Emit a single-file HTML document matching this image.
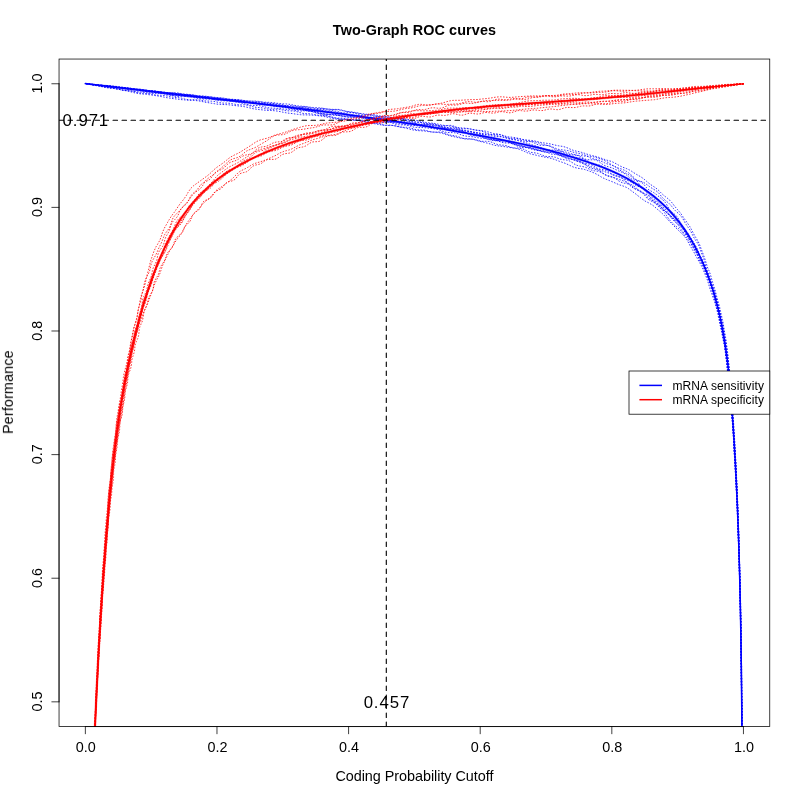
<!DOCTYPE html>
<html><head><meta charset="utf-8"><title>Two-Graph ROC curves</title>
<style>html,body{margin:0;padding:0;background:#fff;width:800px;height:800px;overflow:hidden}</style></head>
<body>
<svg width="800" height="800" viewBox="0 0 800 800" style="position:absolute;left:0;top:0;font-family:'Liberation Sans',sans-serif">
<defs><clipPath id="c"><rect x="59.04" y="59.04" width="710.72" height="667.52"/></clipPath></defs>
<rect width="800" height="800" fill="#fff"/>
<g clip-path="url(#c)" fill="none" stroke-linejoin="round">
<path d="M742.4,760.0 742.4,758.3 742.3,756.7 742.3,755.0 742.3,753.3 742.3,751.6 742.3,750.0 742.3,748.3 742.3,746.6 742.2,745.0 742.2,743.3 742.2,741.6 742.2,739.9 742.2,738.3 742.2,736.6 742.1,734.9 742.1,733.3 742.1,731.6 742.1,729.9 742.1,728.2 742.1,726.6 742.0,724.9 742.0,723.2 742.0,721.6 742.0,719.9 742.0,718.2 742.0,716.5 742.0,714.9 741.9,713.2 741.9,711.5 741.9,709.9 741.9,708.2 741.9,706.5 741.9,704.8 741.9,703.2 741.9,701.5 741.8,699.8 741.8,698.2 741.8,696.5 741.8,694.8 741.8,693.1 741.8,691.5 741.8,689.8 741.7,688.1 741.7,686.5 741.7,684.8 741.7,683.1 741.7,681.4 741.7,679.8 741.7,678.1 741.6,676.4 741.6,674.8 741.6,673.1 741.6,671.4 741.6,669.7 741.6,668.1 741.6,666.4 741.5,664.7 741.5,663.0 741.5,661.4 741.4,659.7 741.4,658.0 741.4,656.4 741.4,654.7 741.4,653.0 741.3,651.3 741.3,649.7 741.3,648.0 741.3,646.3 741.2,644.7 741.2,643.0 741.2,641.3 741.2,639.6 741.2,638.0 741.1,636.3 741.1,634.6 741.1,633.0 741.1,631.3 741.0,629.6 741.0,627.9 741.0,626.3 740.9,624.6 740.9,622.9 740.9,621.3 740.9,619.6 740.9,617.9 740.8,616.2 740.8,614.6 740.8,612.9 740.7,611.2 740.7,609.6 740.7,607.9 740.6,606.2 740.6,604.5 740.6,602.9 740.6,601.2 740.5,599.5 740.5,597.9 740.4,596.2 740.4,594.5 740.3,592.8 740.3,591.2 740.3,589.5 740.2,587.8 740.2,586.2 740.1,584.5 740.1,582.8 740.0,581.1 740.0,579.5 739.9,577.8 739.9,576.1 739.9,574.5 739.8,572.8 739.8,571.1 739.8,569.4 739.7,567.8 739.7,566.1 739.6,564.4 739.6,562.8 739.5,561.1 739.5,559.4 739.4,557.7 739.4,556.1 739.4,554.4 739.3,552.7 739.3,551.1 739.2,549.4 739.2,547.7 739.1,546.0 739.1,544.4 739.0,542.7 739.0,541.0 738.9,539.4 738.9,537.7 738.8,536.0 738.8,534.4 738.7,532.7 738.7,531.0 738.6,529.3 738.5,527.7 738.5,526.0 738.4,524.3 738.4,522.7 738.3,521.0 738.3,519.3 738.2,517.6 738.2,516.0 738.1,514.3 738.0,512.6 737.9,511.0 737.9,509.3 737.8,507.6 737.8,506.0 737.7,504.3 737.7,502.6 737.6,500.9 737.5,499.3 737.4,497.6 737.4,495.9 737.3,494.3 737.2,492.6 737.2,490.9 737.1,489.2 737.1,487.6 737.0,485.9 736.9,484.2 736.8,482.6 736.8,480.9 736.7,479.2 736.6,477.6 736.6,475.9 736.5,474.2 736.4,472.5 736.4,470.9 736.3,469.2 736.2,467.5 736.1,465.9 736.0,464.2 735.9,462.5 735.8,460.9 735.7,459.2 735.6,457.5 735.5,455.8 735.5,454.2 735.4,452.5 735.3,450.8 735.2,449.2 735.1,447.5 735.0,445.8 734.9,444.2 734.8,442.5 734.7,440.8 734.6,439.1 734.5,437.5 734.4,435.8 734.3,434.1 734.2,432.5 734.1,430.8 734.0,429.1 733.9,427.5 733.8,425.8 733.7,424.1 733.6,422.5 733.5,420.8 733.4,419.1 733.3,417.4 733.1,415.8 733.0,414.1 732.9,412.4 732.8,410.8 732.7,409.1 732.6,407.4 732.5,405.8 732.4,404.1 732.3,402.4 732.2,400.8 732.0,399.1 731.9,397.4 731.8,395.8 731.6,394.1 731.5,392.4 731.4,390.7 731.3,389.1 731.1,387.4 731.0,385.8 730.8,384.1 730.6,382.4 730.4,380.8 730.3,379.1 730.1,377.4 730.0,375.8 729.9,374.1 729.7,372.4 729.6,370.8 729.4,369.1 729.2,367.4 729.0,365.8 728.8,364.1 728.6,362.5 728.5,360.8 728.3,359.1 728.2,357.5 728.0,355.8 727.8,354.1 727.6,352.5 727.4,350.8 727.2,349.2 727.0,347.5 726.7,345.8 726.5,344.2 726.3,342.5 726.1,340.9 725.9,339.2 725.6,337.6 725.3,335.9 725.0,334.3 724.7,332.6 724.4,331.0 724.1,329.3 723.9,327.7 723.6,326.0 723.4,324.3 723.1,322.7 722.8,321.0 722.4,319.4 722.0,317.8 721.6,316.1 721.2,314.5 720.9,312.9 720.5,311.2 720.1,309.6 719.8,307.9 719.4,306.3 719.0,304.7 718.5,303.1 718.1,301.4 717.6,299.8 717.2,298.2 716.7,296.5 716.3,294.9 715.9,293.3 715.5,291.6 715.0,290.0 714.5,288.4 714.0,286.8 713.5,285.2 713.0,283.5 712.5,281.9 712.0,280.3 711.5,278.6 711.1,277.0 710.6,275.3 710.1,273.7 709.5,272.1 708.9,270.5 708.2,269.0 707.5,267.4 707.0,265.8 706.5,264.1 706.0,262.5 705.5,260.8 705.0,259.2 704.4,257.6 703.8,255.9 703.2,254.3 702.6,252.7 702.0,251.1 701.4,249.5 700.8,247.9 700.2,246.2 699.6,244.6 698.9,243.0 698.1,241.5 697.2,240.0 696.4,238.5 695.5,237.1 694.6,235.6 693.8,234.1 693.0,232.5 692.2,231.0 691.4,229.4 690.6,227.9 689.7,226.4 688.8,225.0 687.8,223.6 686.8,222.2 685.8,220.8 684.8,219.4 683.8,217.9 682.8,216.5 681.9,215.1 680.9,213.7 679.8,212.3 678.7,211.0 677.6,209.7 676.4,208.4 675.3,207.0 674.2,205.7 673.2,204.3 672.1,202.9 671.0,201.6 669.8,200.3 668.5,199.2 667.2,198.0 665.8,197.0 664.4,195.9 663.1,194.8 661.8,193.6 660.6,192.4 659.4,191.1 658.1,189.9 656.8,188.8 655.4,187.7 653.9,186.7 652.5,185.8 651.0,184.8 649.6,183.8 648.2,182.7 646.9,181.6 645.6,180.4 644.2,179.3 642.8,178.2 641.4,177.2 639.9,176.3 638.4,175.5 636.9,174.6 635.4,173.7 633.9,172.8 632.4,171.8 631.0,170.8 629.5,170.0 627.9,169.2 626.3,168.5 624.6,167.9 623.0,167.3 621.4,166.6 619.9,165.9 618.3,165.0 616.8,164.1 615.3,163.3 613.8,162.5 612.2,161.8 610.6,161.2 608.9,160.7 607.3,160.3 605.6,159.8 604.0,159.2 602.4,158.6 600.8,158.0 599.2,157.5 597.6,156.9 596.0,156.5 594.4,156.1 592.7,155.7 591.0,155.4 589.4,154.9 587.8,154.4 586.2,153.9 584.6,153.3 583.1,152.8 581.4,152.3 579.8,151.9 578.2,151.5 576.5,151.2 574.9,150.8 573.2,150.3 571.6,149.7 570.1,149.1 568.5,148.4 566.9,147.7 565.3,147.1 563.7,146.7 562.0,146.3 560.3,146.1 558.6,145.8 556.9,145.5 555.2,145.1 553.6,144.7 551.9,144.3 550.2,143.9 548.6,143.6 546.9,143.3 545.2,143.1 543.5,142.9 541.8,142.6 540.1,142.3 538.5,141.9 536.8,141.5 535.2,141.1 533.5,140.8 531.8,140.5 530.1,140.3 528.4,140.2 526.7,140.1 525.1,139.9 523.4,139.6 521.7,139.2 520.1,138.8 518.5,138.4 516.8,138.0 515.2,137.7 513.5,137.4 511.8,137.2 510.2,137.0 508.5,136.8 506.8,136.5 505.2,136.1 503.6,135.7 501.9,135.2 500.3,134.8 498.7,134.4 497.0,134.1 495.4,133.8 493.7,133.5 492.1,133.1 490.5,132.6 488.8,132.1 487.2,131.7 485.6,131.2 483.9,130.9 482.3,130.7 480.6,130.5 478.9,130.4 477.2,130.3 475.6,130.1 473.9,129.8 472.3,129.5 470.6,129.1 469.0,128.7 467.3,128.4 465.7,128.2 464.0,128.1 462.3,128.0 460.6,127.9 458.9,127.7 457.3,127.5 455.6,127.2 454.0,126.8 452.3,126.5 450.7,126.2 449.0,126.0 447.4,125.8 445.7,125.6 444.0,125.4 442.4,125.1 440.7,124.8 439.1,124.4 437.5,124.0 435.8,123.6 434.2,123.4 432.5,123.2 430.8,123.1 429.2,122.9 427.5,122.7 425.9,122.5 424.2,122.1 422.6,121.7 421.0,121.3 419.3,120.9 417.7,120.6 416.0,120.3 414.4,120.1 412.7,120.0 411.0,119.8 409.4,119.6 407.7,119.4 406.1,119.1 404.4,118.8 402.8,118.6 401.1,118.5 399.4,118.4 397.7,118.3 396.0,118.2 394.4,118.1 392.7,117.9 391.1,117.7 389.4,117.4 387.8,117.2 386.1,117.0 384.4,116.9 382.7,116.8 381.1,116.7 379.4,116.6 377.7,116.4 376.1,116.2 374.4,115.8 372.8,115.4 371.2,115.0 369.5,114.7 367.9,114.4 366.2,114.2 364.6,114.0 362.9,113.8 361.3,113.6 359.6,113.3 358.0,113.0 356.3,112.7 354.7,112.4 353.0,112.1 351.4,111.9 349.7,111.8 348.1,111.6 346.4,111.4 344.7,111.1 343.1,110.8 341.5,110.4 339.8,110.1 338.2,109.9 336.5,109.7 334.8,109.6 333.2,109.5 331.5,109.5 329.8,109.4 328.2,109.2 326.5,109.0 324.8,108.7 323.2,108.4 321.6,108.1 319.9,107.9 318.2,107.8 316.6,107.7 314.9,107.6 313.2,107.5 311.5,107.4 309.9,107.2 308.2,107.0 306.6,106.7 304.9,106.5 303.3,106.3 301.6,106.2 299.9,106.1 298.3,105.9 296.6,105.7 295.0,105.4 293.3,105.1 291.7,104.7 290.0,104.4 288.4,104.2 286.7,104.0 285.1,103.9 283.4,103.8 281.7,103.7 280.1,103.6 278.4,103.4 276.7,103.2 275.1,102.9 273.4,102.7 271.8,102.5 270.1,102.4 268.4,102.3 266.8,102.3 265.1,102.2 263.4,102.2 261.7,102.0 260.1,101.9 258.4,101.7 256.8,101.5 255.1,101.4 253.4,101.3 251.7,101.2 250.1,101.1 248.4,101.0 246.8,100.8 245.1,100.6 243.4,100.3 241.8,100.1 240.1,99.8 238.5,99.6 236.8,99.5 235.1,99.5 233.5,99.4 231.8,99.3 230.1,99.2 228.5,99.0 226.8,98.7 225.2,98.4 223.5,98.2 221.9,98.0 220.2,97.8 218.5,97.6 216.9,97.5 215.2,97.4 213.5,97.2 211.9,97.0 210.2,96.8 208.6,96.5 206.9,96.3 205.2,96.2 203.6,96.0 201.9,95.9 200.2,95.8 198.6,95.7 196.9,95.6 195.2,95.4 193.6,95.1 191.9,94.9 190.3,94.8 188.6,94.7 186.9,94.6 185.2,94.5 183.6,94.5 181.9,94.4 180.2,94.2 178.6,94.0 176.9,93.8 175.3,93.5 173.6,93.2 171.9,93.0 170.3,92.9 168.6,92.7 166.9,92.6 165.3,92.4 163.6,92.2 162.0,92.0 160.3,91.7 158.7,91.5 157.0,91.3 155.3,91.1 153.7,91.0 152.0,90.8 150.3,90.7 148.7,90.5 147.0,90.2 145.3,90.0 143.7,89.7 142.0,89.5 140.4,89.2 138.7,89.1 137.0,89.0 135.4,88.9 133.7,88.7 132.0,88.6 130.4,88.4 128.7,88.1 127.0,87.9 125.4,87.7 123.7,87.5 122.1,87.3 120.4,87.2 118.7,87.0 117.0,86.9 115.4,86.7 113.7,86.5 112.0,86.3 110.4,86.1 108.7,86.0 107.0,85.8 105.4,85.7 103.7,85.5 102.0,85.4 100.4,85.2 98.7,85.0 97.0,84.8 95.4,84.6 93.7,84.4 92.0,84.2 90.4,84.0 88.7,83.9 87.0,83.7 85.4,83.5" stroke="#00f" stroke-width="0.8" stroke-dasharray="0.75 2.25" stroke-linecap="round"/>
<path d="M742.4,760.0 742.4,758.3 742.4,756.7 742.3,755.0 742.3,753.3 742.3,751.6 742.3,750.0 742.3,748.3 742.3,746.6 742.3,745.0 742.2,743.3 742.2,741.6 742.2,739.9 742.2,738.3 742.2,736.6 742.2,734.9 742.2,733.3 742.2,731.6 742.2,729.9 742.1,728.2 742.1,726.6 742.1,724.9 742.1,723.2 742.1,721.6 742.1,719.9 742.0,718.2 742.0,716.5 742.0,714.9 742.0,713.2 741.9,711.5 741.9,709.9 741.9,708.2 741.9,706.5 741.9,704.8 741.9,703.2 741.9,701.5 741.8,699.8 741.8,698.2 741.8,696.5 741.8,694.8 741.8,693.1 741.7,691.5 741.7,689.8 741.7,688.1 741.7,686.5 741.7,684.8 741.7,683.1 741.6,681.4 741.6,679.8 741.6,678.1 741.6,676.4 741.5,674.8 741.5,673.1 741.5,671.4 741.5,669.7 741.5,668.1 741.5,666.4 741.5,664.7 741.4,663.0 741.4,661.4 741.4,659.7 741.4,658.0 741.4,656.4 741.4,654.7 741.4,653.0 741.3,651.3 741.3,649.7 741.3,648.0 741.2,646.3 741.2,644.7 741.2,643.0 741.1,641.3 741.1,639.6 741.1,638.0 741.1,636.3 741.0,634.6 741.0,633.0 740.9,631.3 740.9,629.6 740.9,627.9 740.9,626.3 740.9,624.6 740.9,622.9 740.8,621.3 740.8,619.6 740.8,617.9 740.8,616.2 740.7,614.6 740.7,612.9 740.7,611.2 740.7,609.6 740.6,607.9 740.6,606.2 740.6,604.5 740.6,602.9 740.5,601.2 740.5,599.5 740.4,597.9 740.4,596.2 740.3,594.5 740.3,592.8 740.3,591.2 740.3,589.5 740.2,587.8 740.2,586.2 740.2,584.5 740.1,582.8 740.1,581.1 740.0,579.5 740.0,577.8 740.0,576.1 739.9,574.5 739.9,572.8 739.9,571.1 739.8,569.4 739.7,567.8 739.7,566.1 739.6,564.4 739.5,562.8 739.5,561.1 739.4,559.4 739.4,557.7 739.3,556.1 739.3,554.4 739.2,552.7 739.2,551.1 739.1,549.4 739.0,547.7 739.0,546.1 739.0,544.4 738.9,542.7 738.9,541.0 738.9,539.4 738.8,537.7 738.8,536.0 738.7,534.4 738.7,532.7 738.6,531.0 738.6,529.3 738.5,527.7 738.5,526.0 738.4,524.3 738.4,522.7 738.3,521.0 738.2,519.3 738.1,517.6 738.0,516.0 737.9,514.3 737.9,512.6 737.8,511.0 737.8,509.3 737.7,507.6 737.7,506.0 737.6,504.3 737.5,502.6 737.4,500.9 737.3,499.3 737.3,497.6 737.2,495.9 737.1,494.3 737.1,492.6 737.0,490.9 737.0,489.3 736.9,487.6 736.8,485.9 736.7,484.2 736.6,482.6 736.5,480.9 736.4,479.2 736.3,477.6 736.3,475.9 736.2,474.2 736.1,472.6 736.1,470.9 736.0,469.2 735.9,467.5 735.8,465.9 735.7,464.2 735.7,462.5 735.6,460.9 735.6,459.2 735.5,457.5 735.5,455.8 735.4,454.2 735.3,452.5 735.2,450.8 735.1,449.2 735.0,447.5 734.9,445.8 734.8,444.2 734.7,442.5 734.6,440.8 734.5,439.2 734.4,437.5 734.2,435.8 734.1,434.2 733.9,432.5 733.8,430.8 733.7,429.2 733.6,427.5 733.6,425.8 733.5,424.1 733.4,422.5 733.3,420.8 733.2,419.1 733.0,417.5 732.9,415.8 732.8,414.1 732.7,412.5 732.7,410.8 732.6,409.1 732.5,407.4 732.4,405.8 732.2,404.1 732.0,402.4 731.9,400.8 731.7,399.1 731.6,397.4 731.5,395.8 731.4,394.1 731.3,392.4 731.1,390.8 731.0,389.1 730.8,387.4 730.7,385.8 730.5,384.1 730.3,382.4 730.2,380.8 730.1,379.1 730.0,377.4 729.9,375.8 729.7,374.1 729.5,372.4 729.3,370.8 729.1,369.1 728.8,367.5 728.6,365.8 728.4,364.2 728.2,362.5 728.0,360.9 727.8,359.2 727.5,357.5 727.3,355.9 727.0,354.2 726.7,352.6 726.4,351.0 726.1,349.3 725.9,347.7 725.7,346.0 725.5,344.3 725.3,342.7 725.1,341.0 724.9,339.4 724.6,337.7 724.3,336.1 724.0,334.4 723.8,332.8 723.5,331.1 723.3,329.5 723.1,327.8 722.8,326.2 722.5,324.5 722.2,322.9 721.8,321.3 721.3,319.6 720.9,318.0 720.6,316.4 720.2,314.7 719.9,313.1 719.6,311.5 719.2,309.8 718.8,308.2 718.4,306.6 718.0,304.9 717.5,303.3 717.1,301.7 716.6,300.1 716.3,298.4 715.9,296.8 715.6,295.1 715.2,293.5 714.7,291.9 714.2,290.3 713.6,288.7 713.0,287.1 712.4,285.5 711.9,283.9 711.4,282.3 710.9,280.7 710.4,279.0 709.8,277.4 709.2,275.8 708.6,274.3 707.9,272.7 707.3,271.1 706.7,269.6 706.2,267.9 705.7,266.3 705.4,264.6 705.0,262.9 704.6,261.2 704.0,259.6 703.5,258.0 702.8,256.4 702.2,254.8 701.6,253.2 701.0,251.6 700.5,250.0 699.9,248.3 699.3,246.7 698.6,245.1 697.8,243.6 696.9,242.2 696.0,240.8 695.0,239.3 694.1,237.9 693.3,236.4 692.5,234.9 691.8,233.3 691.0,231.8 690.1,230.3 689.2,228.9 688.2,227.5 687.2,226.1 686.3,224.7 685.3,223.2 684.5,221.7 683.7,220.2 682.8,218.7 681.9,217.3 680.8,215.9 679.7,214.7 678.4,213.5 677.1,212.3 675.9,211.2 674.7,210.0 673.6,208.7 672.5,207.3 671.4,206.0 670.3,204.7 669.1,203.5 667.8,202.4 666.5,201.3 665.1,200.2 663.9,199.1 662.7,197.9 661.5,196.6 660.5,195.2 659.4,193.8 658.2,192.5 656.9,191.4 655.5,190.4 654.0,189.5 652.5,188.6 651.1,187.7 649.6,186.7 648.3,185.7 646.9,184.6 645.5,183.6 644.0,182.7 642.5,182.0 640.8,181.4 639.1,180.9 637.4,180.3 635.9,179.7 634.4,178.8 633.0,177.9 631.6,176.8 630.2,175.8 628.8,174.9 627.3,174.0 625.8,173.3 624.2,172.5 622.7,171.8 621.2,170.9 619.8,170.0 618.4,168.9 617.0,167.9 615.6,166.9 614.1,166.1 612.5,165.4 610.9,164.9 609.2,164.5 607.6,164.0 606.0,163.5 604.5,162.8 603.0,162.0 601.4,161.3 599.9,160.6 598.3,160.0 596.7,159.5 595.1,159.2 593.4,158.8 591.8,158.3 590.2,157.8 588.7,157.0 587.2,156.2 585.7,155.4 584.2,154.7 582.6,154.2 581.0,153.8 579.3,153.5 577.6,153.2 575.9,152.9 574.3,152.5 572.7,152.0 571.1,151.5 569.5,151.0 567.8,150.6 566.2,150.3 564.4,150.1 562.7,149.9 561.0,149.8 559.3,149.5 557.7,149.1 556.1,148.5 554.5,147.8 552.9,147.1 551.3,146.5 549.7,146.0 548.1,145.6 546.4,145.3 544.7,144.9 543.1,144.5 541.5,144.0 539.9,143.4 538.3,142.8 536.7,142.3 535.0,141.9 533.3,141.6 531.6,141.6 529.9,141.6 528.1,141.5 526.4,141.5 524.8,141.2 523.1,140.9 521.5,140.5 519.8,140.2 518.1,140.0 516.5,139.8 514.8,139.7 513.0,139.7 511.4,139.5 509.7,139.2 508.1,138.8 506.5,138.3 504.9,137.7 503.3,137.3 501.6,136.9 499.9,136.7 498.2,136.6 496.5,136.5 494.9,136.4 493.2,136.2 491.5,135.9 489.9,135.5 488.3,135.1 486.6,134.7 485.0,134.5 483.3,134.3 481.6,134.2 479.9,134.1 478.3,133.9 476.6,133.6 475.0,133.1 473.4,132.5 471.8,131.9 470.2,131.3 468.6,130.9 467.0,130.5 465.3,130.3 463.6,130.1 462.0,129.8 460.3,129.4 458.7,128.9 457.1,128.5 455.5,128.0 453.8,127.7 452.2,127.6 450.5,127.5 448.8,127.6 447.1,127.6 445.4,127.6 443.7,127.4 442.0,127.1 440.4,126.8 438.8,126.4 437.1,126.1 435.5,125.8 433.8,125.7 432.1,125.5 430.5,125.3 428.8,125.0 427.2,124.6 425.6,124.0 424.0,123.4 422.4,122.9 420.8,122.5 419.1,122.2 417.5,122.0 415.8,121.9 414.1,121.7 412.5,121.5 410.8,121.2 409.2,120.8 407.6,120.4 405.9,120.0 404.3,119.7 402.6,119.5 400.9,119.4 399.3,119.4 397.6,119.2 395.9,118.9 394.3,118.6 392.7,118.1 391.1,117.6 389.5,117.1 387.8,116.8 386.2,116.5 384.5,116.4 382.8,116.2 381.2,116.1 379.5,115.8 377.9,115.5 376.2,115.2 374.6,114.8 372.9,114.6 371.3,114.5 369.6,114.4 367.9,114.5 366.2,114.6 364.5,114.5 362.8,114.4 361.2,114.1 359.6,113.7 357.9,113.3 356.3,113.0 354.6,112.7 353.0,112.5 351.3,112.3 349.7,112.1 348.0,111.8 346.4,111.4 344.8,111.0 343.1,110.5 341.5,110.0 339.9,109.6 338.2,109.4 336.5,109.4 334.9,109.4 333.2,109.4 331.5,109.3 329.8,109.2 328.2,109.0 326.5,108.8 324.9,108.6 323.2,108.4 321.5,108.4 319.8,108.4 318.1,108.5 316.5,108.5 314.8,108.4 313.1,108.1 311.5,107.8 309.9,107.5 308.2,107.2 306.6,106.9 304.9,106.8 303.2,106.7 301.5,106.7 299.9,106.7 298.2,106.6 296.5,106.4 294.9,106.2 293.2,105.9 291.6,105.7 289.9,105.6 288.2,105.5 286.5,105.5 284.9,105.6 283.2,105.5 281.5,105.4 279.9,105.1 278.2,104.8 276.6,104.4 275.0,104.1 273.3,103.8 271.6,103.6 270.0,103.4 268.3,103.3 266.7,103.0 265.0,102.8 263.4,102.4 261.7,102.0 260.1,101.6 258.5,101.4 256.8,101.2 255.1,101.1 253.4,101.2 251.7,101.2 250.1,101.2 248.4,101.1 246.7,101.0 245.1,100.7 243.4,100.5 241.8,100.4 240.1,100.3 238.4,100.2 236.7,100.2 235.1,100.2 233.4,100.0 231.7,99.8 230.1,99.5 228.5,99.1 226.8,98.8 225.2,98.5 223.5,98.3 221.8,98.2 220.2,98.1 218.5,98.0 216.8,97.8 215.2,97.6 213.5,97.4 211.9,97.1 210.2,96.8 208.6,96.6 206.9,96.5 205.2,96.5 203.5,96.4 201.9,96.4 200.2,96.2 198.5,96.0 196.9,95.7 195.2,95.3 193.6,95.0 191.9,94.7 190.3,94.5 188.6,94.4 187.0,94.3 185.3,94.1 183.6,93.9 182.0,93.7 180.3,93.4 178.7,93.1 177.0,92.9 175.3,92.8 173.7,92.7 172.0,92.8 170.3,92.8 168.6,92.8 166.9,92.7 165.3,92.6 163.6,92.4 161.9,92.2 160.3,92.0 158.6,91.8 156.9,91.7 155.3,91.7 153.6,91.6 151.9,91.4 150.3,91.2 148.6,90.8 147.0,90.5 145.3,90.1 143.7,89.8 142.0,89.5 140.4,89.4 138.7,89.2 137.0,89.1 135.3,89.0 133.7,88.8 132.0,88.5 130.4,88.2 128.7,88.0 127.1,87.8 125.4,87.7 123.7,87.6 122.0,87.5 120.3,87.4 118.7,87.3 117.0,87.1 115.4,86.8 113.7,86.5 112.0,86.3 110.4,86.1 108.7,85.9 107.0,85.7 105.4,85.6 103.7,85.5 102.0,85.3 100.4,85.1 98.7,84.9 97.0,84.7 95.4,84.5 93.7,84.4 92.0,84.2 90.4,84.1 88.7,83.9 87.0,83.8 85.3,83.6" stroke="#00f" stroke-width="0.8" stroke-dasharray="0.75 2.25" stroke-linecap="round"/>
<path d="M742.2,760.0 742.2,758.3 742.2,756.7 742.2,755.0 742.2,753.3 742.2,751.6 742.2,750.0 742.1,748.3 742.1,746.6 742.1,745.0 742.1,743.3 742.0,741.6 742.0,739.9 742.0,738.3 742.0,736.6 742.0,734.9 742.0,733.3 742.0,731.6 742.0,729.9 742.0,728.2 742.0,726.6 741.9,724.9 741.9,723.2 741.9,721.6 741.9,719.9 741.9,718.2 741.9,716.5 741.9,714.9 741.8,713.2 741.8,711.5 741.8,709.9 741.8,708.2 741.8,706.5 741.8,704.8 741.8,703.2 741.7,701.5 741.7,699.8 741.7,698.2 741.6,696.5 741.6,694.8 741.6,693.1 741.6,691.5 741.6,689.8 741.6,688.1 741.6,686.5 741.6,684.8 741.6,683.1 741.6,681.4 741.5,679.8 741.5,678.1 741.5,676.4 741.4,674.8 741.4,673.1 741.4,671.4 741.4,669.7 741.4,668.1 741.4,666.4 741.3,664.7 741.3,663.1 741.3,661.4 741.3,659.7 741.3,658.0 741.3,656.4 741.3,654.7 741.2,653.0 741.2,651.3 741.2,649.7 741.1,648.0 741.1,646.3 741.0,644.7 741.0,643.0 741.0,641.3 741.0,639.6 741.0,638.0 741.0,636.3 741.0,634.6 740.9,633.0 740.9,631.3 740.9,629.6 740.8,627.9 740.8,626.3 740.7,624.6 740.7,622.9 740.7,621.3 740.6,619.6 740.6,617.9 740.6,616.2 740.6,614.6 740.5,612.9 740.5,611.2 740.5,609.6 740.5,607.9 740.5,606.2 740.5,604.5 740.4,602.9 740.4,601.2 740.4,599.5 740.3,597.9 740.2,596.2 740.2,594.5 740.2,592.8 740.1,591.2 740.1,589.5 740.1,587.8 740.1,586.2 740.1,584.5 740.1,582.8 740.0,581.1 740.0,579.5 739.9,577.8 739.8,576.1 739.8,574.5 739.7,572.8 739.7,571.1 739.7,569.4 739.6,567.8 739.6,566.1 739.5,564.4 739.5,562.8 739.5,561.1 739.4,559.4 739.4,557.7 739.4,556.1 739.4,554.4 739.3,552.7 739.3,551.1 739.2,549.4 739.1,547.7 739.0,546.1 739.0,544.4 738.9,542.7 738.9,541.0 738.9,539.4 738.9,537.7 738.9,536.0 738.8,534.4 738.8,532.7 738.7,531.0 738.6,529.3 738.6,527.7 738.5,526.0 738.4,524.3 738.4,522.7 738.3,521.0 738.3,519.3 738.2,517.6 738.2,516.0 738.1,514.3 738.0,512.6 738.0,511.0 737.9,509.3 737.9,507.6 737.8,505.9 737.8,504.3 737.7,502.6 737.6,500.9 737.5,499.3 737.3,497.6 737.2,495.9 737.1,494.3 737.0,492.6 737.0,490.9 737.0,489.3 737.0,487.6 736.9,485.9 736.9,484.2 736.8,482.6 736.7,480.9 736.6,479.2 736.4,477.6 736.4,475.9 736.3,474.2 736.2,472.6 736.1,470.9 736.0,469.2 735.9,467.5 735.8,465.9 735.7,464.2 735.7,462.5 735.6,460.9 735.5,459.2 735.5,457.5 735.4,455.9 735.3,454.2 735.2,452.5 735.1,450.8 734.9,449.2 734.7,447.5 734.6,445.9 734.5,444.2 734.4,442.5 734.3,440.8 734.3,439.2 734.2,437.5 734.2,435.8 734.1,434.2 733.9,432.5 733.8,430.8 733.6,429.2 733.5,427.5 733.3,425.8 733.2,424.2 733.1,422.5 732.9,420.8 732.8,419.2 732.7,417.5 732.5,415.8 732.4,414.2 732.3,412.5 732.3,410.8 732.2,409.1 732.1,407.5 732.1,405.8 731.9,404.1 731.8,402.5 731.6,400.8 731.4,399.1 731.2,397.5 731.0,395.8 730.9,394.1 730.8,392.5 730.8,390.8 730.7,389.1 730.6,387.5 730.5,385.8 730.4,384.1 730.2,382.5 730.0,380.8 729.7,379.1 729.5,377.5 729.4,375.8 729.2,374.2 729.0,372.5 728.8,370.8 728.6,369.2 728.4,367.5 728.2,365.9 728.0,364.2 727.8,362.6 727.7,360.9 727.6,359.2 727.4,357.6 727.2,355.9 727.0,354.2 726.7,352.6 726.3,351.0 726.0,349.3 725.6,347.7 725.3,346.1 725.1,344.4 724.9,342.7 724.8,341.1 724.6,339.4 724.4,337.8 724.2,336.1 723.9,334.5 723.5,332.8 723.2,331.2 722.9,329.6 722.5,327.9 722.2,326.3 721.9,324.6 721.6,323.0 721.2,321.4 720.8,319.7 720.4,318.1 720.1,316.5 719.8,314.8 719.5,313.2 719.2,311.5 718.9,309.9 718.6,308.2 718.1,306.6 717.6,305.0 717.0,303.4 716.4,301.9 715.7,300.3 715.2,298.7 714.7,297.1 714.2,295.5 713.9,293.9 713.5,292.2 713.1,290.6 712.7,289.0 712.2,287.4 711.6,285.8 711.0,284.2 710.4,282.6 709.8,281.0 709.2,279.4 708.7,277.9 708.1,276.3 707.4,274.7 706.8,273.1 706.1,271.6 705.5,270.0 704.9,268.5 704.3,266.9 703.9,265.2 703.4,263.6 702.9,261.9 702.4,260.3 701.7,258.8 700.8,257.3 699.9,255.9 698.9,254.5 698.0,253.1 697.1,251.6 696.4,250.1 695.8,248.5 695.3,246.9 694.8,245.3 694.1,243.7 693.4,242.2 692.6,240.8 691.6,239.3 690.7,237.9 689.8,236.6 688.9,235.2 687.9,233.7 687.0,232.4 686.0,231.0 685.0,229.7 684.0,228.4 682.9,227.1 681.9,225.8 681.0,224.3 680.3,222.8 679.6,221.3 678.9,219.7 678.1,218.2 677.1,216.8 676.0,215.5 674.8,214.4 673.4,213.3 672.1,212.3 670.9,211.2 669.8,209.9 668.8,208.5 668.0,207.0 667.2,205.5 666.3,203.9 665.3,202.5 664.2,201.2 663.0,200.1 661.7,199.0 660.4,197.9 659.1,196.8 657.8,195.7 656.5,194.6 655.1,193.6 653.7,192.6 652.3,191.8 650.8,190.9 649.3,190.1 648.0,189.1 646.7,187.9 645.6,186.6 644.5,185.2 643.3,183.8 642.0,182.7 640.6,181.8 639.0,181.1 637.2,180.7 635.5,180.3 633.7,179.9 632.1,179.3 630.7,178.5 629.3,177.5 628.0,176.3 626.7,175.2 625.3,174.1 623.9,173.2 622.4,172.4 620.8,171.8 619.2,171.2 617.7,170.5 616.1,169.8 614.6,169.1 613.1,168.4 611.5,167.7 609.9,167.2 608.3,166.8 606.7,166.3 605.1,165.7 603.6,165.0 602.2,164.1 600.8,163.0 599.4,161.9 598.0,161.0 596.4,160.3 594.8,159.9 593.1,159.7 591.3,159.8 589.5,159.8 587.8,159.7 586.2,159.4 584.6,158.9 583.1,158.1 581.6,157.3 580.1,156.5 578.6,155.8 577.0,155.3 575.3,154.8 573.7,154.4 572.1,154.0 570.5,153.5 568.8,153.0 567.2,152.5 565.6,152.0 564.0,151.7 562.3,151.4 560.6,151.1 558.9,150.8 557.3,150.3 555.7,149.7 554.2,148.8 552.7,147.8 551.2,146.9 549.7,146.1 548.1,145.6 546.4,145.3 544.6,145.3 542.9,145.3 541.2,145.3 539.5,145.1 537.8,144.6 536.2,144.0 534.7,143.2 533.1,142.4 531.6,141.7 530.0,141.2 528.3,140.7 526.7,140.4 525.0,140.1 523.4,139.7 521.7,139.4 520.1,139.0 518.4,138.7 516.7,138.5 515.0,138.4 513.3,138.4 511.6,138.3 509.9,138.2 508.3,137.9 506.7,137.3 505.1,136.6 503.5,135.8 502.0,135.1 500.4,134.6 498.7,134.3 497.0,134.3 495.3,134.3 493.5,134.5 491.8,134.5 490.1,134.3 488.5,133.8 486.9,133.2 485.3,132.6 483.8,131.9 482.2,131.3 480.5,130.9 478.9,130.6 477.2,130.3 475.6,130.0 473.9,129.7 472.3,129.3 470.6,129.0 469.0,128.8 467.3,128.7 465.6,128.7 463.9,128.7 462.2,128.7 460.5,128.5 458.9,128.2 457.3,127.6 455.7,127.0 454.1,126.3 452.5,125.7 450.8,125.4 449.1,125.3 447.4,125.5 445.7,125.7 443.9,125.9 442.2,126.0 440.5,125.9 438.9,125.7 437.3,125.2 435.7,124.8 434.0,124.4 432.4,124.0 430.7,123.8 429.1,123.6 427.4,123.5 425.7,123.2 424.1,123.0 422.4,122.7 420.8,122.5 419.1,122.3 417.4,122.3 415.7,122.3 414.0,122.3 412.4,122.2 410.7,121.9 409.1,121.4 407.5,120.8 405.9,120.1 404.3,119.4 402.7,118.9 401.1,118.7 399.4,118.7 397.7,118.8 395.9,119.0 394.2,119.2 392.5,119.2 390.9,119.0 389.2,118.7 387.6,118.3 386.0,117.9 384.3,117.6 382.7,117.3 381.0,117.1 379.4,116.9 377.7,116.7 376.0,116.5 374.4,116.2 372.7,116.0 371.1,115.8 369.4,115.7 367.7,115.7 366.0,115.8 364.3,115.8 362.7,115.7 361.0,115.4 359.4,115.0 357.8,114.4 356.2,113.7 354.6,113.2 352.9,112.8 351.3,112.7 349.6,112.7 347.9,112.8 346.2,112.9 344.5,113.0 342.8,112.8 341.2,112.5 339.6,112.1 337.9,111.7 336.3,111.3 334.7,111.0 333.0,110.7 331.3,110.5 329.7,110.3 328.0,110.1 326.4,109.8 324.7,109.6 323.1,109.4 321.4,109.3 319.7,109.4 318.0,109.5 316.3,109.6 314.6,109.7 312.9,109.7 311.3,109.5 309.7,109.1 308.0,108.6 306.4,108.1 304.8,107.8 303.1,107.6 301.4,107.6 299.7,107.8 298.0,108.0 296.3,108.1 294.6,108.1 293.0,108.0 291.3,107.7 289.7,107.4 288.1,107.0 286.4,106.7 284.8,106.4 283.1,106.2 281.4,106.0 279.8,105.8 278.1,105.5 276.5,105.2 274.8,105.0 273.2,104.8 271.5,104.7 269.8,104.7 268.1,104.8 266.5,104.9 264.8,104.8 263.1,104.7 261.5,104.3 259.9,103.8 258.2,103.3 256.6,102.8 255.0,102.4 253.3,102.3 251.6,102.3 249.9,102.4 248.2,102.6 246.5,102.7 244.9,102.6 243.2,102.5 241.5,102.2 239.9,101.9 238.2,101.7 236.6,101.5 234.9,101.3 233.3,101.1 231.6,101.0 229.9,100.8 228.3,100.5 226.6,100.3 225.0,100.0 223.3,99.9 221.6,99.8 220.0,99.8 218.3,99.8 216.6,99.8 214.9,99.6 213.3,99.3 211.7,98.8 210.1,98.3 208.4,97.7 206.8,97.2 205.2,96.9 203.5,96.7 201.8,96.7 200.1,96.7 198.4,96.7 196.8,96.7 195.1,96.5 193.5,96.3 191.8,96.0 190.2,95.7 188.5,95.4 186.8,95.2 185.2,95.0 183.5,94.8 181.9,94.6 180.2,94.3 178.6,94.1 176.9,93.8 175.2,93.6 173.6,93.5 171.9,93.5 170.2,93.5 168.5,93.6 166.8,93.5 165.2,93.4 163.5,93.1 161.9,92.7 160.3,92.2 158.6,91.7 157.0,91.4 155.3,91.2 153.6,91.1 152.0,91.1 150.3,91.1 148.6,91.1 146.9,91.0 145.2,90.8 143.6,90.6 141.9,90.3 140.3,90.0 138.6,89.7 137.0,89.5 135.3,89.2 133.7,89.0 132.0,88.7 130.4,88.4 128.7,88.0 127.1,87.8 125.4,87.6 123.7,87.5 122.0,87.5 120.3,87.5 118.7,87.4 117.0,87.3 115.3,87.1 113.7,86.8 112.0,86.5 110.4,86.2 108.7,85.9 107.1,85.7 105.4,85.5 103.7,85.5 102.0,85.4 100.3,85.3 98.7,85.2 97.0,85.0 95.3,84.8 93.7,84.6 92.0,84.4 90.3,84.2 88.7,84.0 87.0,83.8 85.3,83.6" stroke="#00f" stroke-width="0.8" stroke-dasharray="0.75 2.25" stroke-linecap="round"/>
<path d="M742.2,760.0 742.2,758.3 742.2,756.7 742.2,755.0 742.2,753.3 742.1,751.6 742.1,750.0 742.1,748.3 742.1,746.6 742.1,745.0 742.1,743.3 742.1,741.6 742.1,739.9 742.0,738.3 742.0,736.6 742.0,734.9 742.0,733.3 742.0,731.6 742.0,729.9 742.0,728.2 742.0,726.6 742.0,724.9 742.0,723.2 741.9,721.6 741.9,719.9 741.9,718.2 741.9,716.5 741.9,714.9 741.9,713.2 741.9,711.5 741.9,709.9 741.9,708.2 741.9,706.5 741.8,704.8 741.8,703.2 741.8,701.5 741.8,699.8 741.8,698.2 741.8,696.5 741.8,694.8 741.7,693.1 741.7,691.5 741.7,689.8 741.7,688.1 741.7,686.5 741.6,684.8 741.6,683.1 741.6,681.4 741.6,679.8 741.6,678.1 741.5,676.4 741.5,674.8 741.5,673.1 741.5,671.4 741.5,669.7 741.4,668.1 741.4,666.4 741.4,664.7 741.4,663.1 741.3,661.4 741.3,659.7 741.3,658.0 741.3,656.4 741.3,654.7 741.2,653.0 741.2,651.3 741.2,649.7 741.2,648.0 741.1,646.3 741.1,644.7 741.1,643.0 741.1,641.3 741.0,639.6 741.0,638.0 741.0,636.3 740.9,634.6 740.9,633.0 740.9,631.3 740.9,629.6 740.8,627.9 740.8,626.3 740.8,624.6 740.7,622.9 740.7,621.3 740.7,619.6 740.6,617.9 740.6,616.2 740.6,614.6 740.6,612.9 740.5,611.2 740.5,609.6 740.5,607.9 740.4,606.2 740.4,604.5 740.3,602.9 740.3,601.2 740.3,599.5 740.3,597.9 740.2,596.2 740.2,594.5 740.2,592.8 740.1,591.2 740.1,589.5 740.1,587.8 740.0,586.2 740.0,584.5 740.0,582.8 739.9,581.1 739.9,579.5 739.9,577.8 739.8,576.1 739.8,574.5 739.8,572.8 739.7,571.1 739.7,569.4 739.6,567.8 739.6,566.1 739.6,564.4 739.5,562.8 739.5,561.1 739.4,559.4 739.4,557.7 739.3,556.1 739.3,554.4 739.2,552.7 739.2,551.1 739.1,549.4 739.1,547.7 739.0,546.1 739.0,544.4 738.9,542.7 738.9,541.0 738.8,539.4 738.8,537.7 738.7,536.0 738.7,534.4 738.6,532.7 738.5,531.0 738.5,529.3 738.4,527.7 738.4,526.0 738.3,524.3 738.2,522.7 738.2,521.0 738.1,519.3 738.0,517.7 738.0,516.0 737.9,514.3 737.8,512.6 737.8,511.0 737.7,509.3 737.6,507.6 737.6,506.0 737.5,504.3 737.4,502.6 737.3,500.9 737.3,499.3 737.2,497.6 737.1,495.9 737.0,494.3 736.9,492.6 736.8,490.9 736.7,489.3 736.7,487.6 736.6,485.9 736.5,484.3 736.4,482.6 736.3,480.9 736.2,479.2 736.1,477.6 736.0,475.9 735.9,474.2 735.8,472.6 735.7,470.9 735.6,469.2 735.5,467.6 735.4,465.9 735.3,464.2 735.2,462.6 735.1,460.9 735.0,459.2 734.9,457.6 734.8,455.9 734.7,454.2 734.6,452.5 734.5,450.9 734.4,449.2 734.3,447.5 734.2,445.9 734.1,444.2 734.0,442.5 733.9,440.9 733.8,439.2 733.7,437.5 733.6,435.9 733.6,434.2 733.5,432.5 733.4,430.9 733.3,429.2 733.2,427.5 733.1,425.8 732.9,424.2 732.8,422.5 732.7,420.8 732.6,419.2 732.5,417.5 732.4,415.8 732.3,414.2 732.2,412.5 732.1,410.8 732.0,409.2 731.9,407.5 731.8,405.8 731.7,404.1 731.6,402.5 731.5,400.8 731.4,399.1 731.3,397.5 731.1,395.8 731.0,394.1 730.9,392.5 730.8,390.8 730.7,389.1 730.6,387.5 730.5,385.8 730.4,384.1 730.2,382.5 730.1,380.8 730.0,379.1 729.9,377.5 729.7,375.8 729.6,374.1 729.4,372.5 729.3,370.8 729.1,369.1 729.0,367.5 728.8,365.8 728.7,364.1 728.5,362.5 728.3,360.8 728.1,359.2 727.9,357.5 727.7,355.8 727.5,354.2 727.3,352.5 727.1,350.9 726.9,349.2 726.7,347.5 726.4,345.9 726.2,344.2 725.9,342.6 725.7,340.9 725.4,339.3 725.1,337.6 724.8,336.0 724.6,334.3 724.3,332.7 724.0,331.0 723.6,329.4 723.3,327.8 723.0,326.1 722.6,324.5 722.3,322.9 721.9,321.2 721.6,319.6 721.2,317.9 720.8,316.3 720.5,314.7 720.1,313.1 719.7,311.4 719.2,309.8 718.8,308.2 718.4,306.6 718.0,304.9 717.5,303.3 717.1,301.7 716.6,300.1 716.1,298.5 715.6,296.9 715.1,295.3 714.6,293.7 714.1,292.1 713.6,290.5 713.0,288.9 712.5,287.3 711.9,285.7 711.4,284.1 710.8,282.5 710.2,280.9 709.6,279.3 708.9,277.8 708.3,276.2 707.7,274.6 707.0,273.0 706.4,271.5 705.8,269.9 705.1,268.4 704.4,266.8 703.7,265.3 703.0,263.7 702.3,262.2 701.7,260.7 701.0,259.1 700.2,257.6 699.5,256.1 698.8,254.6 698.0,253.1 697.3,251.6 696.5,250.1 695.7,248.6 694.9,247.1 694.1,245.6 693.3,244.2 692.5,242.7 691.7,241.2 690.9,239.8 690.1,238.3 689.2,236.9 688.4,235.5 687.5,234.0 686.6,232.6 685.7,231.2 684.8,229.8 683.9,228.4 683.0,227.1 682.0,225.7 681.0,224.4 680.0,223.0 679.0,221.7 678.0,220.4 677.0,219.1 675.9,217.8 674.9,216.5 673.8,215.2 672.7,214.0 671.6,212.8 670.5,211.6 669.3,210.4 668.1,209.2 667.0,208.0 665.8,206.9 664.6,205.7 663.4,204.5 662.2,203.4 661.0,202.2 659.8,201.1 658.6,200.0 657.3,198.9 656.0,197.9 654.7,196.8 653.4,195.8 652.1,194.8 650.7,193.8 649.4,192.8 648.0,191.8 646.7,190.9 645.3,190.0 643.8,189.1 642.4,188.2 641.0,187.3 639.5,186.5 638.1,185.6 636.7,184.8 635.2,184.0 633.7,183.2 632.2,182.5 630.7,181.8 629.2,181.1 627.6,180.4 626.1,179.8 624.6,179.1 623.1,178.4 621.6,177.8 620.0,177.1 618.5,176.5 617.0,175.9 615.4,175.4 613.8,174.8 612.3,174.3 610.7,173.8 609.2,173.2 607.6,172.7 606.1,172.2 604.6,171.6 603.0,171.1 601.5,170.6 599.9,170.1 598.4,169.6 596.8,169.0 595.3,168.4 593.8,167.8 592.3,167.2 590.7,166.6 589.2,166.0 587.7,165.4 586.1,164.8 584.6,164.3 583.0,163.7 581.5,163.1 579.9,162.5 578.4,161.9 576.8,161.2 575.3,160.6 573.7,159.9 572.2,159.3 570.6,158.7 569.0,158.1 567.5,157.5 565.9,156.9 564.3,156.3 562.8,155.7 561.2,155.1 559.6,154.5 558.1,153.9 556.5,153.3 554.9,152.7 553.3,152.1 551.7,151.5 550.2,150.9 548.6,150.3 547.0,149.7 545.4,149.1 543.8,148.6 542.2,148.0 540.6,147.5 539.0,147.0 537.4,146.5 535.8,146.0 534.2,145.5 532.6,145.0 531.0,144.5 529.3,143.9 527.7,143.4 526.1,142.9 524.5,142.4 522.9,142.0 521.3,141.5 519.6,141.1 518.0,140.6 516.4,140.2 514.8,139.7 513.1,139.3 511.5,138.8 509.9,138.4 508.2,138.0 506.6,137.7 505.0,137.3 503.3,137.0 501.7,136.6 500.0,136.3 498.4,135.9 496.7,135.6 495.1,135.3 493.4,135.0 491.8,134.8 490.1,134.6 488.4,134.3 486.8,134.1 485.1,133.9 483.4,133.6 481.8,133.4 480.1,133.1 478.5,132.9 476.8,132.6 475.1,132.4 473.5,132.2 471.8,132.0 470.1,131.8 468.5,131.5 466.8,131.3 465.2,131.1 463.5,130.8 461.8,130.6 460.2,130.4 458.5,130.2 456.8,130.0 455.2,129.9 453.5,129.7 451.8,129.4 450.2,129.2 448.5,129.0 446.9,128.8 445.2,128.6 443.5,128.4 441.9,128.2 440.2,128.1 438.5,127.9 436.9,127.7 435.2,127.6 433.5,127.4 431.9,127.2 430.2,127.0 428.5,126.8 426.9,126.7 425.2,126.5 423.5,126.4 421.9,126.2 420.2,126.1 418.5,125.9 416.9,125.8 415.2,125.6 413.5,125.4 411.9,125.3 410.2,125.1 408.5,124.9 406.9,124.7 405.2,124.5 403.6,124.3 401.9,124.0 400.3,123.8 398.6,123.5 397.0,123.2 395.3,122.9 393.7,122.7 392.0,122.4 390.4,122.1 388.8,121.9 387.1,121.6 385.5,121.3 383.8,120.9 382.2,120.6 380.6,120.3 378.9,120.0 377.3,119.7 375.6,119.4 374.0,119.1 372.3,118.8 370.7,118.5 369.1,118.2 367.4,117.9 365.8,117.6 364.1,117.3 362.5,117.0 360.8,116.7 359.2,116.4 357.5,116.1 355.9,115.8 354.3,115.5 352.6,115.2 351.0,114.9 349.3,114.6 347.7,114.3 346.0,114.0 344.4,113.8 342.7,113.5 341.1,113.3 339.4,113.0 337.8,112.7 336.1,112.5 334.5,112.2 332.9,111.9 331.2,111.6 329.6,111.4 327.9,111.1 326.3,110.9 324.6,110.7 322.9,110.4 321.3,110.2 319.6,109.9 318.0,109.7 316.3,109.4 314.7,109.2 313.0,109.0 311.4,108.8 309.7,108.6 308.1,108.4 306.4,108.2 304.7,108.0 303.1,107.8 301.4,107.6 299.8,107.4 298.1,107.2 296.5,107.1 294.8,106.9 293.1,106.8 291.5,106.7 289.8,106.5 288.1,106.4 286.5,106.2 284.8,106.1 283.1,105.9 281.5,105.8 279.8,105.6 278.1,105.5 276.5,105.3 274.8,105.2 273.2,105.0 271.5,104.8 269.8,104.6 268.2,104.5 266.5,104.3 264.9,104.1 263.2,104.0 261.5,103.8 259.9,103.6 258.2,103.4 256.6,103.2 254.9,103.0 253.2,102.8 251.6,102.6 249.9,102.4 248.3,102.2 246.6,102.0 245.0,101.8 243.3,101.7 241.6,101.5 240.0,101.3 238.3,101.0 236.7,100.8 235.0,100.6 233.4,100.4 231.7,100.2 230.0,100.0 228.4,99.8 226.7,99.6 225.1,99.4 223.4,99.2 221.7,99.0 220.1,98.9 218.4,98.7 216.8,98.5 215.1,98.3 213.4,98.2 211.8,98.0 210.1,97.8 208.4,97.6 206.8,97.4 205.1,97.2 203.5,97.0 201.8,96.8 200.2,96.6 198.5,96.4 196.8,96.2 195.2,96.0 193.5,95.8 191.9,95.6 190.2,95.4 188.5,95.1 186.9,94.9 185.2,94.7 183.6,94.4 181.9,94.2 180.2,94.0 178.6,93.8 176.9,93.6 175.3,93.4 173.6,93.2 171.9,93.0 170.3,92.8 168.6,92.6 167.0,92.5 165.3,92.3 163.6,92.1 162.0,92.0 160.3,91.8 158.6,91.6 157.0,91.4 155.3,91.2 153.6,91.0 152.0,90.9 150.3,90.7 148.7,90.5 147.0,90.4 145.3,90.2 143.6,90.1 142.0,89.9 140.3,89.8 138.6,89.6 137.0,89.4 135.3,89.3 133.6,89.1 132.0,88.9 130.3,88.8 128.6,88.6 127.0,88.4 125.3,88.2 123.7,88.0 122.0,87.8 120.3,87.6 118.7,87.5 117.0,87.3 115.3,87.1 113.7,86.9 112.0,86.7 110.3,86.5 108.7,86.3 107.0,86.1 105.3,85.9 103.7,85.7 102.0,85.5 100.3,85.3 98.7,85.2 97.0,85.0 95.3,84.8 93.7,84.6 92.0,84.4 90.3,84.2 88.7,84.0 87.0,83.8 85.3,83.6" stroke="#00f" stroke-width="0.8" stroke-dasharray="0.75 2.25" stroke-linecap="round"/>
<path d="M742.2,760.0 742.2,758.3 742.1,756.7 742.1,755.0 742.1,753.3 742.1,751.6 742.1,750.0 742.1,748.3 742.1,746.6 742.0,745.0 742.0,743.3 742.0,741.6 742.0,739.9 741.9,738.3 741.9,736.6 741.9,734.9 741.9,733.3 741.8,731.6 741.8,729.9 741.8,728.2 741.8,726.6 741.8,724.9 741.8,723.2 741.8,721.6 741.8,719.9 741.8,718.2 741.8,716.5 741.8,714.9 741.8,713.2 741.8,711.5 741.8,709.9 741.8,708.2 741.8,706.5 741.7,704.8 741.7,703.2 741.7,701.5 741.7,699.8 741.7,698.2 741.7,696.5 741.7,694.8 741.6,693.1 741.6,691.5 741.6,689.8 741.6,688.1 741.6,686.5 741.6,684.8 741.6,683.1 741.6,681.4 741.6,679.8 741.6,678.1 741.6,676.4 741.6,674.8 741.6,673.1 741.6,671.4 741.6,669.7 741.6,668.1 741.6,666.4 741.6,664.7 741.5,663.0 741.5,661.4 741.5,659.7 741.4,658.0 741.4,656.4 741.3,654.7 741.3,653.0 741.3,651.3 741.3,649.7 741.2,648.0 741.2,646.3 741.2,644.7 741.2,643.0 741.2,641.3 741.2,639.6 741.2,638.0 741.2,636.3 741.1,634.6 741.1,633.0 741.1,631.3 741.1,629.6 741.1,627.9 741.0,626.3 741.0,624.6 740.9,622.9 740.9,621.3 740.9,619.6 740.8,617.9 740.8,616.2 740.8,614.6 740.7,612.9 740.7,611.2 740.6,609.6 740.6,607.9 740.5,606.2 740.5,604.5 740.5,602.9 740.4,601.2 740.4,599.5 740.4,597.9 740.3,596.2 740.3,594.5 740.3,592.8 740.2,591.2 740.2,589.5 740.1,587.8 740.1,586.2 740.0,584.5 739.9,582.8 739.9,581.1 739.8,579.5 739.7,577.8 739.6,576.1 739.6,574.5 739.5,572.8 739.5,571.1 739.4,569.5 739.4,567.8 739.3,566.1 739.3,564.4 739.3,562.8 739.2,561.1 739.2,559.4 739.1,557.8 739.1,556.1 739.1,554.4 739.0,552.7 739.0,551.1 738.9,549.4 738.9,547.7 738.8,546.1 738.8,544.4 738.7,542.7 738.7,541.0 738.6,539.4 738.5,537.7 738.5,536.0 738.4,534.4 738.3,532.7 738.3,531.0 738.2,529.4 738.1,527.7 738.1,526.0 738.0,524.3 738.0,522.7 738.0,521.0 737.9,519.3 737.9,517.7 737.9,516.0 737.9,514.3 737.8,512.6 737.8,511.0 737.7,509.3 737.7,507.6 737.6,506.0 737.5,504.3 737.5,502.6 737.4,500.9 737.3,499.3 737.2,497.6 737.2,495.9 737.1,494.3 737.0,492.6 736.9,490.9 736.9,489.3 736.8,487.6 736.7,485.9 736.7,484.2 736.6,482.6 736.6,480.9 736.5,479.2 736.4,477.6 736.4,475.9 736.3,474.2 736.3,472.5 736.2,470.9 736.1,469.2 736.1,467.5 736.0,465.9 735.9,464.2 735.8,462.5 735.6,460.9 735.5,459.2 735.3,457.5 735.2,455.9 735.0,454.2 734.9,452.5 734.8,450.9 734.6,449.2 734.5,447.5 734.4,445.9 734.3,444.2 734.2,442.5 734.1,440.9 734.0,439.2 733.9,437.5 733.8,435.8 733.7,434.2 733.6,432.5 733.5,430.8 733.3,429.2 733.2,427.5 733.0,425.8 732.8,424.2 732.7,422.5 732.5,420.9 732.4,419.2 732.2,417.5 732.0,415.9 731.9,414.2 731.7,412.5 731.5,410.9 731.3,409.2 731.1,407.5 730.9,405.9 730.8,404.2 730.7,402.6 730.5,400.9 730.4,399.2 730.3,397.5 730.2,395.9 730.1,394.2 729.9,392.6 729.8,390.9 729.6,389.2 729.5,387.6 729.3,385.9 729.1,384.2 728.9,382.6 728.7,380.9 728.4,379.3 728.2,377.6 727.9,376.0 727.7,374.3 727.5,372.7 727.4,371.0 727.2,369.3 727.0,367.7 726.9,366.0 726.7,364.4 726.5,362.7 726.4,361.1 726.2,359.4 726.0,357.7 725.9,356.1 725.8,354.4 725.6,352.7 725.5,351.1 725.3,349.4 725.2,347.8 724.9,346.1 724.7,344.5 724.5,342.8 724.2,341.2 724.0,339.5 723.7,337.9 723.4,336.2 723.1,334.6 722.8,333.0 722.5,331.3 722.2,329.7 721.9,328.0 721.6,326.4 721.4,324.7 721.2,323.1 721.0,321.4 720.8,319.8 720.6,318.1 720.3,316.4 720.0,314.8 719.7,313.1 719.4,311.5 719.0,309.9 718.7,308.2 718.3,306.6 717.9,305.0 717.4,303.3 717.0,301.7 716.5,300.1 716.0,298.5 715.5,296.9 714.9,295.3 714.4,293.7 713.9,292.1 713.4,290.5 712.9,288.9 712.4,287.3 711.8,285.7 711.3,284.1 710.7,282.5 710.2,280.9 709.7,279.3 709.2,277.7 708.7,276.1 708.2,274.4 707.7,272.8 707.1,271.2 706.5,269.6 705.8,268.1 705.0,266.6 704.1,265.1 703.2,263.7 702.3,262.2 701.4,260.8 700.5,259.3 699.6,257.9 698.7,256.5 697.8,255.1 696.8,253.7 695.9,252.3 695.0,250.8 694.1,249.4 693.3,248.0 692.5,246.5 691.7,245.1 690.9,243.6 690.0,242.3 689.0,240.9 688.0,239.6 687.0,238.3 685.9,237.0 684.9,235.7 683.9,234.4 682.9,233.1 681.8,231.9 680.7,230.6 679.6,229.5 678.4,228.3 677.2,227.3 675.9,226.2 674.6,225.2 673.4,224.1 672.3,223.0 671.2,221.8 670.2,220.6 669.2,219.3 668.2,218.0 667.3,216.7 666.4,215.4 665.5,214.0 664.6,212.7 663.7,211.3 662.8,209.8 662.0,208.4 661.0,207.1 660.0,205.8 658.9,204.6 657.7,203.5 656.4,202.4 655.2,201.4 653.9,200.4 652.7,199.3 651.5,198.2 650.4,197.0 649.2,195.7 648.1,194.5 647.0,193.2 645.8,192.0 644.7,190.8 643.5,189.5 642.4,188.3 641.3,186.9 640.2,185.5 639.1,184.0 638.1,182.5 637.0,181.0 635.9,179.6 634.7,178.3 633.4,177.0 632.2,175.8 630.8,174.7 629.5,173.5 628.1,172.5 626.7,171.5 625.2,170.6 623.7,169.9 622.1,169.2 620.4,168.7 618.8,168.2 617.1,167.6 615.6,167.0 614.0,166.2 612.5,165.4 611.1,164.4 609.7,163.5 608.2,162.5 606.7,161.7 605.2,160.9 603.7,160.2 602.1,159.6 600.5,159.0 598.9,158.4 597.3,157.9 595.7,157.4 594.1,157.0 592.4,156.6 590.7,156.4 589.0,156.3 587.2,156.2 585.5,156.1 583.8,156.0 582.1,155.8 580.4,155.6 578.7,155.4 577.0,155.2 575.3,155.1 573.5,155.0 571.8,154.8 570.1,154.6 568.5,154.3 566.8,153.8 565.2,153.3 563.7,152.7 562.1,152.0 560.5,151.4 558.9,150.9 557.2,150.6 555.6,150.3 553.8,150.2 552.1,150.1 550.4,150.1 548.6,150.1 546.9,150.1 545.2,150.1 543.4,150.1 541.7,150.1 540.0,150.1 538.3,150.1 536.6,150.0 534.9,149.8 533.3,149.5 531.6,149.1 530.0,148.6 528.4,148.1 526.8,147.6 525.2,147.1 523.6,146.7 521.9,146.3 520.3,145.9 518.7,145.4 517.1,144.9 515.5,144.3 513.9,143.8 512.3,143.2 510.7,142.8 509.1,142.4 507.4,142.2 505.7,142.0 504.0,141.8 502.4,141.7 500.7,141.4 499.1,141.1 497.4,140.7 495.8,140.2 494.2,139.7 492.6,139.2 491.0,138.6 489.4,138.0 487.8,137.3 486.3,136.6 484.7,135.8 483.2,135.0 481.6,134.3 480.0,133.6 478.4,133.1 476.8,132.7 475.1,132.4 473.5,132.2 471.8,132.0 470.1,131.7 468.5,131.5 466.8,131.2 465.2,130.9 463.5,130.6 461.9,130.4 460.2,130.2 458.5,130.0 456.9,129.8 455.2,129.6 453.6,129.3 451.9,128.9 450.3,128.5 448.7,128.0 447.1,127.6 445.4,127.1 443.8,126.6 442.2,126.2 440.6,125.8 438.9,125.4 437.3,125.0 435.7,124.6 434.0,124.3 432.4,124.1 430.7,124.0 429.0,124.0 427.3,124.1 425.6,124.3 423.8,124.5 422.1,124.6 420.4,124.6 418.8,124.5 417.1,124.3 415.4,124.1 413.8,123.8 412.1,123.6 410.5,123.4 408.8,123.2 407.2,123.0 405.5,122.8 403.8,122.6 402.2,122.4 400.5,122.2 398.8,122.1 397.2,122.0 395.5,122.0 393.8,122.1 392.1,122.2 390.4,122.3 388.7,122.4 387.0,122.5 385.3,122.6 383.6,122.6 381.9,122.7 380.2,122.9 378.5,123.0 376.8,123.2 375.1,123.3 373.4,123.3 371.7,123.2 370.1,123.0 368.4,122.6 366.8,122.2 365.2,121.7 363.6,121.3 361.9,120.9 360.3,120.6 358.6,120.4 357.0,120.2 355.3,120.0 353.7,119.8 352.0,119.6 350.4,119.5 348.7,119.4 347.0,119.4 345.3,119.3 343.7,119.3 342.0,119.2 340.3,119.1 338.7,118.8 337.0,118.5 335.4,118.1 333.8,117.7 332.2,117.3 330.5,116.9 328.9,116.6 327.3,116.2 325.6,115.8 324.0,115.3 322.4,114.8 320.8,114.2 319.2,113.6 317.6,113.0 316.0,112.5 314.3,112.0 312.7,111.6 311.1,111.3 309.4,111.1 307.8,110.8 306.1,110.5 304.5,110.3 302.8,109.9 301.2,109.6 299.5,109.3 297.9,109.0 296.2,108.7 294.6,108.4 293.0,108.0 291.3,107.6 289.7,107.0 288.1,106.5 286.5,105.9 284.9,105.4 283.3,104.9 281.6,104.6 280.0,104.3 278.3,104.1 276.6,104.0 275.0,103.8 273.3,103.6 271.7,103.4 270.0,103.3 268.3,103.1 266.7,103.0 265.0,103.0 263.3,103.0 261.6,103.0 259.9,103.0 258.3,102.9 256.6,102.8 254.9,102.7 253.3,102.5 251.6,102.3 250.0,102.1 248.3,101.8 246.7,101.6 245.0,101.3 243.4,101.0 241.7,100.7 240.1,100.3 238.4,100.0 236.8,99.7 235.1,99.5 233.5,99.4 231.8,99.4 230.1,99.5 228.4,99.6 226.7,99.7 225.0,99.7 223.3,99.7 221.7,99.6 220.0,99.4 218.3,99.3 216.7,99.1 215.0,98.9 213.4,98.8 211.7,98.6 210.0,98.4 208.4,98.1 206.7,98.0 205.1,97.8 203.4,97.6 201.7,97.4 200.1,97.3 198.4,97.2 196.7,97.1 195.0,97.1 193.4,97.0 191.7,96.9 190.0,96.8 188.4,96.7 186.7,96.6 185.0,96.6 183.3,96.6 181.6,96.6 180.0,96.6 178.3,96.5 176.6,96.4 175.0,96.2 173.3,95.8 171.7,95.4 170.0,95.0 168.4,94.5 166.8,94.1 165.1,93.6 163.5,93.2 161.9,92.7 160.2,92.3 158.6,91.9 157.0,91.6 155.3,91.4 153.6,91.2 152.0,91.0 150.3,90.9 148.6,90.8 146.9,90.7 145.3,90.6 143.6,90.5 141.9,90.3 140.3,90.1 138.6,89.8 137.0,89.6 135.3,89.4 133.6,89.2 132.0,89.0 130.3,88.8 128.6,88.6 127.0,88.3 125.3,88.0 123.7,87.6 122.1,87.3 120.4,87.0 118.7,86.7 117.1,86.5 115.4,86.3 113.8,86.2 112.1,86.0 110.4,85.9 108.7,85.8 107.1,85.7 105.4,85.6 103.7,85.5 102.0,85.4 100.4,85.2 98.7,85.1 97.0,84.9 95.3,84.7 93.7,84.5 92.0,84.3 90.4,84.1 88.7,83.9 87.0,83.7 85.4,83.5" stroke="#00f" stroke-width="0.8" stroke-dasharray="0.75 2.25" stroke-linecap="round"/>
<path d="M742.2,760.0 742.2,758.3 742.2,756.7 742.1,755.0 742.1,753.3 742.1,751.6 742.1,750.0 742.0,748.3 742.0,746.6 742.0,745.0 742.0,743.3 742.0,741.6 742.0,739.9 742.0,738.3 742.0,736.6 742.0,734.9 741.9,733.3 741.9,731.6 741.9,729.9 741.9,728.2 741.8,726.6 741.8,724.9 741.8,723.2 741.8,721.6 741.8,719.9 741.8,718.2 741.8,716.5 741.8,714.9 741.7,713.2 741.7,711.5 741.7,709.9 741.7,708.2 741.7,706.5 741.7,704.8 741.6,703.2 741.6,701.5 741.6,699.8 741.6,698.2 741.5,696.5 741.5,694.8 741.5,693.1 741.5,691.5 741.5,689.8 741.5,688.1 741.5,686.5 741.4,684.8 741.4,683.1 741.4,681.4 741.3,679.8 741.3,678.1 741.3,676.4 741.3,674.8 741.3,673.1 741.3,671.4 741.3,669.7 741.3,668.1 741.3,666.4 741.3,664.7 741.3,663.1 741.3,661.4 741.2,659.7 741.2,658.0 741.2,656.4 741.2,654.7 741.1,653.0 741.1,651.4 741.1,649.7 741.1,648.0 741.1,646.3 741.0,644.7 741.0,643.0 741.0,641.3 741.0,639.6 741.0,638.0 741.0,636.3 740.9,634.6 740.9,633.0 740.8,631.3 740.8,629.6 740.8,627.9 740.7,626.3 740.7,624.6 740.7,622.9 740.7,621.3 740.6,619.6 740.6,617.9 740.6,616.2 740.6,614.6 740.5,612.9 740.5,611.2 740.4,609.6 740.4,607.9 740.3,606.2 740.3,604.5 740.2,602.9 740.2,601.2 740.1,599.5 740.1,597.9 740.1,596.2 740.1,594.5 740.1,592.8 740.1,591.2 740.0,589.5 740.0,587.8 740.0,586.2 739.9,584.5 739.9,582.8 739.8,581.1 739.8,579.5 739.7,577.8 739.7,576.1 739.6,574.5 739.6,572.8 739.5,571.1 739.5,569.5 739.4,567.8 739.4,566.1 739.3,564.4 739.3,562.8 739.2,561.1 739.2,559.4 739.1,557.8 739.0,556.1 738.9,554.4 738.9,552.7 738.8,551.1 738.7,549.4 738.7,547.7 738.7,546.1 738.7,544.4 738.6,542.7 738.6,541.0 738.5,539.4 738.5,537.7 738.4,536.0 738.3,534.4 738.3,532.7 738.2,531.0 738.1,529.4 738.1,527.7 738.0,526.0 738.0,524.3 737.9,522.7 737.9,521.0 737.8,519.3 737.8,517.7 737.7,516.0 737.7,514.3 737.7,512.6 737.6,511.0 737.6,509.3 737.5,507.6 737.4,506.0 737.3,504.3 737.2,502.6 737.2,501.0 737.1,499.3 737.0,497.6 737.0,495.9 736.9,494.3 736.9,492.6 736.8,490.9 736.7,489.3 736.6,487.6 736.5,485.9 736.4,484.3 736.3,482.6 736.2,480.9 736.1,479.3 736.0,477.6 735.9,475.9 735.8,474.2 735.8,472.6 735.7,470.9 735.6,469.2 735.6,467.6 735.5,465.9 735.5,464.2 735.4,462.6 735.3,460.9 735.2,459.2 735.1,457.5 735.0,455.9 734.9,454.2 734.7,452.5 734.6,450.9 734.5,449.2 734.5,447.5 734.4,445.9 734.3,444.2 734.3,442.5 734.2,440.9 734.0,439.2 733.9,437.5 733.8,435.9 733.6,434.2 733.5,432.5 733.3,430.9 733.2,429.2 733.1,427.5 732.9,425.9 732.8,424.2 732.7,422.5 732.6,420.9 732.4,419.2 732.3,417.5 732.2,415.8 732.1,414.2 731.9,412.5 731.8,410.8 731.6,409.2 731.4,407.5 731.2,405.9 731.0,404.2 730.8,402.5 730.6,400.9 730.5,399.2 730.4,397.5 730.3,395.9 730.2,394.2 730.1,392.5 730.0,390.9 729.8,389.2 729.7,387.5 729.5,385.9 729.3,384.2 729.2,382.6 729.0,380.9 728.8,379.2 728.7,377.6 728.5,375.9 728.3,374.3 728.2,372.6 728.0,370.9 727.8,369.3 727.7,367.6 727.5,366.0 727.3,364.3 727.1,362.6 726.8,361.0 726.6,359.3 726.3,357.7 726.0,356.1 725.7,354.4 725.4,352.8 725.2,351.1 725.0,349.5 724.9,347.8 724.7,346.2 724.5,344.5 724.3,342.8 724.1,341.2 723.8,339.5 723.6,337.9 723.2,336.3 722.9,334.6 722.6,333.0 722.3,331.4 722.0,329.7 721.7,328.1 721.4,326.4 721.2,324.8 720.9,323.1 720.6,321.5 720.4,319.8 720.1,318.2 719.9,316.5 719.6,314.9 719.3,313.2 719.0,311.6 718.6,310.0 718.2,308.3 717.8,306.7 717.3,305.1 717.0,303.5 716.6,301.8 716.3,300.2 716.0,298.5 715.7,296.9 715.3,295.2 714.9,293.6 714.4,292.0 713.8,290.4 713.2,288.8 712.6,287.2 712.0,285.6 711.4,284.1 710.8,282.5 710.1,280.9 709.5,279.3 708.9,277.8 708.4,276.2 707.8,274.6 707.3,273.0 706.8,271.3 706.3,269.7 705.8,268.1 705.2,266.5 704.6,264.9 703.9,263.4 703.2,261.8 702.4,260.3 701.6,258.8 700.8,257.3 700.1,255.8 699.5,254.2 698.9,252.7 698.2,251.1 697.6,249.5 696.9,248.0 696.1,246.5 695.2,245.0 694.3,243.6 693.3,242.2 692.4,240.9 691.4,239.5 690.4,238.1 689.4,236.8 688.5,235.4 687.5,234.0 686.6,232.7 685.6,231.3 684.7,229.9 683.8,228.5 682.9,227.1 681.9,225.8 680.9,224.4 679.8,223.2 678.6,222.0 677.3,221.0 675.9,220.0 674.5,219.0 673.2,218.0 671.9,216.9 670.7,215.8 669.6,214.6 668.6,213.3 667.6,212.0 666.5,210.7 665.5,209.5 664.4,208.3 663.2,207.2 662.0,206.1 660.7,205.0 659.5,203.9 658.3,202.8 657.1,201.7 655.9,200.5 654.7,199.4 653.5,198.3 652.3,197.1 651.2,195.9 650.0,194.7 648.9,193.4 647.8,192.2 646.6,191.0 645.3,189.9 643.9,188.9 642.5,188.1 640.9,187.5 639.3,186.8 637.7,186.2 636.2,185.5 634.8,184.6 633.5,183.7 632.2,182.5 630.9,181.4 629.7,180.2 628.4,179.2 627.0,178.2 625.6,177.3 624.1,176.5 622.5,175.8 621.0,175.2 619.5,174.6 617.9,173.9 616.4,173.3 614.8,172.7 613.3,172.1 611.7,171.5 610.2,170.8 608.7,170.1 607.3,169.3 605.9,168.4 604.4,167.5 603.0,166.7 601.5,165.9 599.9,165.3 598.4,164.8 596.7,164.4 595.1,164.1 593.5,163.7 591.9,163.2 590.4,162.6 588.9,161.8 587.4,161.0 585.9,160.2 584.4,159.4 582.9,158.7 581.3,158.2 579.7,157.9 578.0,157.6 576.3,157.4 574.6,157.2 572.9,157.0 571.2,156.9 569.5,156.8 567.7,156.6 566.0,156.4 564.4,156.2 562.7,155.9 561.1,155.5 559.5,154.9 557.9,154.3 556.4,153.8 554.8,153.2 553.1,152.8 551.5,152.5 549.8,152.4 548.1,152.3 546.4,152.2 544.7,152.0 543.0,151.7 541.4,151.3 539.8,150.7 538.3,150.1 536.7,149.5 535.1,149.0 533.5,148.5 531.9,148.1 530.2,147.7 528.6,147.4 526.9,147.2 525.3,146.9 523.6,146.6 522.0,146.3 520.3,146.0 518.7,145.6 517.0,145.2 515.4,144.8 513.8,144.3 512.2,143.7 510.6,143.0 509.1,142.3 507.5,141.7 505.9,141.2 504.2,140.9 502.6,140.7 500.9,140.6 499.2,140.6 497.4,140.6 495.8,140.5 494.1,140.3 492.5,139.9 490.8,139.4 489.2,138.9 487.6,138.3 486.0,137.8 484.4,137.3 482.8,136.9 481.2,136.5 479.6,136.1 477.9,135.7 476.3,135.3 474.7,134.9 473.0,134.5 471.4,134.1 469.8,133.7 468.2,133.2 466.6,132.7 465.0,132.2 463.4,131.5 461.8,130.8 460.2,130.2 458.6,129.6 457.0,129.1 455.3,128.8 453.7,128.7 452.0,128.7 450.3,128.6 448.6,128.6 446.9,128.4 445.3,128.1 443.6,127.7 442.0,127.2 440.4,126.7 438.8,126.2 437.2,125.8 435.5,125.5 433.9,125.2 432.2,124.9 430.6,124.7 428.9,124.6 427.2,124.4 425.6,124.3 423.9,124.3 422.2,124.2 420.5,124.2 418.8,124.1 417.2,123.9 415.5,123.6 413.9,123.2 412.3,122.8 410.6,122.4 409.0,122.1 407.3,121.9 405.7,121.8 404.0,121.7 402.3,121.7 400.6,121.7 398.9,121.6 397.3,121.4 395.6,121.0 394.0,120.6 392.4,120.1 390.8,119.7 389.1,119.2 387.5,118.9 385.9,118.6 384.2,118.4 382.5,118.3 380.9,118.2 379.2,118.2 377.5,118.2 375.8,118.2 374.1,118.3 372.4,118.4 370.7,118.5 369.0,118.5 367.3,118.4 365.7,118.2 364.0,117.9 362.4,117.6 360.7,117.3 359.1,117.1 357.4,117.0 355.7,117.0 354.1,117.1 352.4,117.2 350.7,117.2 349.0,117.2 347.3,117.0 345.7,116.8 344.0,116.5 342.4,116.1 340.8,115.8 339.1,115.5 337.5,115.2 335.8,115.0 334.2,114.8 332.5,114.6 330.8,114.5 329.2,114.3 327.5,114.1 325.9,114.0 324.2,113.9 322.5,113.7 320.9,113.5 319.2,113.2 317.6,112.8 316.0,112.3 314.4,111.7 312.8,111.2 311.1,110.7 309.5,110.4 307.8,110.2 306.2,110.0 304.5,110.0 302.8,110.0 301.1,110.0 299.5,109.9 297.8,109.7 296.2,109.5 294.5,109.2 292.9,108.8 291.2,108.5 289.6,108.2 287.9,108.0 286.3,107.7 284.6,107.5 283.0,107.3 281.3,107.0 279.7,106.8 278.0,106.6 276.4,106.4 274.7,106.2 273.0,106.0 271.4,105.8 269.7,105.4 268.1,105.0 266.5,104.6 264.9,104.1 263.2,103.7 261.6,103.3 259.9,103.0 258.3,102.9 256.6,102.9 254.9,102.8 253.2,102.8 251.6,102.8 249.9,102.7 248.2,102.5 246.6,102.2 244.9,101.9 243.3,101.6 241.7,101.3 240.0,101.0 238.4,100.7 236.7,100.5 235.0,100.3 233.4,100.2 231.7,100.0 230.0,99.9 228.4,99.9 226.7,99.9 225.0,99.9 223.3,99.8 221.7,99.8 220.0,99.6 218.3,99.4 216.7,99.1 215.0,98.8 213.4,98.6 211.7,98.4 210.1,98.2 208.4,98.2 206.7,98.3 205.0,98.3 203.3,98.3 201.6,98.2 200.0,98.0 198.3,97.8 196.7,97.5 195.0,97.1 193.4,96.8 191.7,96.5 190.1,96.2 188.4,95.9 186.8,95.7 185.1,95.4 183.5,95.3 181.8,95.1 180.1,95.0 178.5,95.0 176.8,94.9 175.1,94.9 173.4,94.8 171.8,94.7 170.1,94.5 168.4,94.2 166.8,93.8 165.2,93.5 163.5,93.2 161.8,93.0 160.2,92.8 158.5,92.7 156.8,92.6 155.2,92.5 153.5,92.4 151.8,92.2 150.2,92.0 148.5,91.7 146.9,91.4 145.2,91.0 143.6,90.7 141.9,90.5 140.3,90.2 138.6,90.0 136.9,89.8 135.3,89.6 133.6,89.4 131.9,89.3 130.3,89.1 128.6,89.0 126.9,88.9 125.3,88.7 123.6,88.5 121.9,88.2 120.3,87.9 118.7,87.5 117.0,87.2 115.4,86.8 113.7,86.5 112.0,86.3 110.4,86.1 108.7,86.0 107.0,85.9 105.4,85.7 103.7,85.6 102.0,85.4 100.3,85.3 98.7,85.1 97.0,84.9 95.4,84.7 93.7,84.5 92.0,84.3 90.3,84.1 88.7,83.9 87.0,83.7 85.3,83.6" stroke="#00f" stroke-width="0.8" stroke-dasharray="0.75 2.25" stroke-linecap="round"/>
<path d="M742.2,760.0 742.2,758.3 742.1,756.7 742.1,755.0 742.1,753.3 742.1,751.6 742.1,750.0 742.1,748.3 742.1,746.6 742.1,745.0 742.1,743.3 742.0,741.6 742.0,739.9 742.0,738.3 742.0,736.6 741.9,734.9 741.9,733.3 741.9,731.6 741.9,729.9 741.9,728.2 741.9,726.6 741.8,724.9 741.8,723.2 741.8,721.6 741.8,719.9 741.8,718.2 741.8,716.5 741.8,714.9 741.8,713.2 741.7,711.5 741.7,709.9 741.7,708.2 741.6,706.5 741.6,704.8 741.6,703.2 741.6,701.5 741.6,699.8 741.6,698.2 741.6,696.5 741.6,694.8 741.6,693.1 741.5,691.5 741.5,689.8 741.5,688.1 741.5,686.5 741.5,684.8 741.4,683.1 741.4,681.4 741.4,679.8 741.4,678.1 741.4,676.4 741.3,674.8 741.3,673.1 741.3,671.4 741.3,669.7 741.3,668.1 741.3,666.4 741.3,664.7 741.3,663.1 741.2,661.4 741.2,659.7 741.2,658.0 741.1,656.4 741.1,654.7 741.1,653.0 741.1,651.4 741.1,649.7 741.1,648.0 741.1,646.3 741.0,644.7 741.0,643.0 740.9,641.3 740.9,639.6 740.9,638.0 740.9,636.3 740.9,634.6 740.8,633.0 740.8,631.3 740.8,629.6 740.8,627.9 740.7,626.3 740.7,624.6 740.6,622.9 740.6,621.3 740.6,619.6 740.6,617.9 740.6,616.2 740.6,614.6 740.5,612.9 740.4,611.2 740.4,609.6 740.3,607.9 740.3,606.2 740.3,604.5 740.2,602.9 740.2,601.2 740.2,599.5 740.2,597.9 740.1,596.2 740.1,594.5 740.0,592.8 740.0,591.2 739.9,589.5 739.9,587.8 739.9,586.2 739.8,584.5 739.8,582.8 739.8,581.2 739.7,579.5 739.6,577.8 739.6,576.1 739.5,574.5 739.5,572.8 739.4,571.1 739.4,569.5 739.4,567.8 739.3,566.1 739.3,564.4 739.2,562.8 739.1,561.1 739.1,559.4 739.0,557.8 738.9,556.1 738.9,554.4 738.9,552.7 738.9,551.1 738.8,549.4 738.8,547.7 738.7,546.1 738.6,544.4 738.6,542.7 738.5,541.1 738.4,539.4 738.4,537.7 738.4,536.0 738.3,534.4 738.2,532.7 738.2,531.0 738.1,529.4 738.0,527.7 737.9,526.0 737.8,524.3 737.8,522.7 737.8,521.0 737.7,519.3 737.7,517.7 737.6,516.0 737.6,514.3 737.5,512.7 737.4,511.0 737.3,509.3 737.2,507.6 737.2,506.0 737.1,504.3 737.1,502.6 737.0,501.0 737.0,499.3 736.9,497.6 736.8,496.0 736.7,494.3 736.6,492.6 736.5,490.9 736.5,489.3 736.4,487.6 736.3,485.9 736.3,484.3 736.2,482.6 736.1,480.9 736.0,479.3 735.9,477.6 735.8,475.9 735.7,474.3 735.6,472.6 735.6,470.9 735.6,469.2 735.5,467.6 735.4,465.9 735.3,464.2 735.2,462.6 735.0,460.9 734.9,459.2 734.8,457.6 734.7,455.9 734.7,454.2 734.6,452.5 734.5,450.9 734.4,449.2 734.3,447.5 734.2,445.9 734.0,444.2 733.9,442.5 733.8,440.9 733.7,439.2 733.6,437.5 733.5,435.9 733.4,434.2 733.3,432.5 733.2,430.9 733.0,429.2 732.9,427.5 732.7,425.9 732.6,424.2 732.6,422.5 732.5,420.9 732.4,419.2 732.3,417.5 732.2,415.8 732.0,414.2 731.8,412.5 731.6,410.9 731.4,409.2 731.3,407.5 731.2,405.9 731.1,404.2 731.0,402.5 730.9,400.9 730.7,399.2 730.6,397.5 730.4,395.9 730.2,394.2 730.0,392.5 729.9,390.9 729.8,389.2 729.7,387.5 729.6,385.9 729.4,384.2 729.2,382.6 729.0,380.9 728.8,379.2 728.6,377.6 728.4,375.9 728.3,374.3 728.2,372.6 728.1,370.9 727.9,369.3 727.7,367.6 727.5,366.0 727.2,364.3 726.9,362.7 726.6,361.0 726.4,359.4 726.3,357.7 726.1,356.0 726.0,354.4 725.8,352.7 725.6,351.1 725.4,349.4 725.1,347.8 724.8,346.1 724.5,344.5 724.3,342.8 724.1,341.2 723.9,339.5 723.7,337.9 723.4,336.2 723.1,334.6 722.8,333.0 722.4,331.3 722.0,329.7 721.7,328.1 721.4,326.4 721.2,324.8 721.0,323.1 720.8,321.5 720.5,319.8 720.1,318.2 719.7,316.6 719.2,315.0 718.8,313.4 718.4,311.7 718.0,310.1 717.8,308.4 717.5,306.8 717.2,305.1 716.9,303.5 716.4,301.9 716.0,300.3 715.4,298.7 714.9,297.1 714.5,295.5 714.0,293.8 713.6,292.2 713.2,290.6 712.8,288.9 712.2,287.3 711.6,285.8 711.0,284.2 710.3,282.6 709.7,281.1 709.1,279.5 708.7,277.9 708.3,276.2 707.8,274.6 707.4,272.9 706.8,271.3 706.1,269.8 705.3,268.3 704.5,266.8 703.7,265.3 703.0,263.7 702.4,262.2 701.8,260.6 701.3,259.0 700.6,257.4 699.9,255.9 699.0,254.4 698.1,253.0 697.2,251.6 696.3,250.2 695.5,248.7 694.7,247.2 694.0,245.7 693.3,244.2 692.4,242.8 691.5,241.4 690.4,240.1 689.3,238.8 688.2,237.5 687.3,236.2 686.4,234.7 685.6,233.3 684.9,231.8 684.1,230.3 683.2,229.0 682.1,227.7 680.8,226.5 679.5,225.5 678.2,224.4 677.0,223.3 675.9,222.1 674.9,220.8 673.9,219.5 673.0,218.2 671.9,216.9 670.7,215.8 669.4,214.8 668.0,213.8 666.7,212.8 665.5,211.8 664.4,210.6 663.4,209.3 662.4,208.0 661.3,206.8 660.1,205.7 658.7,204.8 657.3,203.9 655.9,203.1 654.5,202.2 653.3,201.2 652.2,199.9 651.1,198.6 650.1,197.3 649.0,196.1 647.7,195.1 646.2,194.3 644.6,193.6 643.1,193.1 641.5,192.4 640.1,191.6 638.8,190.5 637.7,189.4 636.5,188.2 635.2,187.0 633.9,186.1 632.5,185.3 631.0,184.5 629.5,183.8 628.1,183.0 626.7,182.1 625.5,181.0 624.2,179.8 622.9,178.8 621.5,177.9 620.0,177.2 618.4,176.7 616.8,176.3 615.2,175.8 613.7,175.3 612.2,174.5 610.9,173.5 609.5,172.5 608.2,171.5 606.7,170.7 605.2,170.1 603.5,169.8 601.9,169.5 600.2,169.2 598.6,168.8 597.1,168.2 595.7,167.4 594.3,166.5 592.8,165.6 591.3,164.8 589.8,164.3 588.2,163.9 586.5,163.6 584.9,163.3 583.3,162.8 581.8,162.2 580.3,161.4 578.7,160.7 577.2,160.1 575.6,159.6 573.9,159.4 572.2,159.3 570.4,159.2 568.8,159.0 567.1,158.6 565.6,158.0 564.1,157.2 562.6,156.3 561.0,155.6 559.5,155.1 557.8,154.8 556.1,154.6 554.4,154.5 552.7,154.3 551.1,154.0 549.5,153.4 548.0,152.8 546.4,152.1 544.8,151.5 543.2,151.1 541.5,150.8 539.9,150.7 538.2,150.6 536.5,150.3 534.9,150.0 533.3,149.4 531.7,148.8 530.1,148.3 528.5,147.8 526.8,147.6 525.1,147.5 523.4,147.4 521.7,147.4 520.1,147.1 518.5,146.6 516.9,145.9 515.4,145.1 513.8,144.3 512.2,143.7 510.6,143.3 508.9,143.1 507.2,143.0 505.5,143.0 503.9,142.8 502.2,142.4 500.6,141.9 499.0,141.3 497.4,140.7 495.8,140.2 494.2,139.9 492.5,139.7 490.8,139.6 489.1,139.4 487.5,139.1 485.9,138.6 484.3,137.9 482.7,137.3 481.1,136.7 479.5,136.3 477.9,136.0 476.2,135.9 474.5,135.8 472.8,135.6 471.2,135.2 469.6,134.6 468.0,133.9 466.5,133.2 464.9,132.5 463.3,132.1 461.6,131.9 459.9,131.8 458.2,131.8 456.5,131.8 454.9,131.6 453.2,131.2 451.6,130.7 450.0,130.1 448.4,129.7 446.8,129.3 445.1,129.1 443.4,129.0 441.8,128.9 440.1,128.6 438.5,128.3 436.9,127.7 435.3,127.1 433.7,126.6 432.0,126.2 430.4,126.0 428.7,125.9 427.0,125.9 425.3,126.0 423.6,125.9 422.0,125.6 420.3,125.1 418.7,124.6 417.1,124.1 415.5,123.7 413.8,123.5 412.2,123.5 410.5,123.5 408.7,123.6 407.1,123.6 405.4,123.4 403.8,123.0 402.2,122.6 400.5,122.1 398.9,121.8 397.2,121.6 395.6,121.5 393.9,121.4 392.2,121.4 390.5,121.2 388.9,120.9 387.3,120.5 385.6,120.1 384.0,119.7 382.3,119.6 380.7,119.6 379.0,119.7 377.2,119.9 375.5,119.9 373.9,119.9 372.2,119.6 370.6,119.2 369.0,118.7 367.4,118.3 365.7,118.0 364.0,117.9 362.4,117.9 360.7,118.0 359.0,118.0 357.3,117.9 355.7,117.6 354.0,117.2 352.4,116.8 350.8,116.4 349.1,116.2 347.5,116.1 345.8,116.0 344.1,116.0 342.4,115.9 340.8,115.7 339.1,115.4 337.5,115.0 335.9,114.6 334.2,114.3 332.6,114.2 330.9,114.2 329.2,114.3 327.5,114.3 325.8,114.2 324.2,114.0 322.5,113.5 320.9,113.0 319.3,112.5 317.7,112.0 316.1,111.7 314.4,111.5 312.7,111.5 311.0,111.4 309.4,111.3 307.7,111.1 306.1,110.7 304.5,110.2 302.8,109.8 301.2,109.5 299.5,109.3 297.9,109.2 296.2,109.1 294.5,109.0 292.9,108.8 291.2,108.4 289.6,108.0 288.0,107.5 286.4,107.1 284.7,106.8 283.1,106.6 281.4,106.5 279.7,106.5 278.0,106.4 276.4,106.2 274.7,105.9 273.1,105.4 271.5,104.9 269.9,104.5 268.2,104.1 266.6,104.0 264.9,103.9 263.2,104.0 261.5,104.0 259.8,103.9 258.2,103.7 256.5,103.4 254.9,103.0 253.3,102.7 251.6,102.5 249.9,102.4 248.3,102.4 246.6,102.4 244.9,102.2 243.3,102.0 241.6,101.7 240.0,101.3 238.3,100.9 236.7,100.5 235.0,100.4 233.4,100.3 231.7,100.3 230.0,100.4 228.3,100.3 226.7,100.1 225.0,99.8 223.4,99.4 221.7,99.0 220.1,98.7 218.4,98.6 216.8,98.5 215.1,98.5 213.4,98.6 211.7,98.6 210.0,98.4 208.4,98.2 206.7,97.9 205.1,97.5 203.4,97.3 201.8,97.1 200.1,97.0 198.4,97.0 196.8,96.9 195.1,96.7 193.4,96.4 191.8,96.1 190.1,95.8 188.5,95.5 186.8,95.3 185.2,95.2 183.5,95.3 181.8,95.3 180.1,95.4 178.4,95.3 176.8,95.1 175.1,94.8 173.5,94.5 171.8,94.1 170.2,93.9 168.5,93.8 166.8,93.7 165.1,93.7 163.5,93.7 161.8,93.5 160.1,93.3 158.5,92.9 156.8,92.6 155.2,92.3 153.5,92.0 151.9,91.8 150.2,91.7 148.5,91.6 146.9,91.5 145.2,91.3 143.5,91.0 141.9,90.6 140.3,90.2 138.6,90.0 136.9,89.8 135.3,89.7 133.6,89.7 131.9,89.7 130.2,89.6 128.6,89.4 126.9,89.1 125.3,88.7 123.6,88.3 122.0,88.0 120.3,87.7 118.6,87.6 117.0,87.4 115.3,87.3 113.6,87.2 112.0,86.9 110.3,86.7 108.7,86.4 107.0,86.1 105.3,85.9 103.7,85.7 102.0,85.6 100.3,85.4 98.7,85.3 97.0,85.1 95.3,84.9 93.7,84.6 92.0,84.4 90.3,84.2 88.7,84.0 87.0,83.8 85.3,83.6" stroke="#00f" stroke-width="0.8" stroke-dasharray="0.75 2.25" stroke-linecap="round"/>
<path d="M742.2,760.0 742.2,758.3 742.2,756.7 742.1,755.0 742.1,753.3 742.1,751.6 742.0,750.0 742.0,748.3 742.0,746.6 742.0,745.0 742.0,743.3 742.0,741.6 742.0,739.9 742.0,738.3 742.0,736.6 741.9,734.9 741.9,733.3 741.9,731.6 741.9,729.9 741.8,728.2 741.8,726.6 741.8,724.9 741.8,723.2 741.8,721.6 741.8,719.9 741.8,718.2 741.8,716.5 741.8,714.9 741.8,713.2 741.7,711.5 741.7,709.9 741.7,708.2 741.7,706.5 741.7,704.8 741.7,703.2 741.6,701.5 741.6,699.8 741.6,698.2 741.6,696.5 741.5,694.8 741.5,693.1 741.5,691.5 741.5,689.8 741.5,688.1 741.5,686.5 741.4,684.8 741.4,683.1 741.3,681.4 741.3,679.8 741.3,678.1 741.3,676.4 741.3,674.8 741.2,673.1 741.2,671.4 741.2,669.7 741.2,668.1 741.2,666.4 741.2,664.7 741.1,663.1 741.1,661.4 741.1,659.7 741.1,658.0 741.1,656.4 741.0,654.7 741.0,653.0 741.0,651.4 740.9,649.7 740.9,648.0 740.9,646.3 740.9,644.7 740.9,643.0 740.9,641.3 740.9,639.6 740.9,638.0 740.8,636.3 740.8,634.6 740.7,633.0 740.7,631.3 740.7,629.6 740.6,627.9 740.6,626.3 740.6,624.6 740.6,622.9 740.5,621.3 740.5,619.6 740.5,617.9 740.4,616.2 740.4,614.6 740.4,612.9 740.3,611.2 740.3,609.6 740.3,607.9 740.2,606.2 740.2,604.6 740.1,602.9 740.0,601.2 740.0,599.5 740.0,597.9 739.9,596.2 739.9,594.5 739.9,592.9 739.9,591.2 739.9,589.5 739.9,587.8 739.8,586.2 739.8,584.5 739.7,582.8 739.7,581.2 739.6,579.5 739.6,577.8 739.6,576.1 739.5,574.5 739.5,572.8 739.4,571.1 739.4,569.5 739.4,567.8 739.3,566.1 739.3,564.4 739.2,562.8 739.2,561.1 739.1,559.4 739.1,557.8 739.0,556.1 738.9,554.4 738.9,552.7 738.8,551.1 738.7,549.4 738.7,547.7 738.6,546.1 738.6,544.4 738.6,542.7 738.5,541.1 738.5,539.4 738.4,537.7 738.3,536.0 738.2,534.4 738.1,532.7 738.0,531.0 737.9,529.4 737.9,527.7 737.8,526.0 737.8,524.4 737.7,522.7 737.6,521.0 737.6,519.3 737.5,517.7 737.5,516.0 737.4,514.3 737.4,512.7 737.4,511.0 737.3,509.3 737.2,507.6 737.1,506.0 737.0,504.3 736.9,502.6 736.8,501.0 736.8,499.3 736.7,497.6 736.7,496.0 736.6,494.3 736.6,492.6 736.5,490.9 736.4,489.3 736.3,487.6 736.2,485.9 736.1,484.3 735.9,482.6 735.8,480.9 735.7,479.3 735.7,477.6 735.6,475.9 735.5,474.3 735.4,472.6 735.3,470.9 735.2,469.3 735.1,467.6 735.1,465.9 735.0,464.2 734.9,462.6 734.9,460.9 734.8,459.2 734.6,457.6 734.5,455.9 734.4,454.2 734.2,452.6 734.1,450.9 734.0,449.2 734.0,447.6 733.9,445.9 733.9,444.2 733.8,442.5 733.8,440.9 733.7,439.2 733.6,437.5 733.4,435.9 733.3,434.2 733.2,432.5 733.1,430.9 733.0,429.2 732.9,427.5 732.8,425.9 732.7,424.2 732.6,422.5 732.5,420.9 732.4,419.2 732.3,417.5 732.2,415.9 732.1,414.2 731.9,412.5 731.8,410.8 731.7,409.2 731.5,407.5 731.3,405.9 731.1,404.2 730.9,402.5 730.7,400.9 730.6,399.2 730.5,397.5 730.4,395.9 730.4,394.2 730.3,392.5 730.2,390.9 730.0,389.2 729.8,387.5 729.7,385.9 729.5,384.2 729.3,382.5 729.2,380.9 729.0,379.2 728.9,377.6 728.7,375.9 728.5,374.2 728.4,372.6 728.2,370.9 728.0,369.3 727.9,367.6 727.7,365.9 727.6,364.3 727.4,362.6 727.2,361.0 726.9,359.3 726.6,357.7 726.3,356.0 726.0,354.4 725.7,352.7 725.5,351.1 725.3,349.4 725.1,347.8 724.9,346.1 724.7,344.5 724.5,342.8 724.2,341.2 723.8,339.5 723.5,337.9 723.1,336.3 722.7,334.7 722.3,333.0 722.0,331.4 721.7,329.8 721.3,328.2 721.0,326.5 720.6,324.9 720.2,323.3 719.9,321.6 719.6,320.0 719.3,318.4 719.0,316.7 718.7,315.1 718.4,313.4 718.1,311.8 717.7,310.2 717.2,308.6 716.7,307.0 716.2,305.4 715.8,303.8 715.4,302.1 715.1,300.5 714.8,298.9 714.4,297.2 714.1,295.6 713.6,294.0 713.1,292.4 712.5,290.8 711.9,289.2 711.3,287.6 710.7,286.1 710.1,284.5 709.6,282.9 709.0,281.3 708.4,279.7 707.8,278.2 707.2,276.6 706.6,275.0 706.0,273.5 705.4,271.9 704.9,270.3 704.4,268.7 703.8,267.1 703.2,265.5 702.4,264.0 701.6,262.5 700.7,261.1 699.8,259.7 698.9,258.2 698.2,256.7 697.5,255.2 696.9,253.6 696.3,252.0 695.7,250.5 695.1,248.9 694.3,247.4 693.5,246.0 692.6,244.6 691.7,243.2 690.8,241.7 690.0,240.3 689.2,238.9 688.4,237.4 687.5,236.0 686.6,234.6 685.7,233.2 684.7,231.9 683.7,230.6 682.8,229.2 681.9,227.8 681.1,226.4 680.1,225.0 679.1,223.7 678.0,222.5 676.7,221.4 675.3,220.4 673.9,219.5 672.5,218.6 671.2,217.6 670.0,216.5 668.9,215.2 667.9,214.0 666.9,212.7 665.9,211.4 664.7,210.3 663.5,209.2 662.2,208.2 660.8,207.3 659.5,206.3 658.2,205.4 657.0,204.3 655.7,203.2 654.5,202.2 653.2,201.2 651.9,200.3 650.5,199.4 649.2,198.4 647.9,197.4 646.7,196.3 645.6,195.1 644.5,193.9 643.3,192.7 642.0,191.7 640.6,190.9 639.0,190.2 637.4,189.7 635.8,189.2 634.3,188.6 632.9,187.8 631.6,186.8 630.3,185.7 629.1,184.5 627.9,183.4 626.5,182.4 625.1,181.6 623.6,181.0 622.0,180.4 620.5,179.9 618.9,179.4 617.4,178.8 615.8,178.3 614.3,177.7 612.8,177.1 611.2,176.7 609.7,176.2 608.1,175.8 606.6,175.2 605.1,174.5 603.7,173.7 602.4,172.7 601.0,171.8 599.6,170.9 598.2,170.1 596.6,169.6 595.0,169.2 593.4,168.8 591.8,168.4 590.3,167.8 588.8,167.1 587.4,166.2 586.0,165.2 584.6,164.1 583.2,163.2 581.7,162.4 580.1,161.8 578.6,161.3 576.9,160.8 575.3,160.4 573.7,159.9 572.1,159.4 570.6,158.8 569.0,158.3 567.4,157.9 565.7,157.5 564.1,157.1 562.5,156.7 560.9,156.2 559.3,155.5 557.8,154.8 556.3,154.0 554.8,153.2 553.2,152.6 551.5,152.2 549.9,152.1 548.1,152.0 546.4,152.0 544.7,151.9 543.0,151.7 541.4,151.3 539.8,150.7 538.3,150.0 536.7,149.4 535.1,148.8 533.5,148.4 531.9,148.0 530.2,147.7 528.6,147.4 526.9,147.1 525.3,146.6 523.7,146.1 522.1,145.7 520.5,145.2 518.8,144.9 517.2,144.5 515.5,144.2 513.9,143.8 512.3,143.3 510.7,142.7 509.1,142.0 507.6,141.4 506.0,140.8 504.3,140.5 502.6,140.3 500.9,140.4 499.2,140.6 497.4,140.7 495.7,140.8 494.0,140.7 492.4,140.4 490.8,139.9 489.1,139.5 487.5,139.0 485.9,138.7 484.2,138.4 482.5,138.3 480.9,138.1 479.2,137.9 477.5,137.7 475.9,137.4 474.3,137.1 472.6,136.8 470.9,136.6 469.3,136.4 467.6,136.3 465.9,136.1 464.3,135.8 462.7,135.4 461.1,134.8 459.5,134.2 457.9,133.6 456.3,133.1 454.7,132.8 453.0,132.6 451.3,132.6 449.6,132.6 447.9,132.5 446.3,132.3 444.6,131.9 443.0,131.4 441.4,130.8 439.8,130.1 438.2,129.6 436.6,129.2 435.0,128.9 433.3,128.7 431.6,128.5 430.0,128.3 428.3,128.1 426.7,127.9 425.0,127.7 423.3,127.6 421.7,127.5 420.0,127.6 418.3,127.6 416.6,127.5 414.9,127.3 413.3,127.0 411.7,126.5 410.1,126.0 408.5,125.5 406.8,125.2 405.2,125.0 403.5,124.9 401.8,124.9 400.1,124.9 398.4,124.8 396.8,124.5 395.2,124.1 393.6,123.5 392.0,122.9 390.4,122.3 388.8,121.9 387.1,121.5 385.5,121.2 383.8,121.0 382.2,120.8 380.5,120.5 378.9,120.2 377.2,120.0 375.6,119.7 373.9,119.6 372.2,119.5 370.6,119.4 368.9,119.3 367.2,119.1 365.6,118.8 364.0,118.4 362.4,117.9 360.7,117.4 359.1,117.0 357.5,116.8 355.8,116.7 354.1,116.8 352.4,116.9 350.7,117.0 349.0,117.1 347.3,116.9 345.7,116.7 344.0,116.4 342.4,116.1 340.8,115.8 339.1,115.6 337.4,115.4 335.8,115.4 334.1,115.2 332.4,115.1 330.8,114.9 329.1,114.6 327.5,114.4 325.8,114.2 324.2,114.1 322.5,113.9 320.8,113.8 319.2,113.6 317.5,113.3 315.9,112.9 314.3,112.4 312.7,111.8 311.1,111.3 309.4,111.0 307.8,110.8 306.1,110.8 304.4,110.8 302.7,110.9 301.0,111.0 299.3,111.0 297.7,110.8 296.0,110.5 294.4,110.2 292.7,109.9 291.1,109.7 289.4,109.5 287.8,109.4 286.1,109.3 284.4,109.1 282.8,109.0 281.1,108.8 279.5,108.5 277.8,108.4 276.1,108.2 274.5,108.2 272.8,108.1 271.1,108.1 269.5,107.9 267.8,107.7 266.2,107.3 264.5,106.8 262.9,106.3 261.3,105.9 259.6,105.7 258.0,105.5 256.3,105.4 254.6,105.4 252.9,105.4 251.3,105.3 249.6,105.0 248.0,104.7 246.4,104.2 244.7,103.8 243.1,103.4 241.5,103.0 239.8,102.7 238.2,102.4 236.5,102.1 234.9,101.9 233.2,101.6 231.6,101.3 229.9,101.1 228.2,100.9 226.6,100.9 224.9,100.8 223.2,100.8 221.5,100.8 219.9,100.7 218.2,100.5 216.6,100.2 214.9,99.8 213.3,99.5 211.6,99.2 210.0,99.1 208.3,99.0 206.6,99.1 204.9,99.1 203.2,99.1 201.6,99.0 199.9,98.8 198.3,98.5 196.6,98.1 195.0,97.8 193.3,97.5 191.7,97.2 190.0,97.0 188.3,96.8 186.7,96.6 185.0,96.4 183.4,96.1 181.7,95.9 180.1,95.7 178.4,95.6 176.7,95.6 175.0,95.5 173.3,95.5 171.7,95.4 170.0,95.2 168.4,94.9 166.7,94.6 165.1,94.2 163.4,93.9 161.8,93.6 160.1,93.4 158.4,93.4 156.7,93.4 155.1,93.4 153.4,93.4 151.7,93.3 150.0,93.1 148.4,92.9 146.7,92.7 145.1,92.4 143.4,92.3 141.7,92.1 140.1,92.0 138.4,91.9 136.7,91.7 135.1,91.5 133.4,91.3 131.7,91.1 130.1,90.9 128.4,90.7 126.7,90.6 125.1,90.4 123.4,90.2 121.7,90.0 120.1,89.6 118.4,89.2 116.8,88.8 115.2,88.3 113.5,88.0 111.9,87.7 110.2,87.4 108.6,87.3 106.9,87.1 105.2,86.9 103.6,86.7 101.9,86.4 100.2,86.1 98.6,85.8 96.9,85.5 95.3,85.2 93.6,85.0 92.0,84.7 90.3,84.4 88.7,84.2 87.0,83.9 85.3,83.6" stroke="#00f" stroke-width="0.8" stroke-dasharray="0.75 2.25" stroke-linecap="round"/>
<path d="M742.1,760.0 742.1,758.3 742.1,756.7 742.1,755.0 742.1,753.3 742.0,751.6 742.0,750.0 742.0,748.3 742.0,746.6 742.0,745.0 741.9,743.3 741.9,741.6 741.9,739.9 741.9,738.3 741.9,736.6 741.8,734.9 741.8,733.3 741.8,731.6 741.8,729.9 741.8,728.2 741.8,726.6 741.8,724.9 741.8,723.2 741.8,721.6 741.8,719.9 741.7,718.2 741.7,716.5 741.7,714.9 741.7,713.2 741.7,711.5 741.7,709.9 741.7,708.2 741.7,706.5 741.6,704.8 741.6,703.2 741.6,701.5 741.5,699.8 741.5,698.2 741.5,696.5 741.5,694.8 741.5,693.1 741.5,691.5 741.5,689.8 741.5,688.1 741.4,686.5 741.4,684.8 741.4,683.1 741.4,681.4 741.4,679.8 741.3,678.1 741.3,676.4 741.3,674.8 741.3,673.1 741.2,671.4 741.2,669.7 741.1,668.1 741.1,666.4 741.1,664.7 741.1,663.1 741.1,661.4 741.1,659.7 741.0,658.0 741.0,656.4 741.0,654.7 741.0,653.0 740.9,651.4 740.9,649.7 740.9,648.0 740.9,646.3 740.9,644.7 740.9,643.0 740.9,641.3 740.8,639.7 740.8,638.0 740.8,636.3 740.7,634.6 740.7,633.0 740.7,631.3 740.6,629.6 740.6,628.0 740.6,626.3 740.6,624.6 740.5,622.9 740.5,621.3 740.4,619.6 740.4,617.9 740.3,616.3 740.3,614.6 740.3,612.9 740.3,611.2 740.3,609.6 740.2,607.9 740.2,606.2 740.1,604.6 740.1,602.9 740.0,601.2 740.0,599.5 740.0,597.9 739.9,596.2 739.9,594.5 739.9,592.9 739.8,591.2 739.8,589.5 739.7,587.8 739.6,586.2 739.6,584.5 739.6,582.8 739.5,581.2 739.5,579.5 739.5,577.8 739.5,576.1 739.4,574.5 739.4,572.8 739.3,571.1 739.2,569.5 739.2,567.8 739.2,566.1 739.1,564.4 739.1,562.8 739.1,561.1 739.1,559.4 739.0,557.8 738.9,556.1 738.9,554.4 738.8,552.7 738.7,551.1 738.7,549.4 738.6,547.7 738.6,546.1 738.5,544.4 738.4,542.7 738.3,541.1 738.3,539.4 738.2,537.7 738.1,536.0 738.0,534.4 738.0,532.7 738.0,531.0 737.9,529.4 737.9,527.7 737.9,526.0 737.8,524.4 737.7,522.7 737.6,521.0 737.5,519.3 737.5,517.7 737.4,516.0 737.4,514.3 737.3,512.7 737.3,511.0 737.2,509.3 737.1,507.7 737.0,506.0 736.9,504.3 736.8,502.6 736.8,501.0 736.7,499.3 736.7,497.6 736.6,496.0 736.5,494.3 736.5,492.6 736.4,491.0 736.3,489.3 736.2,487.6 736.1,485.9 736.0,484.3 736.0,482.6 735.9,480.9 735.9,479.3 735.8,477.6 735.7,475.9 735.6,474.3 735.4,472.6 735.3,470.9 735.2,469.3 735.1,467.6 735.0,465.9 734.9,464.3 734.8,462.6 734.7,460.9 734.6,459.2 734.5,457.6 734.4,455.9 734.3,454.2 734.2,452.6 734.1,450.9 734.1,449.2 734.0,447.6 734.0,445.9 733.9,444.2 733.8,442.6 733.6,440.9 733.5,439.2 733.4,437.6 733.3,435.9 733.2,434.2 733.1,432.5 733.0,430.9 733.0,429.2 732.8,427.5 732.7,425.9 732.5,424.2 732.3,422.5 732.2,420.9 732.0,419.2 731.9,417.5 731.9,415.9 731.8,414.2 731.7,412.5 731.6,410.9 731.4,409.2 731.3,407.5 731.1,405.9 731.0,404.2 730.9,402.5 730.8,400.9 730.7,399.2 730.6,397.5 730.4,395.9 730.3,394.2 730.1,392.5 729.8,390.9 729.6,389.2 729.4,387.6 729.3,385.9 729.2,384.2 729.0,382.6 728.9,380.9 728.8,379.2 728.6,377.6 728.4,375.9 728.2,374.3 728.0,372.6 727.8,371.0 727.7,369.3 727.5,367.6 727.4,366.0 727.3,364.3 727.2,362.6 727.0,361.0 726.7,359.3 726.5,357.7 726.2,356.0 725.9,354.4 725.7,352.7 725.5,351.1 725.3,349.4 725.1,347.8 724.8,346.1 724.4,344.5 724.1,342.9 723.7,341.3 723.3,339.6 723.0,338.0 722.8,336.3 722.6,334.7 722.3,333.0 722.1,331.4 721.8,329.7 721.5,328.1 721.1,326.5 720.7,324.9 720.3,323.3 720.0,321.6 719.6,320.0 719.4,318.4 719.1,316.7 718.8,315.1 718.4,313.4 717.9,311.8 717.5,310.2 717.0,308.6 716.5,307.0 716.0,305.4 715.7,303.8 715.3,302.2 715.0,300.5 714.6,298.9 714.1,297.3 713.6,295.7 713.0,294.1 712.5,292.5 712.0,290.9 711.5,289.3 711.2,287.7 710.8,286.0 710.4,284.4 710.0,282.8 709.4,281.2 708.7,279.6 708.0,278.1 707.3,276.6 706.5,275.0 705.9,273.5 705.3,271.9 704.7,270.4 704.1,268.8 703.4,267.2 702.6,265.7 701.8,264.3 700.9,262.8 700.1,261.4 699.3,259.9 698.7,258.3 698.1,256.8 697.5,255.2 696.9,253.6 696.2,252.1 695.4,250.6 694.5,249.2 693.6,247.8 692.7,246.4 691.9,245.0 691.1,243.5 690.5,242.0 689.8,240.5 689.0,239.0 688.1,237.6 687.1,236.3 685.9,235.1 684.7,233.9 683.6,232.7 682.5,231.4 681.5,230.1 680.6,228.7 679.7,227.4 678.8,226.0 677.8,224.7 676.7,223.5 675.5,222.4 674.3,221.3 673.2,220.1 672.2,218.8 671.2,217.5 670.3,216.2 669.3,214.9 668.2,213.6 667.0,212.6 665.7,211.6 664.2,210.8 662.7,210.0 661.3,209.1 660.0,208.1 658.9,207.0 657.8,205.8 656.6,204.7 655.5,203.6 654.2,202.6 652.7,201.8 651.2,201.0 649.8,200.3 648.4,199.4 647.2,198.4 646.1,197.1 645.1,195.8 644.0,194.5 642.9,193.3 641.6,192.3 640.2,191.5 638.7,190.7 637.3,190.0 635.9,189.1 634.5,188.2 633.3,187.1 632.0,186.1 630.6,185.1 629.2,184.4 627.6,183.8 626.0,183.5 624.3,183.2 622.6,182.8 621.1,182.2 619.7,181.5 618.3,180.6 617.0,179.6 615.7,178.7 614.2,177.9 612.7,177.3 611.1,176.9 609.5,176.5 608.0,176.1 606.5,175.5 605.0,174.8 603.6,173.9 602.2,173.1 600.8,172.3 599.3,171.7 597.7,171.3 596.1,171.0 594.4,170.8 592.8,170.5 591.3,170.0 589.8,169.4 588.3,168.6 586.8,167.9 585.3,167.2 583.7,166.8 582.1,166.4 580.5,166.2 578.8,165.9 577.2,165.4 575.7,164.8 574.2,163.9 572.8,162.9 571.3,162.0 569.8,161.1 568.3,160.5 566.7,160.1 565.0,159.9 563.3,159.7 561.7,159.4 560.0,159.0 558.5,158.5 556.9,157.9 555.4,157.3 553.7,156.9 552.1,156.7 550.4,156.6 548.7,156.6 547.0,156.5 545.3,156.3 543.7,155.8 542.2,155.2 540.6,154.5 539.1,153.9 537.5,153.3 535.9,153.0 534.2,152.8 532.5,152.6 530.9,152.3 529.3,151.9 527.7,151.3 526.2,150.5 524.6,149.7 523.1,149.0 521.5,148.5 519.8,148.2 518.1,148.1 516.4,148.1 514.7,148.0 513.1,147.8 511.4,147.4 509.8,146.9 508.2,146.4 506.6,145.8 505.0,145.5 503.4,145.2 501.7,145.1 500.0,144.9 498.4,144.7 496.7,144.2 495.1,143.7 493.6,143.0 492.0,142.3 490.4,141.8 488.8,141.4 487.1,141.3 485.4,141.3 483.7,141.3 482.0,141.3 480.3,141.0 478.7,140.6 477.1,140.2 475.5,139.7 473.8,139.3 472.2,139.1 470.5,139.1 468.8,139.1 467.1,139.1 465.4,139.0 463.8,138.7 462.2,138.2 460.6,137.6 459.0,137.0 457.4,136.4 455.8,136.0 454.1,135.7 452.5,135.5 450.8,135.2 449.2,134.8 447.6,134.3 446.0,133.7 444.4,133.1 442.8,132.6 441.2,132.2 439.5,132.0 437.8,132.1 436.1,132.2 434.4,132.2 432.7,132.1 431.1,131.9 429.5,131.5 427.9,131.0 426.2,130.5 424.6,130.2 422.9,130.0 421.3,130.0 419.6,129.9 417.9,129.9 416.3,129.6 414.6,129.3 413.0,128.8 411.4,128.3 409.8,127.8 408.2,127.5 406.5,127.3 404.8,127.3 403.1,127.3 401.4,127.2 399.8,127.1 398.1,126.7 396.5,126.3 394.9,125.9 393.3,125.6 391.6,125.4 389.9,125.4 388.2,125.4 386.6,125.4 384.9,125.3 383.2,125.0 381.6,124.5 380.0,123.9 378.4,123.2 376.8,122.7 375.2,122.3 373.6,122.0 371.9,121.9 370.2,121.8 368.6,121.6 366.9,121.3 365.3,120.9 363.7,120.5 362.0,120.1 360.4,119.9 358.7,119.7 357.1,119.8 355.4,119.9 353.7,119.9 352.0,119.9 350.3,119.7 348.7,119.4 347.1,119.0 345.4,118.6 343.8,118.3 342.1,118.2 340.5,118.1 338.8,118.1 337.1,118.1 335.4,117.9 333.8,117.6 332.2,117.1 330.6,116.5 329.0,116.0 327.3,115.7 325.7,115.5 324.0,115.4 322.3,115.4 320.6,115.4 319.0,115.3 317.3,115.1 315.7,114.7 314.0,114.4 312.4,114.1 310.7,113.8 309.1,113.7 307.4,113.7 305.7,113.6 304.1,113.5 302.4,113.3 300.8,112.9 299.2,112.4 297.6,111.9 295.9,111.4 294.3,111.1 292.6,111.0 290.9,110.9 289.3,110.9 287.6,110.8 285.9,110.7 284.3,110.4 282.7,110.0 281.0,109.7 279.4,109.4 277.7,109.2 276.0,109.2 274.3,109.3 272.6,109.4 271.0,109.4 269.3,109.3 267.6,109.0 266.0,108.7 264.4,108.3 262.7,108.0 261.1,107.8 259.4,107.6 257.7,107.5 256.1,107.3 254.4,107.1 252.8,106.7 251.2,106.3 249.5,105.8 247.9,105.3 246.3,105.0 244.6,104.8 242.9,104.8 241.3,104.8 239.6,104.8 237.9,104.7 236.2,104.5 234.6,104.2 233.0,103.9 231.3,103.6 229.7,103.3 228.0,103.2 226.3,103.1 224.6,103.1 223.0,103.1 221.3,102.9 219.6,102.7 218.0,102.3 216.4,101.9 214.7,101.6 213.1,101.3 211.4,101.2 209.7,101.1 208.0,101.1 206.4,101.0 204.7,100.9 203.1,100.7 201.4,100.4 199.8,100.1 198.1,99.8 196.4,99.7 194.8,99.7 193.1,99.7 191.4,99.8 189.7,99.8 188.0,99.6 186.4,99.3 184.7,99.0 183.1,98.6 181.5,98.2 179.8,97.9 178.2,97.7 176.5,97.5 174.8,97.4 173.2,97.2 171.5,97.0 169.8,96.6 168.2,96.3 166.6,95.9 164.9,95.6 163.3,95.4 161.6,95.3 159.9,95.2 158.2,95.2 156.6,95.1 154.9,94.9 153.2,94.6 151.6,94.2 149.9,93.9 148.3,93.6 146.6,93.5 144.9,93.4 143.3,93.3 141.6,93.2 139.9,93.1 138.3,92.8 136.6,92.4 135.0,91.9 133.4,91.5 131.7,91.1 130.1,90.8 128.4,90.7 126.7,90.5 125.1,90.4 123.4,90.2 121.7,89.9 120.1,89.6 118.4,89.2 116.8,88.9 115.1,88.7 113.5,88.4 111.8,88.3 110.1,88.1 108.5,87.9 106.8,87.6 105.2,87.2 103.5,86.9 101.9,86.5 100.2,86.1 98.6,85.8 96.9,85.5 95.3,85.3 93.6,85.0 92.0,84.8 90.3,84.5 88.7,84.2 87.0,83.9 85.3,83.6" stroke="#00f" stroke-width="0.8" stroke-dasharray="0.75 2.25" stroke-linecap="round"/>
<path d="M742.1,760.0 742.1,758.3 742.1,756.7 742.1,755.0 742.0,753.3 742.0,751.6 742.0,750.0 742.0,748.3 742.0,746.6 741.9,745.0 741.9,743.3 741.9,741.6 741.9,739.9 741.9,738.3 741.8,736.6 741.8,734.9 741.8,733.3 741.8,731.6 741.8,729.9 741.8,728.2 741.8,726.6 741.8,724.9 741.8,723.2 741.8,721.6 741.7,719.9 741.7,718.2 741.7,716.5 741.7,714.9 741.7,713.2 741.7,711.5 741.7,709.9 741.7,708.2 741.6,706.5 741.6,704.8 741.6,703.2 741.6,701.5 741.5,699.8 741.5,698.2 741.5,696.5 741.5,694.8 741.4,693.1 741.4,691.5 741.4,689.8 741.4,688.1 741.4,686.5 741.3,684.8 741.3,683.1 741.3,681.4 741.3,679.8 741.3,678.1 741.3,676.4 741.3,674.8 741.3,673.1 741.3,671.4 741.2,669.7 741.2,668.1 741.2,666.4 741.1,664.7 741.1,663.1 741.1,661.4 741.1,659.7 741.0,658.0 741.0,656.4 741.0,654.7 741.0,653.0 740.9,651.4 740.9,649.7 740.9,648.0 740.9,646.3 740.9,644.7 740.8,643.0 740.8,641.3 740.8,639.7 740.8,638.0 740.8,636.3 740.7,634.6 740.7,633.0 740.7,631.3 740.7,629.6 740.6,627.9 740.6,626.3 740.6,624.6 740.5,622.9 740.5,621.3 740.4,619.6 740.4,617.9 740.3,616.3 740.3,614.6 740.3,612.9 740.2,611.2 740.2,609.6 740.2,607.9 740.2,606.2 740.1,604.6 740.1,602.9 740.1,601.2 740.1,599.5 740.0,597.9 740.0,596.2 740.0,594.5 739.9,592.9 739.9,591.2 739.9,589.5 739.8,587.8 739.8,586.2 739.7,584.5 739.7,582.8 739.6,581.2 739.6,579.5 739.5,577.8 739.5,576.1 739.4,574.5 739.4,572.8 739.3,571.1 739.3,569.5 739.2,567.8 739.2,566.1 739.1,564.4 739.1,562.8 739.1,561.1 739.0,559.4 739.0,557.8 739.0,556.1 738.9,554.4 738.9,552.7 738.8,551.1 738.7,549.4 738.7,547.7 738.6,546.1 738.6,544.4 738.5,542.7 738.4,541.1 738.3,539.4 738.3,537.7 738.2,536.0 738.1,534.4 738.1,532.7 738.0,531.0 738.0,529.4 737.9,527.7 737.9,526.0 737.8,524.4 737.7,522.7 737.7,521.0 737.6,519.3 737.6,517.7 737.5,516.0 737.5,514.3 737.4,512.7 737.4,511.0 737.3,509.3 737.2,507.6 737.1,506.0 737.1,504.3 737.0,502.6 736.9,501.0 736.8,499.3 736.7,497.6 736.6,496.0 736.5,494.3 736.4,492.6 736.3,491.0 736.2,489.3 736.2,487.6 736.1,485.9 736.0,484.3 735.9,482.6 735.9,480.9 735.8,479.3 735.8,477.6 735.7,475.9 735.6,474.3 735.6,472.6 735.5,470.9 735.4,469.2 735.3,467.6 735.2,465.9 735.1,464.2 735.0,462.6 734.9,460.9 734.8,459.2 734.6,457.6 734.5,455.9 734.4,454.2 734.3,452.6 734.2,450.9 734.1,449.2 734.0,447.6 733.9,445.9 733.8,444.2 733.8,442.6 733.7,440.9 733.6,439.2 733.5,437.5 733.4,435.9 733.3,434.2 733.2,432.5 733.1,430.9 733.0,429.2 732.9,427.5 732.8,425.9 732.7,424.2 732.5,422.5 732.3,420.9 732.2,419.2 732.0,417.5 731.9,415.9 731.7,414.2 731.6,412.5 731.5,410.9 731.3,409.2 731.2,407.5 731.1,405.9 731.0,404.2 730.9,402.5 730.7,400.9 730.6,399.2 730.5,397.5 730.4,395.9 730.3,394.2 730.2,392.5 730.0,390.9 729.8,389.2 729.7,387.5 729.5,385.9 729.3,384.2 729.2,382.6 729.0,380.9 728.8,379.2 728.6,377.6 728.4,375.9 728.2,374.3 727.9,372.6 727.7,371.0 727.5,369.3 727.3,367.7 727.1,366.0 726.9,364.3 726.8,362.7 726.6,361.0 726.4,359.4 726.2,357.7 726.0,356.1 725.8,354.4 725.5,352.8 725.3,351.1 725.1,349.5 724.8,347.8 724.5,346.2 724.2,344.5 723.8,342.9 723.5,341.3 723.1,339.7 722.8,338.0 722.4,336.4 722.1,334.8 721.8,333.1 721.5,331.5 721.2,329.9 720.8,328.2 720.5,326.6 720.1,325.0 719.8,323.4 719.4,321.7 719.1,320.1 718.8,318.5 718.4,316.9 718.1,315.2 717.8,313.6 717.4,312.0 717.0,310.3 716.6,308.7 716.1,307.1 715.7,305.5 715.2,303.9 714.7,302.3 714.2,300.8 713.7,299.2 713.1,297.6 712.5,296.0 712.0,294.4 711.4,292.9 710.8,291.3 710.3,289.7 709.8,288.1 709.3,286.5 708.9,284.9 708.4,283.3 707.9,281.7 707.4,280.1 706.8,278.5 706.2,277.0 705.5,275.4 704.9,273.9 704.3,272.3 703.6,270.8 703.0,269.2 702.3,267.7 701.6,266.2 700.8,264.7 700.0,263.2 699.2,261.8 698.3,260.3 697.5,258.9 696.7,257.4 695.9,256.0 695.1,254.5 694.4,253.0 693.6,251.6 692.7,250.1 691.9,248.7 691.1,247.3 690.2,245.9 689.4,244.4 688.7,243.0 687.9,241.6 687.1,240.1 686.2,238.8 685.2,237.4 684.2,236.2 683.1,234.9 681.9,233.8 680.8,232.6 679.6,231.5 678.4,230.3 677.2,229.2 676.1,228.1 674.9,226.9 673.8,225.8 672.7,224.7 671.5,223.5 670.4,222.4 669.3,221.3 668.3,220.1 667.2,218.9 666.2,217.7 665.2,216.5 664.1,215.3 663.0,214.2 661.8,213.1 660.7,212.1 659.5,211.0 658.3,210.0 657.1,209.0 655.9,207.9 654.7,206.9 653.5,205.9 652.2,204.9 650.8,204.1 649.4,203.3 648.0,202.5 646.5,201.8 645.1,201.1 643.8,200.2 642.5,199.3 641.2,198.4 640.0,197.4 638.8,196.4 637.5,195.4 636.3,194.4 635.0,193.4 633.7,192.5 632.4,191.5 631.1,190.6 629.9,189.6 628.6,188.7 627.2,187.8 625.8,187.1 624.3,186.5 622.8,185.9 621.2,185.4 619.7,184.9 618.2,184.3 616.7,183.7 615.3,183.1 613.9,182.4 612.4,181.8 611.0,181.2 609.5,180.6 608.0,180.1 606.5,179.5 605.1,178.9 603.6,178.2 602.2,177.5 600.8,176.7 599.5,175.8 598.1,175.0 596.6,174.2 595.2,173.5 593.7,172.8 592.2,172.2 590.7,171.6 589.2,171.1 587.7,170.5 586.1,170.0 584.6,169.5 583.0,169.1 581.3,168.8 579.7,168.5 578.0,168.3 576.4,167.9 574.8,167.5 573.2,167.0 571.7,166.3 570.2,165.6 568.7,164.9 567.2,164.2 565.6,163.5 564.1,162.9 562.5,162.4 561.0,161.8 559.4,161.3 557.8,160.7 556.3,160.1 554.7,159.5 553.2,159.0 551.6,158.5 550.0,158.1 548.4,157.7 546.7,157.5 545.1,157.2 543.5,156.9 541.9,156.5 540.2,156.2 538.6,155.8 537.0,155.4 535.4,155.0 533.8,154.7 532.2,154.3 530.5,153.9 529.0,153.4 527.4,152.8 525.8,152.1 524.3,151.4 522.7,150.7 521.2,150.0 519.6,149.4 518.0,148.9 516.3,148.5 514.7,148.2 513.0,148.0 511.4,147.7 509.7,147.5 508.1,147.2 506.4,147.0 504.8,146.7 503.1,146.5 501.4,146.3 499.8,146.1 498.1,145.9 496.5,145.6 494.8,145.3 493.2,144.9 491.6,144.4 490.0,143.9 488.4,143.4 486.8,143.0 485.1,142.6 483.5,142.2 481.9,141.9 480.2,141.4 478.6,141.0 477.0,140.5 475.4,140.0 473.8,139.6 472.2,139.2 470.5,139.0 468.8,138.8 467.2,138.7 465.5,138.6 463.8,138.5 462.1,138.3 460.5,138.1 458.9,137.8 457.2,137.5 455.6,137.1 454.0,136.7 452.3,136.4 450.7,136.0 449.1,135.5 447.5,135.0 445.9,134.5 444.3,134.0 442.7,133.5 441.1,133.0 439.4,132.7 437.8,132.4 436.1,132.2 434.4,132.1 432.8,132.0 431.1,131.9 429.4,131.7 427.8,131.5 426.1,131.2 424.5,131.0 422.8,130.9 421.1,130.8 419.5,130.7 417.8,130.6 416.1,130.4 414.5,130.2 412.8,129.9 411.2,129.5 409.6,129.1 408.0,128.7 406.3,128.3 404.7,127.9 403.1,127.5 401.5,127.1 399.8,126.8 398.2,126.4 396.6,126.1 394.9,125.8 393.3,125.5 391.6,125.3 389.9,125.2 388.3,125.2 386.6,125.2 384.9,125.2 383.2,125.1 381.6,124.9 379.9,124.7 378.3,124.4 376.6,124.1 375.0,123.8 373.4,123.5 371.7,123.2 370.1,122.9 368.4,122.7 366.8,122.4 365.1,122.1 363.5,121.7 361.9,121.4 360.2,121.0 358.6,120.7 356.9,120.5 355.3,120.3 353.6,120.2 352.0,120.1 350.3,120.0 348.6,119.8 347.0,119.7 345.3,119.5 343.6,119.4 342.0,119.3 340.3,119.3 338.6,119.2 337.0,119.1 335.3,119.0 333.6,118.7 332.0,118.4 330.4,118.0 328.8,117.6 327.1,117.2 325.5,116.8 323.9,116.5 322.2,116.2 320.6,116.0 318.9,115.8 317.2,115.6 315.6,115.5 313.9,115.3 312.3,115.2 310.6,115.0 308.9,115.0 307.3,114.9 305.6,114.9 303.9,114.9 302.2,114.8 300.6,114.7 298.9,114.5 297.3,114.3 295.6,114.1 294.0,113.8 292.3,113.6 290.6,113.4 289.0,113.2 287.3,113.0 285.7,112.7 284.0,112.4 282.4,112.1 280.8,111.7 279.1,111.4 277.5,111.1 275.8,110.9 274.2,110.7 272.5,110.6 270.8,110.5 269.2,110.5 267.5,110.4 265.8,110.2 264.2,110.1 262.5,109.9 260.8,109.7 259.2,109.6 257.5,109.4 255.9,109.1 254.2,108.9 252.6,108.6 250.9,108.2 249.3,107.8 247.7,107.4 246.0,107.0 244.4,106.7 242.7,106.4 241.1,106.2 239.4,106.0 237.8,105.9 236.1,105.7 234.5,105.5 232.8,105.3 231.1,105.0 229.5,104.9 227.8,104.7 226.1,104.6 224.5,104.6 222.8,104.5 221.1,104.4 219.5,104.3 217.8,104.2 216.1,104.0 214.5,103.7 212.8,103.5 211.2,103.2 209.5,102.9 207.9,102.6 206.2,102.4 204.6,102.1 202.9,101.7 201.3,101.4 199.6,101.1 198.0,100.8 196.3,100.6 194.7,100.4 193.0,100.3 191.3,100.3 189.6,100.2 188.0,100.2 186.3,100.1 184.6,99.9 183.0,99.8 181.3,99.6 179.6,99.4 178.0,99.2 176.3,99.0 174.7,98.8 173.0,98.6 171.3,98.4 169.7,98.1 168.0,97.9 166.4,97.6 164.7,97.3 163.1,96.9 161.4,96.6 159.8,96.3 158.1,96.0 156.5,95.8 154.8,95.5 153.2,95.3 151.5,95.0 149.8,94.8 148.2,94.6 146.5,94.4 144.9,94.2 143.2,94.1 141.5,93.9 139.8,93.8 138.2,93.5 136.5,93.2 134.9,92.9 133.2,92.5 131.6,92.1 130.0,91.7 128.3,91.3 126.7,90.9 125.0,90.6 123.4,90.3 121.7,90.0 120.1,89.6 118.4,89.3 116.8,89.0 115.1,88.7 113.5,88.5 111.8,88.2 110.1,88.0 108.5,87.8 106.8,87.5 105.2,87.3 103.5,87.0 101.9,86.7 100.2,86.4 98.6,86.1 96.9,85.8 95.3,85.5 93.6,85.2 91.9,84.9 90.3,84.6 88.6,84.2 87.0,83.9 85.3,83.6" stroke="#00f" stroke-width="0.8" stroke-dasharray="0.75 2.25" stroke-linecap="round"/>
<path d="M100.33,85.44 101.99,85.64 103.66,85.85 105.32,86.05 106.99,86.26 108.65,86.46 110.31,86.66 111.98,86.86 113.64,87.06 115.31,87.26 116.97,87.46 118.63,87.66 120.30,87.86 121.96,88.06 123.63,88.26 125.29,88.46 126.95,88.65 128.62,88.85 130.28,89.05 131.94,89.25 133.61,89.44 135.27,89.64 136.93,89.83 138.60,90.03 140.26,90.22 141.92,90.42 143.59,90.61 145.25,90.80 146.91,91.00 148.58,91.19 150.24,91.38 151.90,91.57 153.56,91.77 155.23,91.96 156.89,92.15 158.55,92.34 160.21,92.53 161.88,92.72 163.54,92.91 165.20,93.10 166.86,93.29 168.53,93.48 170.19,93.67 171.85,93.86 173.51,94.05 175.17,94.24 176.84,94.43 178.50,94.62 180.16,94.81 181.82,94.99 183.48,95.18 185.14,95.37 186.81,95.56 188.47,95.75 190.13,95.94 191.79,96.12 193.45,96.31 195.11,96.50 196.77,96.69 198.43,96.88 200.10,97.06 201.76,97.25 203.42,97.44 205.08,97.63 206.74,97.81 208.40,98.00 210.06,98.19 211.72,98.38 213.38,98.57 215.04,98.75 216.70,98.94 218.36,99.13 220.02,99.32 221.68,99.51 223.34,99.69 225.00,99.88 226.66,100.07 228.32,100.26 229.98,100.45 231.64,100.64 233.30,100.83 234.96,101.01 236.62,101.20 238.28,101.39 239.94,101.58 241.60,101.77 243.26,101.96 244.92,102.15 246.58,102.34 248.24,102.53 249.89,102.72 251.55,102.92 253.21,103.11 254.87,103.30 256.53,103.49 258.19,103.68 259.85,103.88 261.50,104.07 263.16,104.26 264.82,104.45 266.48,104.65 268.14,104.84 269.80,105.04 271.45,105.23 273.11,105.43 274.77,105.62 276.43,105.82 278.08,106.01 279.74,106.21 281.40,106.41 283.06,106.60 284.71,106.80 286.37,107.00 288.03,107.20 289.69,107.40 291.34,107.60 293.00,107.80 294.66,108.00 296.31,108.20 297.97,108.40 299.63,108.60 301.28,108.81 302.94,109.01 304.60,109.21 306.25,109.42 307.91,109.62 309.57,109.83 311.22,110.03 312.88,110.24 314.53,110.44 316.19,110.65 317.84,110.86 319.50,111.07 321.16,111.28 322.81,111.49 324.47,111.70 326.12,111.91 327.78,112.12 329.43,112.33 331.09,112.55 332.74,112.76 334.40,112.97 336.05,113.19 337.71,113.40 339.36,113.62 341.02,113.84 342.67,114.06 344.32,114.27 345.98,114.49 347.63,114.71 349.29,114.94 350.94,115.16 352.59,115.38 354.25,115.60 355.90,115.83 357.56,116.05 359.21,116.28 360.86,116.50 362.52,116.73 364.17,116.96 365.82,117.19 367.48,117.42 369.13,117.65 370.78,117.88 372.43,118.11 374.09,118.35 375.74,118.58 377.39,118.82 379.05,119.05 380.70,119.29 382.35,119.53 384.00,119.77 385.65,120.01 387.31,120.25 388.96,120.49 390.61,120.73 392.26,120.97 393.91,121.22 395.56,121.46 397.22,121.71 398.87,121.96 400.52,122.21 402.17,122.46 403.82,122.71 405.47,122.96 407.12,123.21 408.77,123.47 410.42,123.72 412.07,123.98 413.72,124.24 415.37,124.50 417.03,124.76 418.68,125.02 420.33,125.28 421.98,125.54 423.63,125.80 425.27,126.07 426.92,126.34 428.57,126.60 430.22,126.87 431.87,127.14 433.52,127.41 435.17,127.69 436.82,127.96 438.47,128.24 440.12,128.51 441.77,128.79 443.42,129.07 445.06,129.35 446.71,129.63 448.36,129.91 450.01,130.20 451.66,130.48 453.30,130.77 454.95,131.06 456.60,131.35 458.25,131.64 459.90,131.93 461.54,132.22 463.19,132.52 464.84,132.81 466.48,133.11 468.13,133.41 469.78,133.71 471.43,134.01 473.07,134.31 474.72,134.62 476.37,134.92 478.01,135.23 479.66,135.54 481.30,135.85 482.95,136.16 484.60,136.47 486.24,136.79 487.89,137.10 489.53,137.42 491.18,137.74 492.82,138.06 494.47,138.38 496.11,138.71 497.76,139.03 499.40,139.36 501.05,139.69 502.69,140.02 504.34,140.35 505.98,140.68 507.63,141.02 509.27,141.35 510.92,141.69 512.56,142.03 514.20,142.37 515.85,142.72 517.49,143.06 519.14,143.41 520.78,143.76 522.42,144.11 524.06,144.46 525.71,144.82 527.35,145.18 528.99,145.54 530.63,145.91 532.27,146.28 533.91,146.65 535.54,147.03 537.18,147.41 538.82,147.80 540.45,148.19 542.09,148.59 543.72,148.99 545.35,149.39 546.98,149.80 548.61,150.22 550.23,150.65 551.86,151.08 553.48,151.51 555.11,151.95 556.73,152.40 558.35,152.86 559.96,153.32 561.58,153.79 563.19,154.27 564.80,154.75 566.41,155.23 568.02,155.72 569.63,156.22 571.23,156.72 572.83,157.22 574.43,157.72 576.02,158.23 577.61,158.74 579.20,159.25 580.79,159.76 582.38,160.28 583.96,160.79 585.54,161.31 587.12,161.83 588.69,162.36 590.26,162.89 591.83,163.43 593.39,163.97 594.95,164.52 596.51,165.07 598.06,165.63 599.61,166.20 601.16,166.78 602.71,167.37 604.25,167.97 605.78,168.58 607.32,169.20 608.84,169.83 610.37,170.47 611.89,171.13 613.41,171.80 614.92,172.48 616.43,173.18 617.93,173.89 619.43,174.61 620.93,175.35 622.41,176.10 623.90,176.87 625.37,177.64 626.84,178.43 628.31,179.24 629.77,180.06 631.22,180.89 632.66,181.73 634.10,182.59 635.53,183.45 636.95,184.34 638.36,185.23 639.76,186.14 641.16,187.06 642.54,188.00 643.92,188.94 645.29,189.90 646.65,190.87 647.99,191.86 649.33,192.86 650.66,193.87 651.98,194.89 653.28,195.92 654.58,196.97 655.86,198.03 657.13,199.10 658.39,200.19 659.64,201.29 660.88,202.39 662.10,203.52 663.31,204.65 664.51,205.80 665.70,206.95 666.87,208.12 668.03,209.30 669.18,210.50 670.32,211.70 671.44,212.92 672.55,214.15 673.65,215.39 674.73,216.65 675.80,217.91 676.86,219.19 677.90,220.47 678.93,221.77 679.95,223.08 680.95,224.41 681.94,225.74 682.92,227.09 683.88,228.44 684.83,229.81 685.76,231.19 686.69,232.57 687.60,233.97 688.49,235.38 689.38,236.80" stroke="#00f" stroke-width="2.4" stroke-opacity="0.4"/>
<path d="M85.35,83.57 87.01,83.78 88.68,83.99 90.34,84.20 92.01,84.41 93.67,84.62 95.33,84.82 97.00,85.03 98.66,85.23 100.33,85.44 101.99,85.64 103.66,85.85 105.32,86.05 106.99,86.26 108.65,86.46 110.31,86.66 111.98,86.86 113.64,87.06 115.31,87.26 116.97,87.46 118.63,87.66 120.30,87.86 121.96,88.06 123.63,88.26 125.29,88.46 126.95,88.65 128.62,88.85 130.28,89.05 131.94,89.25 133.61,89.44 135.27,89.64 136.93,89.83 138.60,90.03 140.26,90.22 141.92,90.42 143.59,90.61 145.25,90.80 146.91,91.00 148.58,91.19 150.24,91.38 151.90,91.57 153.56,91.77 155.23,91.96 156.89,92.15 158.55,92.34 160.21,92.53 161.88,92.72 163.54,92.91 165.20,93.10 166.86,93.29 168.53,93.48 170.19,93.67 171.85,93.86 173.51,94.05 175.17,94.24 176.84,94.43 178.50,94.62 180.16,94.81 181.82,94.99 183.48,95.18 185.14,95.37 186.81,95.56 188.47,95.75 190.13,95.94 191.79,96.12 193.45,96.31 195.11,96.50 196.77,96.69 198.43,96.88 200.10,97.06 201.76,97.25 203.42,97.44 205.08,97.63 206.74,97.81 208.40,98.00 210.06,98.19 211.72,98.38 213.38,98.57 215.04,98.75 216.70,98.94 218.36,99.13 220.02,99.32 221.68,99.51 223.34,99.69 225.00,99.88 226.66,100.07 228.32,100.26 229.98,100.45 231.64,100.64 233.30,100.83 234.96,101.01 236.62,101.20 238.28,101.39 239.94,101.58 241.60,101.77 243.26,101.96 244.92,102.15 246.58,102.34 248.24,102.53 249.89,102.72 251.55,102.92 253.21,103.11 254.87,103.30 256.53,103.49 258.19,103.68 259.85,103.88 261.50,104.07 263.16,104.26 264.82,104.45 266.48,104.65 268.14,104.84 269.80,105.04 271.45,105.23 273.11,105.43 274.77,105.62 276.43,105.82 278.08,106.01 279.74,106.21 281.40,106.41 283.06,106.60 284.71,106.80 286.37,107.00 288.03,107.20 289.69,107.40 291.34,107.60 293.00,107.80 294.66,108.00 296.31,108.20 297.97,108.40 299.63,108.60 301.28,108.81 302.94,109.01 304.60,109.21 306.25,109.42 307.91,109.62 309.57,109.83 311.22,110.03 312.88,110.24 314.53,110.44 316.19,110.65 317.84,110.86 319.50,111.07 321.16,111.28 322.81,111.49 324.47,111.70 326.12,111.91 327.78,112.12 329.43,112.33 331.09,112.55 332.74,112.76 334.40,112.97 336.05,113.19 337.71,113.40 339.36,113.62 341.02,113.84 342.67,114.06 344.32,114.27 345.98,114.49 347.63,114.71 349.29,114.94 350.94,115.16 352.59,115.38 354.25,115.60 355.90,115.83 357.56,116.05 359.21,116.28 360.86,116.50 362.52,116.73 364.17,116.96 365.82,117.19 367.48,117.42 369.13,117.65 370.78,117.88 372.43,118.11 374.09,118.35 375.74,118.58 377.39,118.82 379.05,119.05 380.70,119.29 382.35,119.53 384.00,119.77 385.65,120.01 387.31,120.25 388.96,120.49 390.61,120.73 392.26,120.97 393.91,121.22 395.56,121.46 397.22,121.71 398.87,121.96 400.52,122.21 402.17,122.46 403.82,122.71 405.47,122.96 407.12,123.21 408.77,123.47 410.42,123.72 412.07,123.98 413.72,124.24 415.37,124.50 417.03,124.76 418.68,125.02 420.33,125.28 421.98,125.54 423.63,125.80 425.27,126.07 426.92,126.34 428.57,126.60 430.22,126.87 431.87,127.14 433.52,127.41 435.17,127.69 436.82,127.96 438.47,128.24 440.12,128.51 441.77,128.79 443.42,129.07 445.06,129.35 446.71,129.63 448.36,129.91 450.01,130.20 451.66,130.48 453.30,130.77 454.95,131.06 456.60,131.35 458.25,131.64 459.90,131.93 461.54,132.22 463.19,132.52 464.84,132.81 466.48,133.11 468.13,133.41 469.78,133.71 471.43,134.01 473.07,134.31 474.72,134.62 476.37,134.92 478.01,135.23 479.66,135.54 481.30,135.85 482.95,136.16 484.60,136.47 486.24,136.79 487.89,137.10 489.53,137.42 491.18,137.74 492.82,138.06 494.47,138.38 496.11,138.71 497.76,139.03 499.40,139.36 501.05,139.69 502.69,140.02 504.34,140.35 505.98,140.68 507.63,141.02 509.27,141.35 510.92,141.69 512.56,142.03 514.20,142.37 515.85,142.72 517.49,143.06 519.14,143.41 520.78,143.76 522.42,144.11 524.06,144.46 525.71,144.82 527.35,145.18 528.99,145.54 530.63,145.91 532.27,146.28 533.91,146.65 535.54,147.03 537.18,147.41 538.82,147.80 540.45,148.19 542.09,148.59 543.72,148.99 545.35,149.39 546.98,149.80 548.61,150.22 550.23,150.65 551.86,151.08 553.48,151.51 555.11,151.95 556.73,152.40 558.35,152.86 559.96,153.32 561.58,153.79 563.19,154.27 564.80,154.75 566.41,155.23 568.02,155.72 569.63,156.22 571.23,156.72 572.83,157.22 574.43,157.72 576.02,158.23 577.61,158.74 579.20,159.25 580.79,159.76 582.38,160.28 583.96,160.79 585.54,161.31 587.12,161.83 588.69,162.36 590.26,162.89 591.83,163.43 593.39,163.97 594.95,164.52 596.51,165.07 598.06,165.63 599.61,166.20 601.16,166.78 602.71,167.37 604.25,167.97 605.78,168.58 607.32,169.20 608.84,169.83 610.37,170.47 611.89,171.13 613.41,171.80 614.92,172.48 616.43,173.18 617.93,173.89 619.43,174.61 620.93,175.35 622.41,176.10 623.90,176.87 625.37,177.64 626.84,178.43 628.31,179.24 629.77,180.06 631.22,180.89 632.66,181.73 634.10,182.59 635.53,183.45 636.95,184.34 638.36,185.23 639.76,186.14 641.16,187.06 642.54,188.00 643.92,188.94 645.29,189.90 646.65,190.87 647.99,191.86 649.33,192.86 650.66,193.87 651.98,194.89 653.28,195.92 654.58,196.97 655.86,198.03 657.13,199.10 658.39,200.19 659.64,201.29 660.88,202.39 662.10,203.52 663.31,204.65 664.51,205.80 665.70,206.95 666.87,208.12 668.03,209.30 669.18,210.50 670.32,211.70 671.44,212.92 672.55,214.15 673.65,215.39 674.73,216.65 675.80,217.91 676.86,219.19 677.90,220.47 678.93,221.77 679.95,223.08 680.95,224.41 681.94,225.74 682.92,227.09 683.88,228.44 684.83,229.81 685.76,231.19 686.69,232.57 687.60,233.97 688.49,235.38 689.38,236.80 690.25,238.22 691.11,239.66 691.95,241.10 692.78,242.55 693.60,244.01 694.41,245.48 695.21,246.96 695.99,248.45 696.77,249.94 697.53,251.44 698.28,252.94 699.01,254.46 699.74,255.98 700.46,257.50 701.16,259.04 701.85,260.58 702.53,262.12 703.20,263.67 703.86,265.22 704.51,266.78 705.15,268.35 705.78,269.92 706.39,271.49 707.00,273.07 707.60,274.65 708.18,276.23 708.76,277.82 709.33,279.41 709.88,281.01 710.43,282.60 710.97,284.20 711.50,285.80 712.02,287.41 712.53,289.01 713.03,290.62 713.52,292.23 714.00,293.84 714.48,295.45 714.94,297.06 715.40,298.68 715.85,300.29 716.28,301.91 716.72,303.53 717.14,305.15 717.55,306.77 717.96,308.39 718.36,310.02 718.75,311.64 719.14,313.27 719.51,314.90 719.88,316.53 720.24,318.16 720.60,319.79 720.94,321.42 721.28,323.06 721.62,324.69 721.94,326.33 722.26,327.97 722.58,329.61 722.88,331.25 723.18,332.89 723.48,334.53 723.77,336.17 724.05,337.82 724.32,339.46 724.59,341.11 724.86,342.75 725.12,344.40 725.37,346.05 725.62,347.70 725.86,349.35 726.10,351.00 726.33,352.65 726.56,354.31 726.78,355.96 727.00,357.61 727.21,359.27 727.42,360.92 727.62,362.58 727.82,364.24 728.02,365.90 728.21,367.55 728.39,369.21 728.58,370.87 728.76,372.53 728.93,374.19 729.10,375.85 729.27,377.52 729.44,379.18 729.60,380.84 729.76,382.50 729.91,384.17 730.06,385.83 730.21,387.50 730.36,389.16 730.50,390.83 730.65,392.49 730.79,394.16 730.92,395.82 731.06,397.49 731.19,399.16 731.32,400.82 731.45,402.49 731.57,404.16 731.70,405.83 731.82,407.49 731.94,409.16 732.06,410.83 732.18,412.50 732.30,414.16 732.42,415.83 732.53,417.50 732.65,419.17 732.76,420.84 732.88,422.51 732.99,424.17 733.10,425.84 733.21,427.51 733.32,429.18 733.43,430.85 733.53,432.52 733.64,434.18 733.74,435.85 733.85,437.52 733.95,439.19 734.05,440.86 734.15,442.53 734.25,444.20 734.35,445.87 734.45,447.53 734.55,449.20 734.65,450.87 734.74,452.54 734.84,454.21 734.93,455.88 735.02,457.55 735.12,459.22 735.21,460.89 735.30,462.56 735.39,464.23 735.48,465.89 735.56,467.56 735.65,469.23 735.74,470.90 735.82,472.57 735.91,474.24 735.99,475.91 736.07,477.58 736.15,479.25 736.23,480.92 736.31,482.59 736.39,484.26 736.47,485.93 736.55,487.60 736.63,489.27 736.70,490.94 736.78,492.61 736.85,494.28 736.93,495.95 737.00,497.62 737.07,499.29 737.14,500.96 737.21,502.63 737.28,504.30 737.35,505.97 737.42,507.64 737.49,509.31 737.56,510.98 737.62,512.65 737.69,514.32 737.75,515.99 737.82,517.66 737.88,519.33 737.94,521.00 738.01,522.67 738.07,524.34 738.13,526.01 738.19,527.68 738.25,529.35 738.31,531.02 738.36,532.69 738.42,534.36 738.48,536.04 738.54,537.71 738.59,539.38 738.65,541.05 738.70,542.72 738.75,544.39 738.81,546.06 738.86,547.73 738.91,549.40 738.96,551.07 739.01,552.74 739.06,554.41 739.11,556.08 739.16,557.76 739.21,559.43 739.25,561.10 739.30,562.77 739.35,564.44 739.39,566.11 739.44,567.78 739.48,569.45 739.53,571.12 739.57,572.79 739.61,574.47 739.66,576.14 739.70,577.81 739.74,579.48 739.78,581.15 739.82,582.82 739.86,584.49 739.90,586.16 739.94,587.83 739.98,589.51 740.02,591.18 740.05,592.85 740.09,594.52 740.13,596.19 740.16,597.86 740.20,599.53 740.23,601.21 740.27,602.88 740.30,604.55 740.34,606.22 740.37,607.89 740.40,609.56 740.43,611.23 740.47,612.91 740.50,614.58 740.53,616.25 740.56,617.92 740.59,619.59 740.62,621.26 740.65,622.93 740.68,624.61 740.71,626.28 740.74,627.95 740.76,629.62 740.79,631.29 740.82,632.96 740.85,634.63 740.87,636.31 740.90,637.98 740.93,639.65 740.95,641.32 740.98,642.99 741.00,644.66 741.03,646.34 741.05,648.01 741.07,649.68 741.10,651.35 741.12,653.02 741.15,654.69 741.17,656.37 741.19,658.04 741.21,659.71 741.23,661.38 741.26,663.05 741.28,664.72 741.30,666.39 741.32,668.07 741.34,669.74 741.36,671.41 741.38,673.08 741.40,674.75 741.42,676.42 741.44,678.10 741.46,679.77 741.48,681.44 741.50,683.11 741.52,684.78 741.54,686.45 741.55,688.13 741.57,689.80 741.59,691.47 741.61,693.14 741.63,694.81 741.64,696.48 741.66,698.16 741.68,699.83 741.69,701.50 741.71,703.17 741.73,704.84 741.74,706.51 741.76,708.19 741.78,709.86 741.79,711.53 741.81,713.20 741.82,714.87 741.84,716.54 741.86,718.21 741.87,719.89 741.89,721.56 741.90,723.23 741.92,724.90 741.93,726.57 741.95,728.24 741.96,729.91 741.98,731.59 741.99,733.26 742.01,734.93 742.02,736.60 742.04,738.27 742.05,739.94 742.07,741.61 742.08,743.29 742.10,744.96 742.11,746.63 742.13,748.30 742.14,749.97 742.16,751.64 742.17,753.31 742.19,754.99 742.20,756.66 742.22,758.33 742.23,760.00" stroke="#00f" stroke-width="1.55" stroke-linecap="round"/>
<path d="M743.3,83.7 741.6,83.7 740.0,83.8 738.4,83.9 736.8,84.0 735.1,84.0 733.5,84.1 731.9,84.2 730.3,84.3 728.6,84.3 727.0,84.4 725.4,84.5 723.8,84.6 722.1,84.7 720.5,84.8 718.9,85.0 717.2,85.1 715.6,85.3 714.0,85.4 712.4,85.6 710.7,85.7 709.1,85.9 707.5,86.0 705.9,86.2 704.2,86.3 702.6,86.3 700.9,86.4 699.3,86.4 697.7,86.4 696.0,86.4 694.4,86.5 692.8,86.7 691.1,86.9 689.5,87.2 687.9,87.5 686.3,87.7 684.6,88.0 683.0,88.2 681.4,88.3 679.7,88.5 678.1,88.5 676.5,88.6 674.8,88.6 673.2,88.7 671.5,88.7 669.9,88.7 668.2,88.7 666.6,88.7 664.9,88.6 663.3,88.6 661.6,88.6 660.0,88.7 658.3,88.7 656.7,88.8 655.0,88.8 653.4,88.8 651.7,88.8 650.1,88.8 648.4,88.9 646.8,88.9 645.1,89.1 643.5,89.3 641.9,89.5 640.2,89.8 638.6,90.0 637.0,90.2 635.3,90.3 633.7,90.4 632.1,90.4 630.4,90.4 628.7,90.3 627.1,90.3 625.4,90.3 623.8,90.3 622.1,90.2 620.5,90.2 618.8,90.2 617.2,90.2 615.5,90.2 613.9,90.3 612.3,90.4 610.6,90.6 609.0,90.7 607.4,90.9 605.7,91.0 604.1,91.1 602.5,91.2 600.8,91.2 599.2,91.3 597.5,91.5 595.9,91.7 594.3,91.9 592.7,92.1 591.0,92.4 589.4,92.5 587.8,92.6 586.1,92.7 584.5,92.7 582.8,92.7 581.2,92.7 579.5,92.8 577.9,92.9 576.3,93.0 574.6,93.2 573.0,93.3 571.4,93.5 569.7,93.7 568.1,93.9 566.5,94.2 564.9,94.6 563.2,94.9 561.6,95.2 560.0,95.5 558.3,95.7 556.7,95.9 555.1,95.9 553.4,95.9 551.8,95.8 550.1,95.7 548.5,95.7 546.8,95.7 545.2,95.8 543.5,95.8 541.9,95.9 540.2,96.0 538.6,96.0 536.9,95.9 535.3,95.9 533.6,95.9 532.0,95.9 530.3,96.0 528.7,96.1 527.1,96.2 525.4,96.3 523.8,96.4 522.1,96.5 520.5,96.6 518.8,96.7 517.2,96.9 515.6,97.0 513.9,97.2 512.3,97.3 510.6,97.4 509.0,97.4 507.3,97.3 505.6,97.1 504.0,97.0 502.3,96.8 500.7,96.8 499.0,96.8 497.4,97.0 495.7,97.2 494.1,97.4 492.5,97.7 490.8,98.0 489.2,98.2 487.6,98.4 485.9,98.6 484.3,98.8 482.6,98.9 481.0,99.1 479.4,99.3 477.7,99.5 476.1,99.5 474.4,99.6 472.8,99.6 471.1,99.6 469.5,99.7 467.8,99.8 466.2,99.9 464.5,100.0 462.9,100.1 461.2,100.2 459.6,100.3 457.9,100.3 456.2,100.3 454.6,100.3 452.9,100.4 451.3,100.6 449.7,100.9 448.1,101.3 446.5,101.8 444.8,102.3 443.2,102.8 441.6,103.1 440.0,103.5 438.4,103.8 436.7,104.0 435.1,104.2 433.5,104.4 431.8,104.6 430.2,104.8 428.5,104.9 426.9,105.1 425.2,105.2 423.6,105.3 421.9,105.5 420.3,105.7 418.7,106.0 417.1,106.4 415.5,106.9 413.9,107.3 412.3,107.7 410.6,108.0 409.0,108.2 407.4,108.4 405.7,108.6 404.1,108.9 402.5,109.2 400.9,109.6 399.3,110.0 397.7,110.5 396.0,110.8 394.4,111.1 392.8,111.2 391.1,111.4 389.4,111.4 387.8,111.5 386.1,111.6 384.4,111.7 382.8,111.9 381.2,112.1 379.5,112.3 377.9,112.6 376.3,112.9 374.6,113.3 373.0,113.7 371.5,114.3 369.9,114.9 368.4,115.6 366.8,116.3 365.3,116.9 363.7,117.4 362.1,117.8 360.5,118.0 358.8,118.3 357.2,118.5 355.6,118.8 353.9,119.1 352.3,119.4 350.7,119.8 349.1,120.2 347.5,120.5 345.9,120.8 344.3,121.1 342.6,121.3 341.0,121.5 339.4,121.8 337.8,122.1 336.1,122.2 334.5,122.4 332.8,122.5 331.2,122.6 329.5,122.8 327.8,122.9 326.2,123.2 324.6,123.5 323.0,123.9 321.4,124.3 319.8,124.7 318.1,125.0 316.5,125.3 314.8,125.4 313.1,125.5 311.4,125.5 309.6,125.5 307.9,125.6 306.2,125.8 304.6,126.1 302.9,126.5 301.3,126.9 299.7,127.4 298.0,127.9 296.4,128.4 294.8,128.9 293.1,129.4 291.5,130.0 289.9,130.5 288.3,131.1 286.7,131.7 285.1,132.3 283.4,132.8 281.8,133.2 280.1,133.7 278.4,134.1 276.8,134.5 275.1,135.0 273.5,135.7 272.0,136.4 270.4,137.0 268.8,137.6 267.1,138.2 265.4,138.6 263.8,139.0 262.1,139.5 260.4,139.9 258.8,140.5 257.2,141.3 255.7,142.1 254.3,143.1 252.8,144.0 251.4,145.0 250.0,146.0 248.5,146.9 247.1,147.8 245.6,148.7 244.1,149.6 242.7,150.5 241.3,151.4 239.8,152.3 238.3,153.1 236.8,153.9 235.2,154.6 233.7,155.4 232.2,156.2 230.7,157.0 229.3,158.0 227.9,159.0 226.6,160.2 225.2,161.3 223.9,162.4 222.5,163.4 221.1,164.4 219.7,165.4 218.3,166.3 216.9,167.3 215.5,168.4 214.2,169.5 212.9,170.7 211.7,172.0 210.4,173.2 209.1,174.3 207.8,175.4 206.4,176.5 205.0,177.5 203.6,178.5 202.2,179.5 200.8,180.5 199.3,181.6 197.9,182.6 196.5,183.6 195.0,184.7 193.6,185.7 192.3,186.9 191.1,188.1 190.0,189.5 189.0,191.0 188.0,192.5 187.2,194.0 186.3,195.6 185.3,197.0 184.3,198.5 183.3,199.8 182.2,201.2 181.1,202.5 180.0,203.9 179.0,205.3 178.0,206.7 177.1,208.2 176.1,209.6 175.2,211.0 174.2,212.4 173.1,213.8 172.1,215.2 171.1,216.6 170.2,218.0 169.3,219.5 168.4,220.9 167.6,222.4 166.8,223.9 165.9,225.4 165.1,226.8 164.3,228.3 163.6,229.9 162.9,231.4 162.3,233.0 161.8,234.7 161.3,236.3 160.7,237.9 160.1,239.5 159.4,241.0 158.6,242.5 157.8,243.9 156.9,245.4 156.0,246.8 155.3,248.3 154.6,249.9 153.9,251.4 153.3,253.0 152.8,254.6 152.2,256.2 151.7,257.8 151.1,259.4 150.6,261.0 150.2,262.6 149.8,264.3 149.4,265.9 149.0,267.6 148.6,269.2 148.1,270.9 147.7,272.5 147.3,274.1 146.9,275.8 146.5,277.4 146.1,279.0 145.8,280.7 145.5,282.4 145.1,284.0 144.7,285.6 144.3,287.2 143.7,288.8 143.2,290.4 142.6,292.0 142.0,293.5 141.4,295.1 141.0,296.7 140.5,298.3 140.2,300.0 139.9,301.6 139.6,303.2 139.3,304.9 139.0,306.5 138.7,308.2 138.3,309.8 138.0,311.4 137.7,313.1 137.4,314.7 137.1,316.3 136.7,318.0 136.3,319.6 135.8,321.1 135.4,322.7 134.9,324.3 134.5,325.9 134.1,327.5 133.7,329.1 133.4,330.8 133.1,332.4 132.8,334.0 132.4,335.6 132.1,337.2 131.7,338.8 131.3,340.4 130.9,342.0 130.6,343.6 130.3,345.3 130.1,346.9 129.8,348.5 129.6,350.2 129.4,351.8 129.1,353.4 128.8,355.0 128.4,356.6 128.1,358.2 127.7,359.8 127.3,361.4 126.9,363.0 126.5,364.6 126.0,366.2 125.6,367.8 125.1,369.4 124.7,370.9 124.3,372.5 123.9,374.1 123.6,375.8 123.4,377.4 123.2,379.0 123.0,380.6 122.8,382.3 122.5,383.9 122.3,385.5 122.0,387.1 121.7,388.7 121.4,390.4 121.2,392.0 121.0,393.6 120.7,395.2 120.5,396.9 120.3,398.5 120.0,400.1 119.7,401.7 119.4,403.3 119.2,404.9 118.9,406.5 118.6,408.2 118.3,409.8 118.1,411.4 117.8,413.0 117.5,414.6 117.2,416.2 117.0,417.9 116.7,419.5 116.5,421.1 116.4,422.7 116.2,424.4 116.1,426.0 116.0,427.7 115.9,429.3 115.7,430.9 115.5,432.5 115.3,434.2 115.0,435.8 114.7,437.4 114.5,439.0 114.2,440.6 114.0,442.3 113.7,443.9 113.5,445.5 113.3,447.1 113.1,448.7 112.9,450.4 112.7,452.0 112.5,453.6 112.4,455.3 112.2,456.9 112.1,458.5 112.0,460.2 111.8,461.8 111.7,463.4 111.5,465.1 111.3,466.7 111.2,468.3 111.1,470.0 111.0,471.6 110.9,473.2 110.8,474.9 110.6,476.5 110.5,478.1 110.3,479.8 110.1,481.4 109.8,483.0 109.6,484.6 109.3,486.3 109.1,487.9 108.9,489.5 108.7,491.2 108.6,492.8 108.4,494.4 108.3,496.1 108.1,497.7 108.0,499.3 107.9,501.0 107.8,502.6 107.7,504.2 107.6,505.9 107.5,507.5 107.3,509.2 107.2,510.8 107.0,512.4 106.8,514.1 106.6,515.7 106.4,517.3 106.3,519.0 106.1,520.6 106.0,522.2 105.9,523.9 105.8,525.5 105.6,527.1 105.5,528.8 105.3,530.4 105.2,532.0 105.0,533.7 104.9,535.3 104.8,537.0 104.7,538.6 104.6,540.2 104.6,541.9 104.5,543.5 104.4,545.2 104.3,546.8 104.3,548.5 104.2,550.1 104.1,551.7 104.0,553.4 103.9,555.0 103.7,556.7 103.6,558.3 103.4,559.9 103.2,561.6 103.0,563.2 102.9,564.8 102.7,566.5 102.6,568.1 102.5,569.8 102.4,571.4 102.3,573.1 102.3,574.7 102.2,576.3 102.1,578.0 102.0,579.6 101.9,581.3 101.8,582.9 101.7,584.5 101.6,586.2 101.5,587.8 101.5,589.5 101.4,591.1 101.3,592.8 101.2,594.4 101.1,596.0 101.0,597.7 100.9,599.3 100.8,601.0 100.7,602.6 100.6,604.3 100.5,605.9 100.3,607.5 100.2,609.2 100.1,610.8 100.0,612.5 99.9,614.1 99.8,615.7 99.7,617.4 99.7,619.0 99.7,620.7 99.6,622.3 99.6,624.0 99.5,625.6 99.4,627.3 99.3,628.9 99.2,630.5 99.1,632.2 99.0,633.8 98.9,635.5 98.8,637.1 98.7,638.7 98.6,640.4 98.4,642.0 98.3,643.7 98.2,645.3 98.1,646.9 98.0,648.6 98.0,650.2 97.9,651.9 97.8,653.5 97.8,655.2 97.7,656.8 97.6,658.4 97.5,660.1 97.4,661.7 97.4,663.4 97.3,665.0 97.3,666.6 97.3,668.3 97.2,669.9 97.2,671.6 97.1,673.2 97.0,674.9 96.9,676.5 96.8,678.1 96.7,679.8 96.6,681.4 96.5,683.0 96.4,684.7 96.3,686.3 96.3,688.0 96.2,689.6 96.1,691.2 96.0,692.9 96.0,694.5 95.9,696.2 95.9,697.8 95.8,699.4 95.8,701.1 95.7,702.7 95.6,704.3 95.6,706.0 95.5,707.6 95.4,709.3 95.3,710.9 95.2,712.5 95.2,714.2 95.1,715.8 95.1,717.4 95.0,719.1 94.9,720.7 94.8,722.3 94.8,724.0 94.7,725.6 94.6,727.2 94.5,728.9 94.4,730.5 94.4,732.1 94.3,733.8 94.2,735.4 94.2,737.0 94.1,738.7 94.1,740.3 94.1,741.9 94.0,743.6 94.0,745.2 93.9,746.8 93.9,748.5 93.8,750.1 93.7,751.7 93.7,753.4 93.6,755.0 93.5,756.6 93.4,758.3 93.3,759.9" stroke="#f00" stroke-width="0.8" stroke-dasharray="0.75 2.25" stroke-linecap="round"/>
<path d="M743.3,83.7 741.7,83.8 740.0,83.9 738.4,84.0 736.8,84.1 735.2,84.3 733.5,84.4 731.9,84.5 730.3,84.6 728.7,84.8 727.1,85.0 725.4,85.2 723.8,85.4 722.2,85.6 720.6,85.8 719.0,85.9 717.3,86.0 715.7,86.0 714.1,86.0 712.4,86.0 710.8,86.0 709.1,86.1 707.5,86.3 705.9,86.5 704.3,86.8 702.7,87.0 701.0,87.2 699.4,87.2 697.8,87.3 696.1,87.3 694.5,87.3 692.8,87.4 691.2,87.5 689.6,87.6 687.9,87.8 686.3,87.9 684.6,88.0 683.0,88.1 681.4,88.3 679.8,88.5 678.1,88.7 676.5,89.0 674.9,89.3 673.3,89.5 671.6,89.7 670.0,89.7 668.3,89.7 666.7,89.6 665.0,89.5 663.3,89.5 661.7,89.5 660.1,89.7 658.4,90.0 656.8,90.3 655.2,90.6 653.6,90.9 651.9,91.0 650.3,91.0 648.6,91.0 647.0,90.9 645.3,90.9 643.7,90.9 642.0,90.9 640.4,90.9 638.7,90.8 637.0,90.8 635.4,90.7 633.7,90.6 632.1,90.6 630.4,90.6 628.8,90.8 627.2,90.9 625.5,91.1 623.9,91.2 622.2,91.3 620.6,91.2 618.9,91.0 617.2,90.8 615.6,90.7 613.9,90.7 612.3,90.8 610.7,91.0 609.1,91.4 607.4,91.7 605.8,92.0 604.2,92.2 602.6,92.4 600.9,92.4 599.3,92.4 597.6,92.5 596.0,92.6 594.4,92.7 592.7,92.8 591.1,92.9 589.4,93.0 587.8,93.0 586.1,93.0 584.5,93.1 582.9,93.2 581.2,93.5 579.6,93.8 578.0,94.1 576.4,94.4 574.7,94.6 573.1,94.6 571.4,94.5 569.8,94.3 568.1,94.1 566.5,94.0 564.8,94.0 563.2,94.1 561.6,94.4 559.9,94.7 558.3,95.0 556.7,95.3 555.0,95.4 553.4,95.5 551.7,95.5 550.1,95.5 548.5,95.6 546.8,95.7 545.2,95.9 543.5,96.1 541.9,96.2 540.3,96.4 538.6,96.5 537.0,96.7 535.4,96.9 533.7,97.3 532.1,97.7 530.5,98.2 528.9,98.7 527.3,99.1 525.6,99.4 524.0,99.5 522.3,99.4 520.7,99.2 519.0,99.0 517.3,99.0 515.7,99.0 514.1,99.2 512.4,99.5 510.8,99.9 509.2,100.1 507.5,100.3 505.9,100.4 504.2,100.4 502.6,100.4 500.9,100.3 499.3,100.3 497.6,100.4 496.0,100.4 494.3,100.5 492.7,100.5 491.0,100.4 489.4,100.4 487.7,100.4 486.1,100.5 484.5,100.8 482.8,101.2 481.2,101.6 479.6,101.9 478.0,102.2 476.3,102.3 474.7,102.2 473.0,102.0 471.3,101.8 469.6,101.6 468.0,101.7 466.4,101.8 464.7,102.2 463.1,102.6 461.5,103.1 459.9,103.5 458.3,103.8 456.6,103.9 455.0,104.0 453.3,104.1 451.7,104.2 450.0,104.3 448.4,104.3 446.7,104.4 445.1,104.4 443.4,104.3 441.7,104.1 440.1,104.0 438.4,103.9 436.7,104.0 435.1,104.2 433.5,104.5 431.9,104.9 430.2,105.1 428.6,105.2 426.9,105.2 425.2,105.0 423.5,104.7 421.8,104.4 420.1,104.3 418.5,104.4 416.8,104.7 415.2,105.1 413.6,105.7 412.0,106.2 410.4,106.6 408.8,107.0 407.2,107.2 405.5,107.4 403.9,107.7 402.3,107.9 400.6,108.2 399.0,108.5 397.4,108.8 395.7,108.9 394.1,109.1 392.4,109.2 390.8,109.3 389.1,109.6 387.5,110.1 385.9,110.7 384.4,111.4 382.8,112.1 381.3,112.7 379.7,113.1 378.0,113.3 376.3,113.4 374.7,113.3 373.0,113.3 371.3,113.5 369.7,113.8 368.1,114.3 366.5,114.9 365.0,115.5 363.4,116.0 361.8,116.5 360.2,116.8 358.6,117.1 356.9,117.3 355.3,117.6 353.7,118.0 352.1,118.4 350.5,118.8 348.9,119.1 347.3,119.4 345.6,119.7 344.0,120.0 342.4,120.4 340.9,121.0 339.4,121.8 337.9,122.7 336.4,123.5 334.9,124.1 333.3,124.6 331.7,124.9 330.0,125.0 328.3,125.0 326.6,124.9 324.9,124.9 323.2,125.0 321.6,125.3 320.0,125.8 318.5,126.3 316.9,126.8 315.3,127.2 313.7,127.6 312.0,127.8 310.3,128.1 308.7,128.3 307.0,128.6 305.4,128.9 303.7,129.2 302.0,129.4 300.3,129.6 298.6,129.7 296.8,129.8 295.1,130.0 293.4,130.3 291.8,130.9 290.2,131.5 288.7,132.3 287.2,133.1 285.6,133.8 284.0,134.4 282.3,134.7 280.5,134.8 278.8,134.9 277.0,135.1 275.3,135.5 273.7,136.1 272.2,137.0 270.7,137.9 269.3,139.0 267.9,140.0 266.4,141.0 264.9,141.8 263.4,142.7 261.9,143.5 260.5,144.4 259.0,145.3 257.6,146.2 256.1,147.0 254.6,147.8 253.0,148.4 251.4,149.0 249.8,149.6 248.2,150.2 246.7,151.0 245.3,151.9 244.0,153.1 242.7,154.2 241.4,155.4 240.0,156.3 238.5,157.1 236.9,157.7 235.3,158.2 233.6,158.6 232.0,159.2 230.4,160.0 229.0,160.9 227.7,162.0 226.5,163.2 225.2,164.4 224.0,165.6 222.7,166.8 221.4,167.9 220.1,168.9 218.7,170.0 217.5,171.1 216.2,172.3 214.9,173.4 213.6,174.5 212.3,175.5 210.9,176.4 209.4,177.4 208.0,178.4 206.7,179.5 205.6,180.7 204.6,182.2 203.7,183.7 202.8,185.3 201.9,186.8 200.8,188.1 199.6,189.3 198.3,190.3 196.8,191.3 195.4,192.3 194.1,193.4 192.9,194.6 191.8,195.9 190.8,197.3 189.8,198.7 188.8,200.0 187.8,201.4 186.7,202.6 185.5,203.9 184.4,205.1 183.2,206.4 182.2,207.7 181.1,209.0 180.0,210.3 178.8,211.5 177.6,212.7 176.4,213.9 175.2,215.1 174.1,216.4 173.1,217.9 172.4,219.4 171.8,221.0 171.3,222.7 170.8,224.3 170.2,225.9 169.5,227.4 168.7,228.9 167.7,230.2 166.7,231.6 165.7,232.9 164.8,234.4 164.1,235.9 163.5,237.4 162.9,239.0 162.3,240.5 161.7,242.1 161.0,243.6 160.3,245.1 159.5,246.6 158.8,248.1 158.1,249.6 157.5,251.2 156.8,252.7 156.1,254.2 155.4,255.7 154.5,257.2 153.7,258.6 152.8,260.1 152.1,261.6 151.5,263.2 151.0,264.8 150.6,266.4 150.3,268.1 149.9,269.7 149.4,271.4 148.8,272.9 148.1,274.4 147.3,275.9 146.5,277.4 145.8,278.9 145.2,280.5 144.7,282.1 144.3,283.7 144.0,285.4 143.6,287.0 143.2,288.7 142.9,290.3 142.5,291.9 142.1,293.6 141.8,295.2 141.5,296.9 141.3,298.5 141.0,300.2 140.6,301.8 140.1,303.4 139.6,305.0 139.1,306.6 138.6,308.2 138.2,309.8 137.9,311.4 137.7,313.1 137.5,314.7 137.3,316.4 137.1,318.1 136.7,319.7 136.2,321.3 135.7,322.8 135.1,324.4 134.5,325.9 133.9,327.5 133.5,329.1 133.2,330.7 132.9,332.3 132.6,333.9 132.3,335.6 132.0,337.2 131.6,338.8 131.3,340.4 131.0,342.0 130.8,343.7 130.5,345.3 130.3,346.9 130.0,348.6 129.6,350.2 129.2,351.8 128.7,353.3 128.3,354.9 127.9,356.5 127.6,358.1 127.4,359.8 127.3,361.4 127.2,363.1 127.1,364.7 126.9,366.4 126.7,368.0 126.3,369.6 125.9,371.2 125.5,372.8 125.1,374.4 124.8,376.0 124.6,377.6 124.3,379.2 124.1,380.9 123.9,382.5 123.7,384.1 123.4,385.7 123.1,387.3 122.8,388.9 122.5,390.6 122.3,392.2 122.0,393.8 121.7,395.4 121.4,397.0 121.0,398.6 120.5,400.2 120.1,401.8 119.7,403.4 119.3,405.0 119.1,406.6 118.9,408.2 118.8,409.9 118.7,411.5 118.6,413.1 118.5,414.8 118.2,416.4 117.9,418.0 117.6,419.6 117.3,421.2 117.0,422.8 116.8,424.5 116.6,426.1 116.5,427.7 116.4,429.4 116.2,431.0 116.0,432.6 115.8,434.2 115.7,435.9 115.5,437.5 115.3,439.1 115.2,440.8 115.0,442.4 114.9,444.0 114.6,445.6 114.4,447.3 114.0,448.9 113.7,450.5 113.5,452.1 113.2,453.7 113.1,455.3 113.0,457.0 112.9,458.6 112.8,460.3 112.7,461.9 112.5,463.5 112.3,465.1 112.0,466.8 111.7,468.4 111.4,470.0 111.2,471.6 111.0,473.2 110.8,474.9 110.6,476.5 110.5,478.1 110.3,479.8 110.2,481.4 110.0,483.0 109.9,484.7 109.8,486.3 109.7,488.0 109.6,489.6 109.5,491.2 109.4,492.9 109.3,494.5 109.1,496.1 108.8,497.8 108.6,499.4 108.5,501.0 108.4,502.7 108.3,504.3 108.3,505.9 108.3,507.6 108.2,509.2 108.1,510.9 108.0,512.5 107.8,514.1 107.6,515.8 107.3,517.4 107.1,519.0 106.9,520.7 106.8,522.3 106.6,523.9 106.5,525.6 106.3,527.2 106.2,528.8 106.0,530.5 105.9,532.1 105.8,533.7 105.7,535.4 105.6,537.0 105.5,538.7 105.4,540.3 105.2,541.9 105.0,543.6 104.8,545.2 104.6,546.8 104.4,548.5 104.2,550.1 104.1,551.7 104.1,553.4 104.0,555.0 104.0,556.7 104.0,558.3 103.9,560.0 103.8,561.6 103.6,563.2 103.4,564.9 103.3,566.5 103.2,568.2 103.1,569.8 103.0,571.4 102.9,573.1 102.8,574.7 102.7,576.4 102.6,578.0 102.5,579.7 102.4,581.3 102.3,582.9 102.2,584.6 102.2,586.2 102.1,587.9 102.0,589.5 101.8,591.1 101.6,592.8 101.4,594.4 101.2,596.1 101.0,597.7 100.9,599.3 100.8,601.0 100.7,602.6 100.7,604.3 100.6,605.9 100.6,607.6 100.5,609.2 100.3,610.8 100.2,612.5 100.1,614.1 99.9,615.8 99.8,617.4 99.8,619.0 99.7,620.7 99.6,622.3 99.5,624.0 99.5,625.6 99.4,627.3 99.3,628.9 99.2,630.5 99.2,632.2 99.2,633.8 99.1,635.5 99.1,637.1 99.0,638.8 98.9,640.4 98.7,642.0 98.6,643.7 98.5,645.3 98.4,647.0 98.3,648.6 98.3,650.2 98.2,651.9 98.2,653.5 98.2,655.2 98.1,656.8 98.0,658.5 97.9,660.1 97.8,661.7 97.7,663.4 97.6,665.0 97.4,666.7 97.4,668.3 97.3,669.9 97.2,671.6 97.1,673.2 97.0,674.8 96.9,676.5 96.8,678.1 96.8,679.8 96.7,681.4 96.7,683.0 96.6,684.7 96.6,686.3 96.5,688.0 96.4,689.6 96.3,691.2 96.2,692.9 96.1,694.5 96.0,696.2 96.0,697.8 96.0,699.4 96.0,701.1 96.0,702.7 95.9,704.4 95.9,706.0 95.8,707.6 95.7,709.3 95.6,710.9 95.5,712.5 95.4,714.2 95.4,715.8 95.3,717.4 95.2,719.1 95.1,720.7 95.0,722.4 95.0,724.0 94.9,725.6 94.8,727.3 94.8,728.9 94.7,730.5 94.7,732.2 94.6,733.8 94.5,735.4 94.4,737.1 94.3,738.7 94.2,740.3 94.1,742.0 94.0,743.6 93.9,745.2 93.8,746.8 93.8,748.5 93.8,750.1 93.8,751.7 93.7,753.4 93.6,755.0 93.6,756.6 93.5,758.3 93.4,759.9" stroke="#f00" stroke-width="0.8" stroke-dasharray="0.75 2.25" stroke-linecap="round"/>
<path d="M743.3,83.7 741.7,83.8 740.0,83.9 738.4,84.0 736.8,84.1 735.2,84.3 733.6,84.4 731.9,84.6 730.3,84.8 728.7,84.8 727.1,84.9 725.4,84.9 723.8,85.0 722.2,85.1 720.6,85.3 718.9,85.6 717.3,85.9 715.7,86.2 714.1,86.4 712.5,86.5 710.8,86.5 709.2,86.5 707.5,86.5 705.9,86.6 704.3,86.8 702.7,87.1 701.0,87.3 699.4,87.4 697.8,87.5 696.1,87.5 694.5,87.5 692.8,87.5 691.2,87.6 689.6,87.9 688.0,88.3 686.4,88.7 684.8,89.1 683.1,89.4 681.5,89.5 679.9,89.5 678.2,89.4 676.5,89.3 674.9,89.4 673.3,89.5 671.6,89.8 670.0,90.1 668.4,90.4 666.8,90.6 665.1,90.6 663.5,90.6 661.8,90.5 660.1,90.5 658.5,90.5 656.9,90.7 655.2,91.0 653.6,91.3 652.0,91.5 650.4,91.7 648.7,91.7 647.1,91.7 645.4,91.7 643.8,91.8 642.1,91.9 640.5,92.3 638.9,92.7 637.3,93.1 635.6,93.3 634.0,93.4 632.3,93.3 630.7,93.1 629.0,92.9 627.3,92.7 625.7,92.7 624.0,92.8 622.4,93.1 620.8,93.4 619.2,93.6 617.5,93.7 615.9,93.7 614.2,93.6 612.5,93.5 610.9,93.5 609.3,93.7 607.6,93.9 606.0,94.2 604.4,94.5 602.8,94.7 601.1,94.8 599.5,94.7 597.8,94.5 596.1,94.4 594.5,94.4 592.9,94.6 591.2,94.9 589.6,95.2 588.0,95.5 586.3,95.7 584.7,95.6 583.0,95.4 581.4,95.1 579.7,94.8 578.0,94.7 576.4,94.8 574.8,95.0 573.1,95.4 571.5,95.7 569.9,96.0 568.3,96.1 566.6,96.1 565.0,96.0 563.3,95.9 561.7,95.9 560.0,96.1 558.4,96.4 556.8,96.6 555.1,96.8 553.5,96.8 551.8,96.7 550.2,96.4 548.5,96.2 546.8,96.0 545.2,96.0 543.5,96.2 541.9,96.5 540.3,96.9 538.7,97.2 537.0,97.4 535.4,97.3 533.7,97.1 532.1,96.9 530.4,96.8 528.8,96.9 527.1,97.2 525.5,97.7 523.9,98.1 522.3,98.6 520.6,98.8 519.0,98.9 517.3,98.8 515.7,98.7 514.0,98.6 512.4,98.7 510.7,99.0 509.1,99.3 507.5,99.5 505.8,99.7 504.2,99.7 502.5,99.5 500.9,99.3 499.2,99.1 497.5,99.2 495.9,99.4 494.3,99.9 492.7,100.5 491.1,101.1 489.5,101.5 487.8,101.7 486.2,101.7 484.5,101.5 482.9,101.4 481.2,101.4 479.6,101.7 478.0,102.1 476.4,102.6 474.7,103.0 473.1,103.3 471.5,103.5 469.8,103.4 468.2,103.3 466.5,103.2 464.8,103.2 463.2,103.5 461.6,103.9 460.0,104.4 458.4,104.7 456.8,105.0 455.1,105.1 453.4,105.0 451.8,105.0 450.1,105.0 448.5,105.3 446.9,105.9 445.3,106.6 443.8,107.3 442.2,107.9 440.6,108.2 438.9,108.3 437.3,108.2 435.6,107.9 433.9,107.8 432.2,107.8 430.6,108.0 429.0,108.4 427.4,108.9 425.8,109.3 424.2,109.6 422.5,109.7 420.9,109.6 419.2,109.6 417.5,109.7 415.9,109.9 414.3,110.4 412.8,111.1 411.2,111.7 409.6,112.2 408.0,112.5 406.3,112.5 404.7,112.5 403.0,112.5 401.4,112.7 399.8,113.1 398.2,113.7 396.7,114.5 395.1,115.2 393.5,115.6 391.9,115.8 390.2,115.8 388.5,115.6 386.8,115.4 385.1,115.4 383.5,115.6 381.9,116.2 380.4,116.9 378.8,117.6 377.3,118.2 375.7,118.6 374.1,118.8 372.4,119.0 370.8,119.2 369.2,119.6 367.6,120.2 366.1,120.9 364.6,121.6 363.0,122.2 361.4,122.6 359.8,122.8 358.1,122.8 356.4,122.7 354.7,122.7 353.1,122.9 351.5,123.4 350.0,124.1 348.5,124.9 347.0,125.6 345.4,126.0 343.8,126.2 342.1,126.2 340.4,126.2 338.7,126.2 337.1,126.4 335.5,126.9 334.0,127.6 332.5,128.4 331.0,129.1 329.4,129.7 327.8,130.0 326.2,130.2 324.5,130.3 322.9,130.4 321.3,130.8 319.7,131.3 318.2,132.0 316.7,132.6 315.1,133.0 313.4,133.2 311.7,133.1 310.0,133.0 308.2,132.9 306.5,133.0 304.9,133.4 303.4,134.1 301.9,135.0 300.4,135.8 298.9,136.6 297.3,137.0 295.6,137.3 293.9,137.3 292.2,137.4 290.5,137.7 288.9,138.1 287.3,138.8 285.9,139.7 284.4,140.5 282.8,141.1 281.2,141.6 279.5,141.8 277.7,141.9 276.0,142.1 274.4,142.5 272.8,143.1 271.3,143.9 269.8,144.7 268.3,145.5 266.7,146.1 265.1,146.5 263.3,146.7 261.6,147.0 259.9,147.4 258.4,148.0 256.9,148.9 255.6,150.1 254.4,151.4 253.1,152.5 251.7,153.5 250.1,154.1 248.5,154.5 246.8,154.8 245.1,155.2 243.5,155.8 242.0,156.5 240.6,157.5 239.3,158.5 237.9,159.5 236.4,160.3 234.9,160.9 233.2,161.4 231.6,161.9 230.0,162.5 228.6,163.4 227.3,164.5 226.0,165.7 224.9,167.0 223.6,168.1 222.2,169.1 220.7,169.8 219.1,170.5 217.5,171.2 216.0,172.0 214.7,173.1 213.6,174.5 212.6,175.9 211.6,177.4 210.5,178.7 209.2,179.8 207.7,180.7 206.1,181.4 204.5,182.1 203.0,182.9 201.6,184.0 200.4,185.3 199.4,186.7 198.4,188.1 197.4,189.4 196.2,190.7 194.9,191.8 193.6,192.9 192.3,194.1 191.2,195.4 190.3,196.8 189.6,198.4 188.9,200.1 188.1,201.6 187.2,203.0 186.0,204.3 184.7,205.4 183.4,206.5 182.1,207.6 181.0,208.9 180.1,210.4 179.4,211.9 178.8,213.6 178.1,215.1 177.3,216.6 176.3,217.9 175.2,219.2 174.0,220.4 172.8,221.6 171.9,223.0 171.2,224.5 170.6,226.1 170.2,227.8 169.7,229.4 169.1,231.0 168.4,232.5 167.6,233.9 166.7,235.4 165.9,236.8 165.3,238.4 164.8,240.0 164.4,241.6 164.0,243.2 163.5,244.8 162.7,246.3 161.8,247.7 160.8,249.0 159.8,250.4 158.9,251.8 158.3,253.4 157.8,255.0 157.5,256.6 157.2,258.3 156.9,260.0 156.3,261.5 155.6,263.0 154.9,264.5 154.1,266.0 153.4,267.5 152.8,269.1 152.4,270.7 152.1,272.4 151.8,274.0 151.5,275.7 150.9,277.2 150.3,278.8 149.6,280.3 148.9,281.8 148.3,283.3 147.8,284.9 147.4,286.5 147.1,288.2 146.7,289.8 146.2,291.4 145.6,292.9 144.9,294.4 144.1,295.9 143.4,297.5 142.9,299.0 142.5,300.7 142.3,302.3 142.2,304.0 142.1,305.7 141.8,307.4 141.4,309.0 140.9,310.5 140.3,312.1 139.7,313.6 139.2,315.2 138.8,316.8 138.5,318.4 138.2,320.1 137.9,321.7 137.5,323.3 137.0,324.9 136.4,326.4 135.8,328.0 135.2,329.5 134.8,331.1 134.5,332.7 134.3,334.4 134.1,336.0 133.8,337.6 133.4,339.2 132.9,340.8 132.4,342.4 131.8,343.9 131.4,345.5 131.0,347.1 130.9,348.8 130.8,350.4 130.7,352.1 130.5,353.7 130.2,355.3 129.8,356.9 129.3,358.5 128.7,360.0 128.2,361.6 127.8,363.2 127.5,364.8 127.3,366.4 127.1,368.1 126.8,369.7 126.4,371.3 126.0,372.9 125.6,374.5 125.2,376.1 124.9,377.7 124.6,379.3 124.5,380.9 124.4,382.6 124.3,384.2 124.1,385.8 123.8,387.5 123.4,389.0 122.9,390.6 122.5,392.2 122.2,393.8 121.9,395.4 121.8,397.1 121.7,398.7 121.5,400.3 121.3,402.0 121.0,403.6 120.6,405.2 120.1,406.7 119.7,408.3 119.3,409.9 119.1,411.5 118.9,413.2 118.7,414.8 118.6,416.4 118.4,418.1 118.2,419.7 117.9,421.3 117.6,422.9 117.3,424.5 117.1,426.1 117.0,427.8 116.9,429.4 116.9,431.1 116.7,432.7 116.5,434.3 116.2,435.9 115.8,437.5 115.4,439.1 115.1,440.7 114.8,442.4 114.7,444.0 114.6,445.6 114.5,447.3 114.4,448.9 114.2,450.5 114.0,452.2 113.7,453.8 113.4,455.4 113.1,457.0 112.9,458.6 112.8,460.3 112.7,461.9 112.7,463.5 112.6,465.2 112.4,466.8 112.2,468.4 111.9,470.1 111.7,471.7 111.4,473.3 111.3,474.9 111.2,476.6 111.1,478.2 111.0,479.8 110.9,481.5 110.6,483.1 110.4,484.7 110.0,486.3 109.7,488.0 109.5,489.6 109.4,491.2 109.3,492.9 109.3,494.5 109.3,496.1 109.2,497.8 109.1,499.4 108.9,501.1 108.7,502.7 108.5,504.3 108.4,505.9 108.2,507.6 108.2,509.2 108.1,510.9 108.1,512.5 107.9,514.1 107.8,515.8 107.5,517.4 107.3,519.0 107.1,520.7 106.9,522.3 106.8,523.9 106.8,525.6 106.7,527.2 106.7,528.9 106.5,530.5 106.3,532.1 106.1,533.8 105.9,535.4 105.7,537.0 105.5,538.7 105.5,540.3 105.5,542.0 105.5,543.6 105.5,545.3 105.4,546.9 105.2,548.5 105.1,550.2 104.9,551.8 104.7,553.4 104.5,555.1 104.4,556.7 104.3,558.4 104.3,560.0 104.2,561.6 104.0,563.3 103.8,564.9 103.6,566.5 103.4,568.2 103.3,569.8 103.2,571.5 103.2,573.1 103.2,574.8 103.1,576.4 103.1,578.0 103.0,579.7 102.8,581.3 102.6,583.0 102.4,584.6 102.3,586.2 102.2,587.9 102.2,589.5 102.1,591.2 102.1,592.8 102.0,594.5 101.9,596.1 101.8,597.7 101.6,599.4 101.4,601.0 101.2,602.6 101.1,604.3 101.0,605.9 100.9,607.6 100.8,609.2 100.7,610.9 100.6,612.5 100.5,614.1 100.3,615.8 100.2,617.4 100.1,619.1 100.1,620.7 100.0,622.4 100.0,624.0 100.0,625.6 99.9,627.3 99.8,628.9 99.6,630.6 99.4,632.2 99.3,633.8 99.1,635.5 99.1,637.1 99.0,638.8 99.0,640.4 98.9,642.0 98.9,643.7 98.7,645.3 98.6,647.0 98.4,648.6 98.3,650.2 98.2,651.9 98.1,653.5 98.1,655.2 98.1,656.8 98.0,658.5 98.0,660.1 97.8,661.7 97.7,663.4 97.6,665.0 97.5,666.7 97.4,668.3 97.4,669.9 97.4,671.6 97.3,673.2 97.3,674.9 97.2,676.5 97.0,678.1 96.9,679.8 96.7,681.4 96.6,683.0 96.5,684.7 96.4,686.3 96.4,688.0 96.4,689.6 96.3,691.2 96.3,692.9 96.2,694.5 96.1,696.2 96.0,697.8 95.9,699.4 95.8,701.1 95.8,702.7 95.8,704.4 95.8,706.0 95.7,707.6 95.6,709.3 95.5,710.9 95.4,712.5 95.3,714.2 95.2,715.8 95.1,717.4 95.1,719.1 95.1,720.7 95.0,722.4 95.0,724.0 94.9,725.6 94.8,727.3 94.6,728.9 94.5,730.5 94.4,732.1 94.4,733.8 94.3,735.4 94.3,737.1 94.3,738.7 94.3,740.3 94.2,742.0 94.1,743.6 94.0,745.2 93.9,746.8 93.9,748.5 93.8,750.1 93.8,751.7 93.7,753.4 93.7,755.0 93.6,756.6 93.5,758.3 93.4,759.9" stroke="#f00" stroke-width="0.8" stroke-dasharray="0.75 2.25" stroke-linecap="round"/>
<path d="M743.3,83.7 741.7,83.9 740.0,84.0 738.4,84.1 736.8,84.2 735.2,84.4 733.6,84.5 731.9,84.6 730.3,84.8 728.7,84.9 727.1,85.0 725.4,85.2 723.8,85.3 722.2,85.5 720.6,85.7 719.0,85.9 717.4,86.1 715.7,86.4 714.1,86.7 712.5,87.0 710.9,87.2 709.3,87.4 707.7,87.6 706.0,87.8 704.4,88.0 702.8,88.2 701.2,88.3 699.5,88.5 697.9,88.6 696.3,88.7 694.6,88.8 693.0,88.9 691.4,89.1 689.7,89.3 688.1,89.5 686.5,89.8 684.9,90.1 683.3,90.5 681.7,90.8 680.0,91.2 678.4,91.4 676.8,91.7 675.2,91.9 673.6,92.2 671.9,92.5 670.3,92.8 668.7,93.1 667.1,93.4 665.4,93.6 663.8,93.8 662.2,93.9 660.5,94.0 658.9,94.1 657.2,94.3 655.6,94.4 654.0,94.6 652.3,94.7 650.7,94.9 649.1,95.1 647.4,95.2 645.8,95.4 644.1,95.5 642.5,95.7 640.9,95.9 639.2,96.2 637.6,96.5 636.0,96.8 634.4,97.1 632.7,97.3 631.1,97.4 629.4,97.4 627.8,97.4 626.1,97.4 624.5,97.4 622.8,97.4 621.2,97.4 619.5,97.4 617.9,97.4 616.2,97.4 614.5,97.3 612.9,97.3 611.2,97.2 609.6,97.2 607.9,97.3 606.3,97.4 604.6,97.5 603.0,97.7 601.4,97.8 599.7,97.9 598.1,98.0 596.4,98.1 594.8,98.2 593.1,98.3 591.5,98.4 589.9,98.5 588.2,98.7 586.6,98.8 584.9,98.8 583.3,98.8 581.6,98.7 580.0,98.6 578.3,98.5 576.7,98.4 575.0,98.3 573.4,98.3 571.7,98.4 570.1,98.4 568.4,98.5 566.8,98.6 565.1,98.7 563.5,98.8 561.9,98.9 560.2,99.1 558.6,99.3 557.0,99.5 555.3,99.8 553.7,100.0 552.0,100.1 550.4,100.2 548.8,100.2 547.1,100.2 545.5,100.2 543.8,100.2 542.2,100.3 540.5,100.4 538.9,100.5 537.2,100.6 535.6,100.7 534.0,100.7 532.3,100.7 530.7,100.8 529.0,100.9 527.4,101.1 525.8,101.3 524.1,101.6 522.5,102.0 520.9,102.4 519.3,102.7 517.6,103.1 516.0,103.3 514.4,103.6 512.8,103.9 511.1,104.1 509.5,104.4 507.9,104.6 506.2,104.8 504.6,104.9 503.0,105.0 501.3,104.9 499.7,104.9 498.0,104.8 496.4,104.8 494.7,104.9 493.1,105.1 491.4,105.3 489.8,105.5 488.2,105.7 486.6,105.9 484.9,106.1 483.3,106.2 481.7,106.3 480.0,106.5 478.4,106.8 476.8,107.0 475.1,107.3 473.5,107.6 471.9,107.8 470.3,107.9 468.6,108.0 467.0,108.0 465.3,108.0 463.7,108.0 462.0,108.0 460.4,108.1 458.7,108.1 457.1,108.1 455.4,108.2 453.8,108.1 452.1,108.1 450.5,108.1 448.8,108.2 447.2,108.3 445.6,108.6 444.0,108.9 442.4,109.3 440.8,109.7 439.1,110.0 437.5,110.2 435.9,110.3 434.2,110.4 432.6,110.5 430.9,110.6 429.3,110.7 427.7,110.8 426.0,110.8 424.4,110.9 422.7,110.9 421.0,110.8 419.4,110.7 417.7,110.7 416.0,110.6 414.4,110.7 412.7,110.8 411.1,111.1 409.5,111.3 407.9,111.6 406.2,111.8 404.6,112.1 403.0,112.3 401.4,112.6 399.7,113.0 398.1,113.4 396.6,113.9 395.0,114.4 393.4,114.9 391.8,115.3 390.2,115.6 388.6,115.8 386.9,116.0 385.3,116.1 383.6,116.2 382.0,116.5 380.4,116.7 378.7,117.1 377.1,117.4 375.5,117.8 373.9,118.1 372.3,118.5 370.7,118.8 369.1,119.3 367.5,119.8 366.0,120.3 364.4,121.0 362.9,121.6 361.4,122.3 359.8,122.8 358.2,123.3 356.6,123.7 355.0,124.1 353.4,124.4 351.8,124.8 350.2,125.2 348.7,125.6 347.1,126.0 345.5,126.4 343.9,126.7 342.3,127.0 340.6,127.2 339.0,127.3 337.3,127.5 335.7,127.7 334.1,128.1 332.5,128.6 331.0,129.1 329.4,129.6 327.9,130.2 326.3,130.7 324.8,131.3 323.2,131.8 321.7,132.3 320.1,132.9 318.6,133.5 317.1,134.1 315.5,134.7 313.9,135.1 312.3,135.5 310.7,135.7 309.1,135.9 307.4,136.1 305.7,136.3 304.1,136.5 302.5,136.8 300.9,137.2 299.3,137.7 297.6,138.1 296.0,138.5 294.4,138.9 292.8,139.2 291.1,139.6 289.5,140.1 288.0,140.6 286.4,141.2 284.9,141.8 283.3,142.5 281.8,143.1 280.2,143.7 278.6,144.2 277.0,144.6 275.4,145.1 273.7,145.6 272.1,146.1 270.6,146.6 269.0,147.1 267.4,147.6 265.7,148.1 264.1,148.5 262.4,148.9 260.8,149.3 259.2,149.8 257.6,150.4 256.1,151.1 254.6,151.9 253.2,152.9 251.8,153.8 250.4,154.8 249.0,155.7 247.6,156.5 246.2,157.4 244.8,158.2 243.3,159.1 241.9,160.0 240.6,160.9 239.2,161.8 237.8,162.7 236.3,163.5 234.9,164.2 233.4,164.9 231.9,165.6 230.4,166.4 228.9,167.2 227.5,168.0 226.2,169.0 224.8,170.0 223.5,171.0 222.2,171.9 220.8,172.9 219.5,173.9 218.2,174.9 217.0,176.1 215.8,177.3 214.7,178.6 213.7,180.0 212.7,181.4 211.7,182.7 210.6,184.0 209.5,185.2 208.3,186.4 207.1,187.5 205.9,188.6 204.7,189.8 203.6,190.9 202.4,192.2 201.3,193.4 200.2,194.6 199.1,195.8 197.9,197.0 196.8,198.2 195.8,199.4 194.8,200.7 193.9,202.1 193.0,203.6 192.2,205.1 191.5,206.5 190.7,208.0 189.8,209.4 188.9,210.8 188.0,212.1 187.1,213.4 186.2,214.8 185.4,216.2 184.6,217.6 183.8,219.0 182.9,220.3 182.0,221.7 181.0,222.9 180.0,224.2 178.9,225.4 177.9,226.7 176.9,227.9 175.9,229.3 175.1,230.6 174.3,232.0 173.5,233.4 172.7,234.9 172.0,236.3 171.2,237.7 170.5,239.2 169.8,240.7 169.2,242.2 168.6,243.7 168.0,245.2 167.4,246.7 166.8,248.2 166.1,249.7 165.3,251.1 164.5,252.5 163.6,253.9 162.8,255.3 162.0,256.8 161.2,258.2 160.5,259.7 159.8,261.2 159.0,262.7 158.3,264.1 157.5,265.6 156.7,267.0 156.0,268.5 155.3,270.0 154.6,271.5 154.0,273.1 153.5,274.6 153.0,276.2 152.5,277.8 151.9,279.3 151.3,280.9 150.7,282.4 150.1,284.0 149.5,285.5 148.9,287.1 148.4,288.6 147.8,290.2 147.2,291.7 146.6,293.3 145.9,294.8 145.2,296.3 144.5,297.8 143.8,299.3 143.2,300.9 142.6,302.4 142.1,304.0 141.7,305.6 141.3,307.2 140.9,308.8 140.5,310.4 140.1,312.0 139.7,313.6 139.3,315.3 139.0,316.9 138.6,318.5 138.3,320.1 137.9,321.7 137.6,323.3 137.2,324.9 136.8,326.5 136.3,328.1 135.8,329.7 135.3,331.2 134.8,332.8 134.4,334.4 133.9,336.0 133.5,337.6 133.1,339.2 132.7,340.7 132.2,342.3 131.8,343.9 131.3,345.5 130.9,347.1 130.6,348.7 130.3,350.3 130.1,352.0 129.9,353.6 129.7,355.2 129.4,356.8 129.1,358.5 128.8,360.1 128.4,361.7 128.1,363.3 127.7,364.9 127.4,366.5 127.0,368.1 126.7,369.7 126.3,371.3 125.9,372.9 125.5,374.5 125.1,376.0 124.8,377.6 124.4,379.2 124.1,380.9 123.8,382.5 123.6,384.1 123.4,385.7 123.2,387.3 122.9,389.0 122.6,390.6 122.4,392.2 122.1,393.8 121.8,395.4 121.6,397.0 121.4,398.7 121.2,400.3 120.9,401.9 120.7,403.5 120.4,405.1 120.0,406.7 119.6,408.3 119.3,409.9 118.9,411.5 118.6,413.1 118.2,414.7 117.9,416.3 117.7,418.0 117.4,419.6 117.1,421.2 116.8,422.8 116.5,424.4 116.3,426.0 116.1,427.7 116.0,429.3 115.8,430.9 115.7,432.6 115.5,434.2 115.4,435.8 115.2,437.5 114.9,439.1 114.7,440.7 114.4,442.3 114.2,443.9 114.0,445.6 113.8,447.2 113.6,448.8 113.4,450.4 113.1,452.1 112.9,453.7 112.7,455.3 112.4,456.9 112.2,458.5 112.0,460.2 111.8,461.8 111.7,463.4 111.5,465.1 111.4,466.7 111.3,468.3 111.1,470.0 111.0,471.6 110.8,473.2 110.7,474.9 110.6,476.5 110.5,478.1 110.4,479.8 110.2,481.4 110.1,483.0 109.9,484.7 109.7,486.3 109.5,487.9 109.2,489.6 109.0,491.2 108.8,492.8 108.7,494.4 108.6,496.1 108.4,497.7 108.3,499.4 108.2,501.0 108.1,502.6 108.0,504.3 107.9,505.9 107.8,507.5 107.7,509.2 107.7,510.8 107.6,512.5 107.6,514.1 107.5,515.8 107.4,517.4 107.3,519.0 107.2,520.7 107.0,522.3 106.9,523.9 106.8,525.6 106.7,527.2 106.5,528.9 106.4,530.5 106.3,532.1 106.1,533.8 105.9,535.4 105.8,537.0 105.6,538.7 105.5,540.3 105.4,542.0 105.3,543.6 105.2,545.2 105.2,546.9 105.1,548.5 105.0,550.2 104.9,551.8 104.8,553.4 104.7,555.1 104.6,556.7 104.5,558.4 104.4,560.0 104.3,561.6 104.1,563.3 104.0,564.9 103.8,566.6 103.7,568.2 103.5,569.8 103.4,571.5 103.2,573.1 103.1,574.8 103.0,576.4 102.9,578.0 102.8,579.7 102.7,581.3 102.6,583.0 102.5,584.6 102.4,586.2 102.3,587.9 102.2,589.5 102.2,591.2 102.1,592.8 102.0,594.5 101.9,596.1 101.8,597.7 101.7,599.4 101.6,601.0 101.5,602.7 101.3,604.3 101.2,605.9 101.0,607.6 100.9,609.2 100.8,610.9 100.6,612.5 100.5,614.1 100.4,615.8 100.2,617.4 100.1,619.1 100.0,620.7 99.9,622.3 99.9,624.0 99.8,625.6 99.7,627.3 99.7,628.9 99.6,630.6 99.5,632.2 99.4,633.8 99.3,635.5 99.2,637.1 99.2,638.8 99.1,640.4 99.0,642.1 98.9,643.7 98.8,645.3 98.7,647.0 98.6,648.6 98.5,650.3 98.4,651.9 98.3,653.5 98.2,655.2 98.1,656.8 98.0,658.5 97.9,660.1 97.9,661.7 97.8,663.4 97.7,665.0 97.7,666.7 97.6,668.3 97.5,669.9 97.5,671.6 97.5,673.2 97.4,674.9 97.3,676.5 97.3,678.2 97.2,679.8 97.1,681.4 97.0,683.1 96.8,684.7 96.7,686.3 96.6,688.0 96.6,689.6 96.5,691.3 96.4,692.9 96.3,694.5 96.2,696.2 96.1,697.8 96.1,699.4 96.0,701.1 95.9,702.7 95.9,704.4 95.9,706.0 95.8,707.6 95.8,709.3 95.7,710.9 95.7,712.5 95.6,714.2 95.5,715.8 95.5,717.5 95.4,719.1 95.3,720.7 95.3,722.4 95.2,724.0 95.1,725.6 95.0,727.3 94.9,728.9 94.8,730.5 94.7,732.2 94.6,733.8 94.6,735.4 94.5,737.1 94.4,738.7 94.4,740.3 94.3,742.0 94.3,743.6 94.2,745.2 94.2,746.9 94.1,748.5 94.0,750.1 94.0,751.8 93.9,753.4 93.9,755.0 93.8,756.6 93.7,758.3 93.7,759.9" stroke="#f00" stroke-width="0.8" stroke-dasharray="0.75 2.25" stroke-linecap="round"/>
<path d="M743.3,83.8 741.7,83.9 740.1,84.1 738.4,84.2 736.8,84.4 735.2,84.5 733.6,84.6 732.0,84.8 730.3,84.9 728.7,85.1 727.1,85.3 725.5,85.6 723.9,85.8 722.3,86.1 720.7,86.3 719.0,86.5 717.4,86.7 715.8,86.8 714.1,86.8 712.5,86.9 710.9,86.9 709.2,87.0 707.6,87.2 706.0,87.3 704.4,87.5 702.7,87.7 701.1,87.9 699.5,88.1 697.9,88.3 696.2,88.4 694.6,88.5 693.0,88.6 691.3,88.8 689.7,88.9 688.1,89.0 686.4,89.1 684.8,89.2 683.1,89.4 681.5,89.6 679.9,89.8 678.3,90.1 676.7,90.4 675.0,90.7 673.4,91.0 671.8,91.1 670.1,91.2 668.5,91.2 666.8,91.1 665.2,90.9 663.5,90.8 661.8,90.8 660.2,90.9 658.6,91.0 656.9,91.2 655.3,91.4 653.7,91.7 652.0,91.9 650.4,92.1 648.8,92.3 647.1,92.6 645.5,92.7 643.9,92.9 642.2,93.1 640.6,93.2 639.0,93.3 637.3,93.4 635.7,93.5 634.0,93.6 632.4,93.7 630.8,94.0 629.1,94.2 627.5,94.6 625.9,94.9 624.3,95.1 622.6,95.3 621.0,95.4 619.3,95.4 617.7,95.4 616.0,95.4 614.4,95.5 612.7,95.7 611.1,95.9 609.5,96.3 607.9,96.7 606.3,97.2 604.6,97.6 603.0,98.0 601.4,98.3 599.8,98.6 598.1,98.9 596.5,99.1 594.9,99.3 593.2,99.4 591.6,99.5 589.9,99.5 588.3,99.5 586.6,99.5 585.0,99.6 583.4,99.7 581.7,100.0 580.1,100.3 578.5,100.7 576.8,101.0 575.2,101.3 573.6,101.5 571.9,101.6 570.3,101.7 568.6,101.7 567.0,101.7 565.4,101.8 563.7,102.0 562.1,102.2 560.4,102.5 558.8,102.8 557.2,103.1 555.6,103.3 553.9,103.5 552.3,103.6 550.6,103.7 549.0,103.7 547.3,103.7 545.7,103.7 544.0,103.6 542.4,103.5 540.7,103.3 539.1,103.2 537.4,103.1 535.8,103.1 534.1,103.3 532.5,103.6 530.9,104.0 529.3,104.3 527.6,104.7 526.0,104.9 524.4,105.0 522.7,105.0 521.1,104.9 519.4,104.7 517.8,104.6 516.1,104.5 514.5,104.5 512.8,104.6 511.2,104.7 509.5,104.8 507.9,105.0 506.3,105.1 504.6,105.1 503.0,105.2 501.3,105.2 499.7,105.3 498.0,105.3 496.4,105.4 494.7,105.3 493.1,105.3 491.4,105.3 489.8,105.3 488.2,105.4 486.5,105.7 484.9,106.0 483.3,106.5 481.7,107.0 480.1,107.5 478.5,107.8 476.9,108.1 475.2,108.1 473.6,108.1 471.9,107.9 470.2,107.8 468.6,107.7 466.9,107.7 465.3,107.8 463.7,108.0 462.1,108.3 460.4,108.6 458.8,108.9 457.2,109.2 455.6,109.5 454.0,109.9 452.4,110.2 450.8,110.5 449.1,110.8 447.5,111.0 445.9,111.2 444.2,111.3 442.6,111.3 441.0,111.5 439.3,111.6 437.7,111.9 436.1,112.3 434.5,112.8 433.0,113.3 431.4,113.7 429.7,114.0 428.1,114.1 426.5,114.1 424.8,114.1 423.1,114.0 421.5,113.9 419.8,113.9 418.2,114.1 416.6,114.4 415.0,114.8 413.4,115.3 411.8,115.8 410.2,116.2 408.7,116.7 407.1,117.2 405.5,117.6 403.9,118.0 402.3,118.4 400.7,118.6 399.0,118.7 397.4,118.7 395.7,118.7 394.0,118.6 392.4,118.6 390.7,118.7 389.1,118.9 387.5,119.3 385.9,119.8 384.4,120.3 382.8,120.8 381.2,121.1 379.6,121.3 377.9,121.5 376.3,121.5 374.6,121.6 373.0,121.7 371.4,122.0 369.8,122.3 368.2,122.8 366.6,123.3 365.0,123.7 363.4,124.1 361.8,124.5 360.2,124.9 358.6,125.2 357.0,125.5 355.4,125.8 353.8,125.9 352.1,126.0 350.4,126.0 348.7,125.9 347.0,125.8 345.3,125.7 343.7,125.8 342.0,126.1 340.5,126.5 338.9,127.1 337.4,127.7 335.8,128.3 334.3,128.8 332.7,129.2 331.1,129.5 329.4,129.6 327.8,129.7 326.1,129.8 324.4,129.9 322.8,130.1 321.2,130.3 319.6,130.7 318.0,131.0 316.4,131.4 314.8,131.8 313.1,132.2 311.5,132.5 309.9,132.9 308.3,133.3 306.7,133.7 305.1,134.1 303.5,134.4 301.8,134.6 300.1,134.8 298.5,135.1 296.8,135.5 295.3,136.1 293.7,136.8 292.3,137.7 290.9,138.7 289.4,139.8 288.0,140.8 286.6,141.7 285.1,142.4 283.5,143.0 281.9,143.4 280.2,143.8 278.6,144.2 277.0,144.7 275.5,145.3 273.9,146.0 272.4,146.7 270.9,147.5 269.5,148.3 268.0,149.2 266.6,150.1 265.2,151.0 263.8,152.0 262.4,152.9 261.0,153.9 259.6,154.7 258.1,155.5 256.6,156.2 255.1,156.9 253.6,157.5 252.1,158.2 250.7,159.1 249.4,160.0 248.1,161.1 246.8,162.2 245.5,163.3 244.2,164.3 242.8,165.1 241.4,165.8 239.8,166.4 238.3,166.9 236.7,167.4 235.2,168.0 233.7,168.7 232.3,169.5 230.9,170.3 229.6,171.3 228.3,172.3 227.1,173.4 225.9,174.5 224.7,175.6 223.6,176.8 222.4,178.0 221.2,179.1 220.0,180.1 218.7,181.1 217.3,181.9 215.9,182.7 214.4,183.4 212.9,184.1 211.4,185.0 210.1,185.9 208.9,187.0 207.8,188.2 206.7,189.4 205.6,190.7 204.4,191.8 203.2,192.9 201.8,193.9 200.4,194.8 199.0,195.7 197.7,196.7 196.4,197.8 195.2,199.0 194.1,200.2 193.1,201.5 192.1,202.8 191.1,204.1 190.2,205.5 189.2,206.8 188.3,208.2 187.4,209.6 186.5,210.9 185.5,212.2 184.4,213.5 183.3,214.7 182.0,215.8 180.7,216.9 179.5,218.0 178.3,219.2 177.2,220.5 176.3,221.9 175.6,223.3 175.0,224.9 174.4,226.4 173.8,228.0 173.1,229.5 172.4,231.0 171.6,232.4 170.7,233.8 169.9,235.2 169.1,236.6 168.3,238.0 167.6,239.5 166.9,241.0 166.2,242.5 165.6,244.0 164.9,245.5 164.3,247.0 163.7,248.6 163.1,250.1 162.5,251.6 161.9,253.2 161.3,254.7 160.6,256.2 159.8,257.6 159.0,259.1 158.2,260.5 157.4,262.0 156.7,263.5 156.2,265.1 155.8,266.7 155.5,268.3 155.2,270.0 155.0,271.7 154.7,273.3 154.3,274.9 153.8,276.5 153.2,278.0 152.6,279.6 151.9,281.1 151.3,282.6 150.6,284.1 150.0,285.7 149.5,287.2 148.9,288.8 148.4,290.4 147.8,291.9 147.4,293.5 146.9,295.1 146.5,296.7 146.1,298.3 145.7,299.9 145.3,301.5 144.8,303.1 144.2,304.6 143.6,306.2 143.0,307.7 142.4,309.3 141.9,310.8 141.5,312.4 141.2,314.1 140.9,315.7 140.6,317.3 140.3,318.9 139.9,320.5 139.5,322.1 138.9,323.7 138.3,325.2 137.7,326.8 137.1,328.3 136.5,329.8 135.9,331.4 135.4,333.0 134.9,334.5 134.5,336.1 134.1,337.7 133.7,339.3 133.4,340.9 133.1,342.5 132.9,344.2 132.6,345.8 132.4,347.4 132.0,349.0 131.6,350.6 131.1,352.2 130.6,353.8 130.1,355.3 129.6,356.9 129.2,358.5 128.9,360.1 128.6,361.7 128.3,363.3 128.0,364.9 127.7,366.5 127.4,368.1 127.0,369.7 126.6,371.3 126.1,372.9 125.7,374.5 125.3,376.1 124.9,377.7 124.6,379.3 124.2,380.9 124.0,382.5 123.7,384.1 123.5,385.7 123.3,387.4 123.1,389.0 122.9,390.6 122.8,392.3 122.6,393.9 122.4,395.5 122.1,397.1 121.7,398.7 121.3,400.3 120.9,401.9 120.5,403.5 120.1,405.1 119.8,406.7 119.6,408.3 119.5,410.0 119.3,411.6 119.2,413.2 119.0,414.9 118.9,416.5 118.7,418.1 118.4,419.7 118.2,421.3 118.0,423.0 117.7,424.6 117.5,426.2 117.3,427.8 117.1,429.5 117.0,431.1 116.8,432.7 116.6,434.3 116.4,436.0 116.3,437.6 116.2,439.2 116.0,440.9 115.8,442.5 115.6,444.1 115.4,445.7 115.1,447.3 114.8,449.0 114.4,450.6 114.2,452.2 113.9,453.8 113.8,455.4 113.7,457.1 113.6,458.7 113.5,460.3 113.5,462.0 113.4,463.6 113.3,465.3 113.1,466.9 112.9,468.5 112.7,470.1 112.5,471.8 112.3,473.4 112.1,475.0 111.9,476.6 111.7,478.3 111.5,479.9 111.3,481.5 111.1,483.1 110.9,484.8 110.8,486.4 110.7,488.0 110.5,489.7 110.4,491.3 110.2,492.9 110.0,494.6 109.8,496.2 109.5,497.8 109.3,499.4 109.1,501.1 108.9,502.7 108.8,504.3 108.7,506.0 108.7,507.6 108.6,509.3 108.5,510.9 108.4,512.5 108.2,514.2 108.0,515.8 107.8,517.4 107.6,519.1 107.4,520.7 107.2,522.3 106.9,524.0 106.7,525.6 106.5,527.2 106.4,528.8 106.2,530.5 106.1,532.1 106.0,533.8 105.9,535.4 105.8,537.0 105.8,538.7 105.7,540.3 105.6,542.0 105.4,543.6 105.2,545.2 105.0,546.9 104.9,548.5 104.7,550.1 104.6,551.8 104.5,553.4 104.4,555.1 104.3,556.7 104.2,558.3 104.1,560.0 104.0,561.6 103.9,563.3 103.7,564.9 103.5,566.5 103.4,568.2 103.2,569.8 103.1,571.5 102.9,573.1 102.8,574.7 102.7,576.4 102.6,578.0 102.5,579.7 102.5,581.3 102.4,582.9 102.4,584.6 102.4,586.2 102.3,587.9 102.2,589.5 102.1,591.2 102.0,592.8 101.8,594.4 101.6,596.1 101.5,597.7 101.3,599.4 101.2,601.0 101.1,602.6 101.1,604.3 101.0,605.9 101.0,607.6 100.9,609.2 100.8,610.9 100.7,612.5 100.6,614.1 100.5,615.8 100.4,617.4 100.3,619.1 100.2,620.7 100.1,622.4 100.1,624.0 100.0,625.6 99.9,627.3 99.8,628.9 99.8,630.6 99.7,632.2 99.7,633.9 99.6,635.5 99.5,637.1 99.4,638.8 99.3,640.4 99.1,642.1 99.0,643.7 98.8,645.3 98.7,647.0 98.6,648.6 98.5,650.3 98.4,651.9 98.4,653.5 98.4,655.2 98.3,656.8 98.3,658.5 98.2,660.1 98.1,661.8 98.0,663.4 97.9,665.0 97.9,666.7 97.8,668.3 97.7,670.0 97.6,671.6 97.4,673.2 97.3,674.9 97.2,676.5 97.2,678.1 97.1,679.8 97.0,681.4 97.0,683.1 96.9,684.7 96.8,686.3 96.7,688.0 96.6,689.6 96.5,691.3 96.4,692.9 96.3,694.5 96.2,696.2 96.1,697.8 96.1,699.4 96.0,701.1 96.0,702.7 96.0,704.4 95.9,706.0 95.9,707.6 95.8,709.3 95.7,710.9 95.6,712.5 95.5,714.2 95.4,715.8 95.3,717.4 95.2,719.1 95.1,720.7 95.0,722.3 94.9,724.0 94.9,725.6 94.8,727.3 94.7,728.9 94.7,730.5 94.7,732.2 94.6,733.8 94.6,735.4 94.5,737.1 94.4,738.7 94.4,740.3 94.3,742.0 94.2,743.6 94.1,745.2 94.1,746.9 94.0,748.5 94.0,750.1 93.9,751.8 93.9,753.4 93.8,755.0 93.8,756.6 93.7,758.3 93.6,759.9" stroke="#f00" stroke-width="0.8" stroke-dasharray="0.75 2.25" stroke-linecap="round"/>
<path d="M743.3,83.8 741.7,84.0 740.1,84.1 738.4,84.3 736.8,84.4 735.2,84.5 733.6,84.7 732.0,84.8 730.3,85.0 728.7,85.2 727.1,85.3 725.5,85.4 723.8,85.5 722.2,85.6 720.6,85.6 719.0,85.8 717.3,86.0 715.7,86.3 714.1,86.7 712.5,87.1 710.9,87.4 709.3,87.6 707.7,87.7 706.0,87.7 704.4,87.8 702.7,87.8 701.1,88.0 699.5,88.2 697.9,88.4 696.3,88.6 694.6,88.8 693.0,88.8 691.3,88.7 689.7,88.7 688.0,88.7 686.4,88.8 684.8,89.0 683.1,89.4 681.5,89.7 679.9,90.0 678.3,90.2 676.7,90.3 675.0,90.4 673.4,90.4 671.7,90.6 670.1,90.8 668.5,91.2 666.9,91.6 665.3,92.0 663.6,92.3 662.0,92.4 660.4,92.4 658.7,92.3 657.0,92.1 655.4,92.0 653.7,92.0 652.1,92.1 650.4,92.4 648.8,92.6 647.2,92.8 645.5,93.0 643.9,93.0 642.2,93.1 640.6,93.1 639.0,93.3 637.3,93.6 635.7,93.9 634.1,94.4 632.5,94.8 630.9,95.0 629.2,95.2 627.6,95.1 625.9,95.0 624.2,95.0 622.6,95.0 620.9,95.1 619.3,95.4 617.7,95.7 616.1,95.9 614.4,96.1 612.8,96.1 611.1,95.9 609.4,95.7 607.8,95.6 606.1,95.6 604.5,95.8 602.9,96.1 601.3,96.5 599.6,96.9 598.0,97.3 596.4,97.5 594.7,97.7 593.1,97.8 591.5,98.0 589.8,98.2 588.2,98.6 586.6,99.0 585.0,99.3 583.3,99.6 581.7,99.7 580.0,99.6 578.4,99.4 576.7,99.2 575.1,99.1 573.4,99.1 571.8,99.4 570.2,99.7 568.5,100.2 566.9,100.5 565.3,100.8 563.6,100.9 562.0,100.9 560.3,100.9 558.7,101.0 557.1,101.3 555.4,101.7 553.8,102.2 552.2,102.7 550.6,103.1 549.0,103.4 547.3,103.5 545.7,103.5 544.0,103.4 542.4,103.5 540.7,103.6 539.1,103.9 537.5,104.2 535.9,104.5 534.2,104.6 532.6,104.6 530.9,104.4 529.3,104.2 527.6,104.1 526.0,104.2 524.3,104.5 522.7,105.0 521.1,105.7 519.5,106.3 517.9,106.8 516.3,107.1 514.6,107.2 513.0,107.2 511.4,107.2 509.7,107.3 508.1,107.5 506.5,107.8 504.8,108.1 503.2,108.4 501.6,108.5 499.9,108.4 498.3,108.2 496.6,108.0 494.9,107.8 493.3,107.8 491.7,107.9 490.0,108.2 488.4,108.5 486.8,108.8 485.2,109.0 483.5,109.0 481.9,108.8 480.2,108.7 478.6,108.8 477.0,109.0 475.3,109.4 473.8,110.0 472.2,110.6 470.6,111.1 469.0,111.3 467.3,111.3 465.6,111.1 464.0,110.8 462.3,110.6 460.6,110.5 459.0,110.5 457.4,110.7 455.7,110.9 454.1,111.1 452.5,111.1 450.8,111.0 449.1,110.8 447.5,110.7 445.8,110.8 444.2,111.1 442.6,111.6 441.1,112.2 439.5,112.7 437.9,113.1 436.3,113.3 434.6,113.3 432.9,113.2 431.3,113.1 429.6,113.1 428.0,113.3 426.4,113.7 424.8,114.2 423.2,114.6 421.6,114.8 420.0,114.8 418.3,114.6 416.6,114.3 414.8,113.9 413.2,113.7 411.5,113.7 409.9,113.9 408.3,114.3 406.7,114.7 405.1,115.0 403.4,115.2 401.8,115.3 400.1,115.4 398.5,115.5 396.9,115.8 395.3,116.4 393.8,117.0 392.2,117.6 390.6,118.1 389.0,118.3 387.3,118.3 385.6,118.1 383.9,117.8 382.2,117.6 380.5,117.6 378.9,117.8 377.3,118.3 375.7,118.8 374.2,119.3 372.5,119.6 370.9,119.7 369.2,119.7 367.5,119.7 365.9,119.8 364.3,120.1 362.7,120.7 361.2,121.4 359.7,122.2 358.1,122.9 356.6,123.4 355.0,123.7 353.3,123.9 351.7,124.0 350.0,124.3 348.5,124.7 346.9,125.2 345.4,125.8 343.8,126.4 342.2,126.7 340.5,126.8 338.8,126.7 337.1,126.4 335.3,126.2 333.7,126.1 332.0,126.4 330.5,127.0 329.0,127.7 327.5,128.5 326.0,129.2 324.4,129.7 322.8,130.1 321.2,130.3 319.5,130.5 317.9,130.8 316.3,131.3 314.8,132.0 313.3,132.8 311.8,133.4 310.2,133.9 308.6,134.2 306.9,134.3 305.2,134.3 303.4,134.3 301.8,134.5 300.2,135.0 298.6,135.6 297.1,136.3 295.5,136.9 293.9,137.4 292.3,137.7 290.6,137.9 288.8,138.0 287.2,138.3 285.6,138.9 284.1,139.8 282.7,140.9 281.4,142.1 280.0,143.2 278.6,144.1 277.1,144.8 275.4,145.3 273.8,145.7 272.2,146.1 270.6,146.6 269.0,147.3 267.6,148.1 266.1,149.0 264.6,149.7 263.0,150.3 261.4,150.7 259.7,151.1 258.1,151.5 256.5,152.0 255.1,152.9 253.7,154.0 252.5,155.2 251.3,156.5 250.0,157.6 248.6,158.5 247.1,159.3 245.6,159.9 244.1,160.5 242.6,161.3 241.3,162.3 240.1,163.5 238.9,164.8 237.8,166.0 236.5,167.1 235.1,167.9 233.6,168.5 232.0,169.0 230.4,169.5 228.8,170.1 227.4,170.8 226.0,171.8 224.8,172.9 223.6,174.1 222.4,175.1 221.1,176.1 219.7,177.0 218.3,177.8 217.0,178.8 215.8,180.0 214.8,181.4 214.0,182.9 213.2,184.5 212.3,186.0 211.3,187.3 210.1,188.4 208.7,189.2 207.2,190.0 205.8,190.9 204.5,191.9 203.3,193.0 202.3,194.4 201.4,195.8 200.5,197.1 199.4,198.3 198.2,199.4 196.8,200.4 195.4,201.3 194.1,202.4 193.0,203.6 192.1,205.0 191.4,206.5 190.7,208.0 190.0,209.5 189.2,210.9 188.2,212.2 187.2,213.5 186.1,214.7 185.1,216.0 184.3,217.4 183.6,218.9 183.0,220.4 182.4,221.9 181.6,223.3 180.5,224.5 179.3,225.6 178.0,226.7 176.6,227.8 175.4,229.0 174.5,230.3 173.7,231.7 173.1,233.2 172.6,234.8 172.0,236.3 171.3,237.8 170.5,239.2 169.6,240.5 168.7,241.9 167.9,243.4 167.3,244.9 166.8,246.4 166.4,248.0 165.9,249.6 165.3,251.1 164.6,252.6 163.7,254.0 162.8,255.3 161.8,256.7 161.0,258.2 160.3,259.6 159.8,261.2 159.3,262.7 158.7,264.3 158.0,265.8 157.2,267.2 156.2,268.6 155.3,270.0 154.4,271.4 153.7,273.0 153.2,274.5 152.9,276.2 152.7,277.9 152.4,279.5 152.1,281.1 151.6,282.7 151.0,284.3 150.3,285.8 149.7,287.3 149.1,288.8 148.6,290.4 148.2,292.0 147.7,293.6 147.3,295.2 146.7,296.8 146.0,298.3 145.2,299.8 144.4,301.2 143.7,302.8 143.2,304.3 142.8,305.9 142.6,307.6 142.3,309.2 142.1,310.9 141.7,312.5 141.2,314.1 140.6,315.6 140.0,317.2 139.5,318.7 139.2,320.3 138.9,322.0 138.8,323.6 138.6,325.3 138.4,326.9 138.1,328.5 137.6,330.1 137.0,331.7 136.3,333.2 135.8,334.7 135.3,336.3 134.9,337.9 134.5,339.5 134.2,341.1 133.8,342.7 133.3,344.3 132.8,345.8 132.3,347.4 131.8,349.0 131.5,350.6 131.3,352.2 131.2,353.9 131.1,355.5 131.0,357.2 130.9,358.8 130.5,360.4 130.1,362.0 129.7,363.6 129.2,365.2 128.8,366.8 128.5,368.4 128.3,370.0 128.1,371.6 127.9,373.2 127.6,374.9 127.2,376.4 126.8,378.0 126.3,379.6 125.8,381.2 125.4,382.8 125.2,384.4 125.0,386.0 124.8,387.6 124.7,389.3 124.4,390.9 124.2,392.5 123.8,394.1 123.5,395.7 123.2,397.3 123.0,398.9 122.9,400.6 122.8,402.2 122.8,403.9 122.6,405.5 122.3,407.1 122.0,408.7 121.5,410.3 121.0,411.9 120.6,413.4 120.2,415.0 120.0,416.6 119.8,418.3 119.6,419.9 119.4,421.5 119.2,423.1 118.9,424.8 118.6,426.4 118.3,428.0 118.0,429.6 117.9,431.2 117.8,432.8 117.7,434.5 117.6,436.1 117.5,437.8 117.3,439.4 117.0,441.0 116.7,442.6 116.4,444.2 116.1,445.8 115.9,447.4 115.8,449.1 115.7,450.7 115.5,452.3 115.3,454.0 115.0,455.6 114.7,457.2 114.3,458.8 113.9,460.4 113.6,462.0 113.4,463.6 113.3,465.3 113.2,466.9 113.2,468.5 113.1,470.2 113.0,471.8 112.8,473.4 112.5,475.1 112.3,476.7 112.2,478.3 112.0,479.9 111.9,481.6 111.8,483.2 111.7,484.9 111.5,486.5 111.2,488.1 110.9,489.7 110.6,491.3 110.3,493.0 110.1,494.6 110.0,496.2 109.9,497.9 109.8,499.5 109.7,501.1 109.5,502.8 109.3,504.4 109.1,506.0 108.9,507.6 108.6,509.3 108.5,510.9 108.4,512.5 108.4,514.2 108.4,515.8 108.4,517.5 108.3,519.1 108.1,520.8 107.9,522.4 107.7,524.0 107.5,525.6 107.3,527.3 107.1,528.9 107.0,530.5 106.9,532.2 106.7,533.8 106.5,535.4 106.3,537.1 106.0,538.7 105.8,540.3 105.6,542.0 105.5,543.6 105.4,545.3 105.4,546.9 105.4,548.5 105.3,550.2 105.2,551.8 105.1,553.5 104.9,555.1 104.7,556.7 104.5,558.4 104.4,560.0 104.3,561.7 104.3,563.3 104.2,564.9 104.1,566.6 103.9,568.2 103.7,569.9 103.5,571.5 103.3,573.1 103.1,574.8 103.0,576.4 102.9,578.0 102.8,579.7 102.7,581.3 102.6,583.0 102.5,584.6 102.3,586.2 102.1,587.9 102.0,589.5 101.9,591.2 101.9,592.8 101.9,594.5 101.9,596.1 101.9,597.7 101.8,599.4 101.7,601.0 101.5,602.7 101.3,604.3 101.1,605.9 100.9,607.6 100.8,609.2 100.7,610.9 100.6,612.5 100.6,614.1 100.4,615.8 100.3,617.4 100.1,619.1 100.0,620.7 99.9,622.3 99.8,624.0 99.7,625.6 99.7,627.3 99.7,628.9 99.6,630.6 99.6,632.2 99.5,633.8 99.3,635.5 99.2,637.1 99.1,638.8 99.1,640.4 99.0,642.1 99.0,643.7 99.0,645.3 98.9,647.0 98.8,648.6 98.6,650.3 98.5,651.9 98.3,653.5 98.1,655.2 98.0,656.8 98.0,658.5 97.9,660.1 97.9,661.7 97.9,663.4 97.8,665.0 97.7,666.7 97.6,668.3 97.5,669.9 97.5,671.6 97.4,673.2 97.4,674.9 97.4,676.5 97.4,678.2 97.3,679.8 97.2,681.4 97.1,683.1 96.9,684.7 96.8,686.3 96.7,688.0 96.6,689.6 96.6,691.3 96.5,692.9 96.5,694.5 96.4,696.2 96.3,697.8 96.2,699.4 96.0,701.1 95.9,702.7 95.9,704.4 95.8,706.0 95.8,707.6 95.8,709.3 95.8,710.9 95.8,712.5 95.7,714.2 95.6,715.8 95.5,717.5 95.4,719.1 95.4,720.7 95.3,722.4 95.3,724.0 95.2,725.6 95.1,727.3 95.0,728.9 94.9,730.5 94.8,732.2 94.7,733.8 94.5,735.4 94.5,737.1 94.4,738.7 94.4,740.3 94.4,742.0 94.4,743.6 94.3,745.2 94.2,746.9 94.1,748.5 94.1,750.1 94.0,751.8 93.9,753.4 93.9,755.0 93.9,756.6 93.8,758.3 93.8,759.9" stroke="#f00" stroke-width="0.8" stroke-dasharray="0.75 2.25" stroke-linecap="round"/>
<path d="M743.3,83.8 741.7,84.0 740.1,84.2 738.4,84.3 736.8,84.5 735.2,84.7 733.6,84.8 732.0,84.9 730.4,85.1 728.7,85.3 727.1,85.5 725.5,85.8 723.9,86.1 722.3,86.3 720.7,86.5 719.0,86.6 717.4,86.7 715.8,86.9 714.2,87.1 712.6,87.3 710.9,87.6 709.3,87.9 707.7,88.2 706.1,88.4 704.5,88.6 702.8,88.7 701.2,88.8 699.6,88.9 697.9,89.1 696.3,89.4 694.7,89.8 693.1,90.2 691.5,90.5 689.9,90.8 688.3,91.0 686.6,91.1 685.0,91.2 683.4,91.4 681.8,91.7 680.1,92.1 678.5,92.5 676.9,92.9 675.3,93.2 673.7,93.5 672.1,93.6 670.4,93.7 668.8,93.7 667.1,93.8 665.5,94.0 663.9,94.3 662.2,94.7 660.6,95.0 659.0,95.3 657.4,95.5 655.7,95.6 654.1,95.6 652.4,95.7 650.8,95.9 649.2,96.2 647.6,96.5 645.9,96.9 644.3,97.3 642.7,97.6 641.1,97.8 639.4,97.8 637.8,97.9 636.1,97.9 634.5,98.0 632.8,98.3 631.2,98.6 629.6,99.0 628.0,99.3 626.3,99.5 624.7,99.6 623.0,99.6 621.4,99.6 619.7,99.6 618.1,99.7 616.4,99.9 614.8,100.2 613.2,100.5 611.5,100.8 609.9,101.1 608.3,101.1 606.6,101.2 604.9,101.1 603.3,101.2 601.7,101.3 600.0,101.5 598.4,101.8 596.8,102.1 595.1,102.3 593.5,102.4 591.8,102.4 590.1,102.2 588.5,102.0 586.8,101.9 585.2,102.0 583.5,102.1 581.9,102.4 580.3,102.6 578.6,102.8 577.0,102.9 575.3,102.8 573.7,102.7 572.0,102.5 570.3,102.5 568.7,102.6 567.1,102.8 565.4,103.0 563.8,103.3 562.2,103.5 560.5,103.6 558.9,103.5 557.2,103.4 555.6,103.3 553.9,103.2 552.3,103.3 550.6,103.5 549.0,103.8 547.4,104.0 545.7,104.1 544.1,104.1 542.4,104.0 540.8,103.8 539.1,103.6 537.4,103.6 535.8,103.7 534.2,104.0 532.6,104.3 530.9,104.6 529.3,104.8 527.7,104.9 526.0,104.8 524.3,104.7 522.7,104.6 521.0,104.6 519.4,104.8 517.8,105.1 516.2,105.4 514.5,105.6 512.9,105.7 511.2,105.7 509.6,105.6 507.9,105.4 506.3,105.3 504.6,105.4 503.0,105.6 501.4,105.9 499.8,106.2 498.1,106.5 496.5,106.6 494.9,106.6 493.2,106.5 491.5,106.4 489.9,106.4 488.3,106.6 486.6,106.9 485.0,107.3 483.4,107.8 481.8,108.1 480.2,108.3 478.5,108.4 476.9,108.3 475.2,108.2 473.6,108.2 471.9,108.3 470.3,108.6 468.7,108.9 467.1,109.3 465.5,109.5 463.8,109.6 462.2,109.6 460.5,109.5 458.9,109.4 457.2,109.5 455.6,109.7 454.0,110.1 452.4,110.5 450.8,111.0 449.2,111.3 447.6,111.4 445.9,111.4 444.3,111.4 442.6,111.3 441.0,111.4 439.3,111.6 437.7,112.0 436.2,112.5 434.6,112.9 432.9,113.3 431.3,113.4 429.7,113.4 428.0,113.3 426.3,113.2 424.7,113.3 423.1,113.6 421.5,114.0 419.9,114.4 418.3,114.9 416.7,115.2 415.1,115.4 413.4,115.4 411.8,115.4 410.1,115.5 408.5,115.8 406.9,116.2 405.4,116.8 403.8,117.4 402.2,117.9 400.6,118.2 399.0,118.3 397.3,118.3 395.6,118.2 394.0,118.2 392.4,118.4 390.8,118.8 389.2,119.3 387.6,119.8 386.0,120.3 384.4,120.6 382.8,120.8 381.1,120.8 379.5,120.9 377.8,121.0 376.2,121.3 374.7,121.8 373.1,122.4 371.6,123.1 370.0,123.6 368.4,124.0 366.8,124.2 365.1,124.3 363.5,124.5 361.9,124.7 360.3,125.1 358.8,125.7 357.2,126.4 355.7,127.0 354.1,127.5 352.5,127.8 350.9,128.0 349.2,128.0 347.5,128.1 345.9,128.3 344.3,128.7 342.8,129.3 341.3,130.0 339.8,130.7 338.2,131.3 336.6,131.7 335.0,132.0 333.4,132.1 331.8,132.3 330.2,132.7 328.6,133.2 327.1,133.8 325.6,134.6 324.1,135.2 322.5,135.7 320.9,136.1 319.3,136.2 317.6,136.3 316.0,136.5 314.4,136.8 312.8,137.4 311.3,138.0 309.8,138.8 308.3,139.4 306.8,139.9 305.2,140.2 303.5,140.4 301.9,140.6 300.2,140.8 298.6,141.3 297.1,141.9 295.7,142.8 294.2,143.6 292.8,144.4 291.2,145.1 289.7,145.5 288.0,145.9 286.4,146.2 284.8,146.5 283.2,147.0 281.7,147.7 280.2,148.5 278.8,149.3 277.3,149.9 275.7,150.5 274.1,150.8 272.4,151.1 270.7,151.3 269.1,151.7 267.5,152.3 266.1,153.1 264.7,154.0 263.3,154.9 261.8,155.7 260.3,156.3 258.7,156.7 257.0,157.1 255.4,157.5 253.8,158.0 252.3,158.7 250.9,159.5 249.6,160.5 248.3,161.5 246.9,162.3 245.4,163.0 243.8,163.5 242.2,163.9 240.6,164.3 239.0,164.9 237.6,165.7 236.2,166.6 234.9,167.5 233.6,168.5 232.2,169.4 230.7,170.1 229.2,170.7 227.6,171.3 226.1,171.9 224.7,172.8 223.5,173.8 222.3,175.0 221.2,176.3 220.0,177.5 218.8,178.5 217.4,179.4 215.9,180.2 214.4,180.9 213.0,181.7 211.6,182.6 210.4,183.8 209.3,185.0 208.3,186.3 207.2,187.6 206.0,188.7 204.7,189.7 203.2,190.6 201.8,191.5 200.5,192.5 199.2,193.6 198.2,194.9 197.3,196.3 196.4,197.8 195.5,199.2 194.4,200.4 193.2,201.6 192.0,202.7 190.8,203.8 189.6,205.1 188.7,206.4 187.9,207.9 187.1,209.4 186.4,210.9 185.6,212.3 184.7,213.7 183.6,214.9 182.4,216.1 181.3,217.3 180.2,218.5 179.4,219.9 178.6,221.4 178.0,222.9 177.4,224.5 176.7,226.0 175.9,227.4 175.0,228.7 174.1,230.1 173.1,231.4 172.3,232.8 171.6,234.3 171.1,235.8 170.6,237.4 170.1,239.0 169.4,240.5 168.7,241.9 167.8,243.3 166.9,244.7 166.0,246.0 165.2,247.5 164.6,249.0 164.1,250.6 163.6,252.1 163.1,253.7 162.5,255.2 161.8,256.7 160.9,258.1 160.0,259.5 159.2,261.0 158.5,262.4 158.0,264.0 157.6,265.6 157.2,267.2 156.8,268.8 156.3,270.4 155.7,271.9 155.0,273.4 154.3,274.9 153.6,276.4 153.1,278.0 152.6,279.6 152.2,281.2 151.8,282.8 151.4,284.4 150.9,286.0 150.2,287.5 149.5,289.0 148.8,290.5 148.1,292.0 147.6,293.6 147.2,295.2 146.9,296.8 146.5,298.4 146.1,300.0 145.7,301.6 145.1,303.2 144.4,304.7 143.8,306.2 143.2,307.8 142.7,309.4 142.4,311.0 142.1,312.6 141.8,314.2 141.4,315.8 141.0,317.4 140.5,319.0 139.8,320.5 139.2,322.1 138.7,323.6 138.3,325.2 137.9,326.8 137.6,328.4 137.3,330.0 136.9,331.6 136.4,333.2 135.9,334.8 135.3,336.3 134.8,337.9 134.4,339.5 134.0,341.1 133.8,342.7 133.6,344.3 133.4,346.0 133.1,347.6 132.7,349.2 132.2,350.7 131.7,352.3 131.2,353.9 130.8,355.5 130.5,357.1 130.3,358.7 130.1,360.3 129.8,362.0 129.5,363.6 129.1,365.2 128.7,366.7 128.2,368.3 127.7,369.9 127.4,371.5 127.1,373.1 126.9,374.7 126.7,376.3 126.4,378.0 126.2,379.6 125.8,381.2 125.4,382.8 125.0,384.3 124.6,385.9 124.3,387.5 124.1,389.2 124.0,390.8 123.8,392.4 123.6,394.1 123.3,395.7 123.0,397.3 122.6,398.9 122.2,400.5 121.8,402.0 121.5,403.7 121.3,405.3 121.1,406.9 121.0,408.5 120.8,410.2 120.5,411.8 120.2,413.4 119.8,415.0 119.5,416.6 119.2,418.2 119.0,419.8 118.8,421.4 118.7,423.1 118.6,424.7 118.4,426.3 118.1,427.9 117.8,429.6 117.5,431.2 117.2,432.8 116.9,434.4 116.7,436.0 116.6,437.6 116.4,439.3 116.3,440.9 116.1,442.5 115.9,444.1 115.5,445.7 115.2,447.4 114.9,449.0 114.6,450.6 114.4,452.2 114.3,453.8 114.2,455.5 114.1,457.1 113.9,458.7 113.7,460.4 113.5,462.0 113.2,463.6 113.0,465.2 112.8,466.8 112.6,468.5 112.5,470.1 112.4,471.8 112.3,473.4 112.2,475.0 111.9,476.6 111.7,478.3 111.4,479.9 111.2,481.5 111.0,483.1 110.9,484.8 110.8,486.4 110.7,488.0 110.6,489.7 110.5,491.3 110.3,492.9 110.0,494.6 109.8,496.2 109.6,497.8 109.4,499.5 109.3,501.1 109.3,502.7 109.2,504.4 109.1,506.0 109.0,507.7 108.8,509.3 108.6,510.9 108.4,512.5 108.2,514.2 108.1,515.8 108.0,517.5 107.9,519.1 107.9,520.7 107.8,522.4 107.6,524.0 107.4,525.6 107.2,527.3 107.0,528.9 106.8,530.5 106.7,532.2 106.6,533.8 106.6,535.5 106.6,537.1 106.5,538.7 106.4,540.4 106.2,542.0 106.0,543.7 105.9,545.3 105.7,546.9 105.6,548.6 105.5,550.2 105.5,551.9 105.4,553.5 105.4,555.1 105.2,556.8 105.1,558.4 104.9,560.0 104.7,561.7 104.6,563.3 104.5,565.0 104.4,566.6 104.3,568.2 104.2,569.9 104.1,571.5 104.0,573.2 103.8,574.8 103.7,576.4 103.5,578.1 103.4,579.7 103.3,581.4 103.3,583.0 103.2,584.7 103.2,586.3 103.1,587.9 102.9,589.6 102.8,591.2 102.6,592.9 102.4,594.5 102.3,596.1 102.2,597.8 102.2,599.4 102.1,601.1 102.0,602.7 101.9,604.3 101.8,606.0 101.6,607.6 101.4,609.3 101.3,610.9 101.2,612.5 101.1,614.2 101.1,615.8 101.0,617.5 101.0,619.1 100.9,620.8 100.7,622.4 100.6,624.0 100.4,625.7 100.3,627.3 100.2,628.9 100.2,630.6 100.1,632.2 100.1,633.9 100.0,635.5 99.9,637.2 99.7,638.8 99.6,640.4 99.4,642.1 99.3,643.7 99.2,645.4 99.1,647.0 99.0,648.6 99.0,650.3 98.9,651.9 98.8,653.6 98.7,655.2 98.5,656.8 98.4,658.5 98.3,660.1 98.2,661.8 98.2,663.4 98.2,665.0 98.1,666.7 98.0,668.3 97.9,670.0 97.8,671.6 97.7,673.2 97.5,674.9 97.4,676.5 97.4,678.2 97.3,679.8 97.3,681.4 97.2,683.1 97.1,684.7 97.0,686.4 96.9,688.0 96.8,689.6 96.7,691.3 96.6,692.9 96.5,694.5 96.5,696.2 96.4,697.8 96.4,699.5 96.3,701.1 96.2,702.7 96.1,704.4 96.0,706.0 95.9,707.6 95.8,709.3 95.8,710.9 95.7,712.5 95.7,714.2 95.6,715.8 95.5,717.5 95.4,719.1 95.3,720.7 95.2,722.4 95.1,724.0 95.0,725.6 95.0,727.3 94.9,728.9 94.9,730.5 94.9,732.2 94.8,733.8 94.7,735.4 94.6,737.1 94.5,738.7 94.4,740.3 94.4,742.0 94.3,743.6 94.3,745.2 94.2,746.9 94.2,748.5 94.1,750.1 94.0,751.8 93.9,753.4 93.8,755.0 93.8,756.6 93.7,758.3 93.7,759.9" stroke="#f00" stroke-width="0.8" stroke-dasharray="0.75 2.25" stroke-linecap="round"/>
<path d="M743.3,83.8 741.7,84.0 740.1,84.2 738.5,84.4 736.8,84.6 735.2,84.9 733.6,85.1 732.0,85.3 730.4,85.5 728.8,85.7 727.2,85.9 725.5,86.1 723.9,86.3 722.3,86.5 720.7,86.7 719.1,86.9 717.5,87.1 715.8,87.4 714.2,87.7 712.6,87.9 711.0,88.2 709.4,88.5 707.8,88.8 706.2,89.1 704.6,89.4 702.9,89.7 701.3,89.9 699.7,90.2 698.1,90.5 696.5,90.7 694.9,91.0 693.2,91.3 691.6,91.5 690.0,91.8 688.4,92.1 686.8,92.4 685.2,92.6 683.5,92.9 681.9,93.2 680.3,93.5 678.7,93.7 677.0,93.8 675.4,94.0 673.8,94.2 672.1,94.4 670.5,94.6 668.9,94.8 667.2,95.0 665.6,95.2 664.0,95.4 662.3,95.6 660.7,95.8 659.1,96.0 657.5,96.2 655.8,96.4 654.2,96.6 652.5,96.7 650.9,96.9 649.3,97.1 647.6,97.2 646.0,97.4 644.4,97.6 642.7,97.8 641.1,98.0 639.4,98.2 637.8,98.4 636.2,98.6 634.5,98.8 632.9,99.0 631.3,99.2 629.6,99.4 628.0,99.6 626.3,99.7 624.7,99.9 623.1,100.0 621.4,100.2 619.8,100.3 618.1,100.4 616.5,100.6 614.8,100.7 613.2,100.9 611.6,101.0 609.9,101.1 608.3,101.3 606.6,101.4 605.0,101.5 603.3,101.6 601.7,101.7 600.0,101.8 598.4,101.9 596.7,102.1 595.1,102.2 593.5,102.3 591.8,102.5 590.2,102.7 588.5,102.9 586.9,103.0 585.3,103.2 583.6,103.4 582.0,103.5 580.3,103.7 578.7,103.8 577.1,103.9 575.4,104.1 573.8,104.2 572.1,104.4 570.5,104.6 568.9,104.7 567.2,104.9 565.6,105.1 563.9,105.3 562.3,105.5 560.7,105.7 559.0,105.9 557.4,106.1 555.8,106.3 554.1,106.5 552.5,106.7 550.8,106.8 549.2,107.0 547.6,107.2 545.9,107.3 544.3,107.5 542.7,107.7 541.0,107.8 539.4,108.0 537.8,108.2 536.1,108.3 534.5,108.4 532.8,108.6 531.2,108.7 529.6,108.8 527.9,108.9 526.3,109.0 524.7,109.2 523.0,109.3 521.4,109.5 519.8,109.6 518.1,109.8 516.5,110.0 514.9,110.2 513.2,110.3 511.6,110.5 510.0,110.6 508.3,110.7 506.7,110.8 505.1,110.9 503.4,110.9 501.8,111.0 500.1,111.1 498.5,111.1 496.9,111.2 495.2,111.2 493.6,111.3 492.0,111.4 490.3,111.4 488.7,111.5 487.0,111.5 485.4,111.5 483.8,111.5 482.1,111.6 480.5,111.6 478.8,111.6 477.2,111.6 475.5,111.6 473.9,111.6 472.3,111.6 470.6,111.6 469.0,111.7 467.3,111.7 465.7,111.8 464.1,111.8 462.4,111.8 460.8,111.8 459.1,111.8 457.5,111.8 455.8,111.8 454.2,111.8 452.6,111.8 450.9,111.9 449.3,111.9 447.6,112.0 446.0,112.1 444.4,112.2 442.7,112.3 441.1,112.5 439.5,112.6 437.8,112.8 436.2,113.0 434.6,113.1 433.0,113.3 431.3,113.4 429.7,113.6 428.1,113.7 426.4,113.9 424.8,114.0 423.2,114.2 421.5,114.4 419.9,114.5 418.3,114.7 416.7,114.9 415.0,115.1 413.4,115.2 411.8,115.3 410.1,115.4 408.5,115.5 406.8,115.5 405.2,115.6 403.5,115.8 401.9,115.9 400.3,116.1 398.6,116.3 397.0,116.5 395.4,116.8 393.8,117.0 392.2,117.3 390.5,117.6 388.9,117.9 387.3,118.1 385.7,118.4 384.1,118.7 382.5,119.0 380.9,119.3 379.2,119.6 377.6,119.9 376.0,120.3 374.4,120.7 372.8,121.1 371.2,121.5 369.7,121.9 368.1,122.3 366.5,122.8 364.9,123.2 363.3,123.6 361.7,124.1 360.2,124.5 358.6,124.9 357.0,125.3 355.4,125.7 353.8,126.2 352.2,126.6 350.7,127.0 349.1,127.5 347.5,127.9 345.9,128.3 344.3,128.7 342.7,129.1 341.1,129.4 339.5,129.8 337.9,130.1 336.3,130.5 334.7,130.8 333.2,131.1 331.6,131.5 330.0,131.9 328.4,132.3 326.8,132.7 325.2,133.1 323.7,133.6 322.1,134.1 320.6,134.6 319.0,135.1 317.4,135.5 315.9,136.0 314.3,136.5 312.7,136.9 311.2,137.4 309.6,137.9 308.0,138.3 306.5,138.8 304.9,139.3 303.3,139.8 301.8,140.3 300.2,140.8 298.7,141.3 297.1,141.9 295.5,142.4 294.0,142.9 292.4,143.4 290.8,143.9 289.3,144.4 287.7,144.9 286.1,145.4 284.6,146.0 283.0,146.5 281.5,147.1 279.9,147.6 278.4,148.2 276.8,148.8 275.3,149.4 273.7,150.0 272.2,150.5 270.6,151.1 269.1,151.7 267.5,152.2 265.9,152.7 264.4,153.3 262.8,153.9 261.3,154.5 259.7,155.1 258.2,155.8 256.7,156.4 255.2,157.1 253.8,157.9 252.3,158.6 250.8,159.3 249.4,160.1 248.0,160.9 246.5,161.7 245.1,162.5 243.7,163.3 242.3,164.1 240.8,164.9 239.4,165.7 238.1,166.5 236.7,167.4 235.3,168.3 234.0,169.1 232.6,170.0 231.3,170.9 229.9,171.8 228.6,172.7 227.2,173.6 225.9,174.5 224.5,175.4 223.2,176.3 221.8,177.2 220.5,178.1 219.2,179.1 217.9,180.1 216.7,181.1 215.4,182.1 214.2,183.2 213.0,184.3 211.8,185.4 210.6,186.5 209.4,187.6 208.2,188.7 207.0,189.8 205.9,191.0 204.7,192.1 203.5,193.2 202.3,194.4 201.2,195.5 200.0,196.7 198.9,197.9 197.9,199.1 196.8,200.4 195.8,201.6 194.7,202.9 193.7,204.2 192.7,205.4 191.7,206.7 190.7,208.0 189.7,209.3 188.7,210.5 187.7,211.8 186.7,213.2 185.8,214.5 184.9,215.8 183.9,217.1 183.0,218.5 182.1,219.8 181.2,221.1 180.3,222.5 179.4,223.8 178.5,225.1 177.6,226.5 176.6,227.8 175.7,229.1 174.8,230.4 173.8,231.8 172.9,233.1 172.0,234.5 171.2,235.9 170.3,237.3 169.5,238.7 168.7,240.1 167.9,241.5 167.2,243.0 166.4,244.4 165.6,245.9 164.9,247.3 164.1,248.8 163.4,250.2 162.6,251.7 161.9,253.2 161.2,254.6 160.5,256.1 159.8,257.6 159.1,259.1 158.4,260.6 157.8,262.1 157.1,263.7 156.5,265.2 155.9,266.7 155.2,268.2 154.6,269.8 154.0,271.3 153.4,272.8 152.8,274.4 152.2,275.9 151.6,277.5 151.1,279.0 150.5,280.6 150.0,282.2 149.5,283.7 149.0,285.3 148.5,286.9 148.0,288.5 147.5,290.1 147.0,291.6 146.5,293.2 146.0,294.8 145.5,296.4 145.0,298.0 144.5,299.5 144.0,301.1 143.5,302.7 143.1,304.3 142.6,305.9 142.2,307.5 141.8,309.1 141.4,310.7 141.0,312.3 140.6,313.9 140.2,315.5 139.9,317.1 139.5,318.7 139.1,320.3 138.8,321.9 138.4,323.5 138.1,325.2 137.7,326.8 137.4,328.4 137.1,330.0 136.7,331.6 136.4,333.2 136.1,334.8 135.8,336.4 135.4,338.0 135.1,339.6 134.7,341.2 134.4,342.8 134.0,344.4 133.6,346.0 133.3,347.6 132.9,349.2 132.6,350.8 132.3,352.4 132.0,354.1 131.7,355.7 131.4,357.3 131.1,358.9 130.8,360.5 130.5,362.1 130.2,363.7 129.9,365.3 129.5,366.9 129.2,368.5 128.9,370.1 128.6,371.7 128.3,373.3 128.0,374.9 127.7,376.5 127.4,378.1 127.1,379.8 126.8,381.4 126.6,383.0 126.3,384.6 126.0,386.2 125.7,387.8 125.5,389.4 125.2,391.0 124.9,392.6 124.6,394.2 124.4,395.9 124.1,397.5 123.9,399.1 123.6,400.7 123.4,402.3 123.1,403.9 122.9,405.5 122.6,407.1 122.4,408.8 122.1,410.4 121.9,412.0 121.6,413.6 121.3,415.2 121.0,416.8 120.7,418.4 120.4,420.0 120.2,421.6 119.9,423.2 119.6,424.9 119.4,426.5 119.1,428.1 118.9,429.7 118.6,431.3 118.4,432.9 118.1,434.5 117.9,436.2 117.6,437.8 117.4,439.4 117.2,441.0 116.9,442.6 116.7,444.2 116.5,445.9 116.2,447.5 116.0,449.1 115.8,450.7 115.6,452.3 115.4,454.0 115.2,455.6 115.0,457.2 114.8,458.8 114.6,460.5 114.4,462.1 114.2,463.7 114.0,465.3 113.8,467.0 113.6,468.6 113.4,470.2 113.2,471.8 113.0,473.5 112.9,475.1 112.7,476.7 112.6,478.4 112.4,480.0 112.2,481.6 112.0,483.2 111.9,484.9 111.7,486.5 111.5,488.1 111.3,489.8 111.1,491.4 110.9,493.0 110.8,494.6 110.6,496.3 110.4,497.9 110.3,499.5 110.1,501.2 109.9,502.8 109.8,504.4 109.6,506.1 109.5,507.7 109.3,509.3 109.2,511.0 109.0,512.6 108.9,514.2 108.8,515.9 108.6,517.5 108.5,519.1 108.4,520.8 108.2,522.4 108.1,524.0 108.0,525.7 107.9,527.3 107.7,529.0 107.6,530.6 107.5,532.2 107.3,533.9 107.2,535.5 107.0,537.1 106.9,538.8 106.8,540.4 106.6,542.0 106.5,543.7 106.3,545.3 106.2,547.0 106.1,548.6 106.0,550.2 105.8,551.9 105.7,553.5 105.6,555.2 105.4,556.8 105.3,558.4 105.2,560.1 105.0,561.7 104.9,563.3 104.7,565.0 104.6,566.6 104.5,568.3 104.3,569.9 104.2,571.5 104.1,573.2 103.9,574.8 103.8,576.5 103.7,578.1 103.6,579.7 103.4,581.4 103.3,583.0 103.2,584.6 103.1,586.3 102.9,587.9 102.8,589.6 102.7,591.2 102.6,592.9 102.5,594.5 102.4,596.1 102.3,597.8 102.2,599.4 102.1,601.1 102.0,602.7 101.9,604.3 101.8,606.0 101.7,607.6 101.6,609.3 101.4,610.9 101.3,612.5 101.2,614.2 101.1,615.8 101.0,617.5 100.9,619.1 100.8,620.7 100.7,622.4 100.6,624.0 100.5,625.7 100.4,627.3 100.3,629.0 100.2,630.6 100.1,632.2 100.0,633.9 99.9,635.5 99.8,637.2 99.7,638.8 99.6,640.4 99.5,642.1 99.4,643.7 99.3,645.4 99.2,647.0 99.1,648.6 99.1,650.3 99.0,651.9 98.9,653.6 98.8,655.2 98.7,656.8 98.6,658.5 98.5,660.1 98.5,661.8 98.4,663.4 98.3,665.1 98.2,666.7 98.1,668.3 98.1,670.0 98.0,671.6 97.9,673.3 97.9,674.9 97.8,676.5 97.7,678.2 97.6,679.8 97.5,681.4 97.5,683.1 97.4,684.7 97.3,686.4 97.2,688.0 97.1,689.6 97.0,691.3 96.9,692.9 96.8,694.6 96.8,696.2 96.7,697.8 96.6,699.5 96.5,701.1 96.4,702.7 96.3,704.4 96.3,706.0 96.2,707.6 96.1,709.3 96.0,710.9 95.9,712.6 95.8,714.2 95.8,715.8 95.7,717.5 95.6,719.1 95.6,720.7 95.5,722.4 95.4,724.0 95.3,725.6 95.3,727.3 95.2,728.9 95.1,730.5 95.0,732.2 95.0,733.8 94.9,735.4 94.8,737.1 94.8,738.7 94.7,740.3 94.6,742.0 94.6,743.6 94.5,745.2 94.4,746.9 94.4,748.5 94.3,750.1 94.2,751.8 94.2,753.4 94.1,755.0 94.0,756.7 93.9,758.3 93.9,759.9" stroke="#f00" stroke-width="0.8" stroke-dasharray="0.75 2.25" stroke-linecap="round"/>
<path d="M743.3,83.9 741.7,84.1 740.1,84.4 738.5,84.6 736.9,84.9 735.3,85.2 733.7,85.4 732.0,85.7 730.4,86.0 728.8,86.2 727.2,86.5 725.6,86.8 724.0,87.1 722.4,87.4 720.8,87.6 719.2,87.8 717.6,88.1 715.9,88.3 714.3,88.5 712.7,88.8 711.1,89.1 709.5,89.4 707.9,89.8 706.3,90.2 704.7,90.6 703.1,91.0 701.5,91.4 699.9,91.8 698.3,92.1 696.7,92.5 695.1,92.8 693.5,93.2 691.9,93.6 690.3,94.1 688.6,94.4 687.0,94.8 685.4,95.1 683.8,95.5 682.2,95.8 680.6,96.2 679.0,96.4 677.3,96.7 675.7,96.9 674.1,97.1 672.4,97.3 670.8,97.4 669.2,97.5 667.5,97.6 665.9,97.7 664.2,97.9 662.6,98.2 661.0,98.5 659.4,98.8 657.8,99.1 656.1,99.4 654.5,99.7 652.9,99.8 651.2,99.9 649.6,100.1 647.9,100.2 646.3,100.3 644.6,100.4 643.0,100.6 641.4,100.7 639.7,100.9 638.1,101.0 636.4,101.1 634.8,101.3 633.2,101.5 631.5,101.8 629.9,102.0 628.3,102.3 626.6,102.5 625.0,102.8 623.3,102.9 621.7,103.0 620.0,103.1 618.4,103.2 616.7,103.3 615.1,103.4 613.5,103.6 611.8,103.9 610.2,104.1 608.5,104.3 606.9,104.4 605.2,104.4 603.6,104.4 601.9,104.3 600.2,104.2 598.6,104.1 596.9,104.0 595.2,103.9 593.6,103.9 591.9,103.8 590.3,103.7 588.6,103.7 586.9,103.6 585.3,103.7 583.6,103.7 582.0,103.8 580.4,104.0 578.7,104.1 577.1,104.2 575.4,104.2 573.8,104.2 572.1,104.1 570.4,104.0 568.8,103.9 567.1,103.8 565.5,103.9 563.8,104.0 562.2,104.1 560.6,104.2 558.9,104.3 557.3,104.4 555.6,104.4 554.0,104.4 552.3,104.4 550.7,104.4 549.0,104.5 547.4,104.7 545.8,104.8 544.1,105.0 542.5,105.1 540.9,105.2 539.2,105.4 537.6,105.5 535.9,105.7 534.3,105.9 532.7,106.1 531.0,106.3 529.4,106.4 527.8,106.5 526.1,106.5 524.5,106.4 522.8,106.2 521.1,106.0 519.5,105.9 517.8,105.9 516.2,106.0 514.6,106.1 512.9,106.3 511.3,106.5 509.7,106.7 508.0,106.9 506.4,107.0 504.8,107.1 503.1,107.2 501.5,107.4 499.9,107.6 498.2,107.9 496.6,108.1 495.0,108.3 493.4,108.5 491.7,108.7 490.1,108.8 488.5,109.0 486.8,109.2 485.2,109.4 483.6,109.7 482.0,109.9 480.3,110.1 478.7,110.3 477.1,110.3 475.4,110.3 473.8,110.2 472.1,110.2 470.5,110.3 468.9,110.4 467.2,110.7 465.6,111.0 464.0,111.4 462.4,111.7 460.8,111.9 459.2,112.1 457.5,112.2 455.9,112.2 454.2,112.3 452.6,112.4 451.0,112.4 449.3,112.5 447.7,112.5 446.0,112.5 444.4,112.5 442.7,112.5 441.1,112.5 439.5,112.6 437.8,112.7 436.2,113.0 434.6,113.3 433.0,113.6 431.4,113.9 429.8,114.1 428.1,114.2 426.5,114.3 424.9,114.5 423.2,114.7 421.6,115.0 420.0,115.3 418.4,115.8 416.9,116.3 415.3,116.8 413.7,117.2 412.1,117.4 410.5,117.6 408.8,117.8 407.2,117.9 405.6,118.0 403.9,118.1 402.3,118.3 400.7,118.4 399.0,118.5 397.4,118.6 395.7,118.7 394.1,118.8 392.5,119.0 390.8,119.3 389.3,119.7 387.7,120.1 386.1,120.6 384.5,121.0 382.9,121.4 381.3,121.7 379.7,121.9 378.0,122.0 376.4,122.2 374.8,122.4 373.2,122.7 371.6,123.1 370.0,123.6 368.4,124.1 366.9,124.5 365.3,124.9 363.7,125.3 362.1,125.6 360.5,125.9 358.9,126.2 357.3,126.6 355.7,127.1 354.1,127.6 352.6,128.1 351.0,128.5 349.4,129.0 347.9,129.5 346.3,130.0 344.8,130.6 343.2,131.2 341.7,131.9 340.2,132.7 338.7,133.3 337.2,133.9 335.6,134.4 334.0,134.7 332.4,134.9 330.7,135.0 329.1,135.2 327.5,135.5 325.9,135.8 324.3,136.3 322.8,136.8 321.2,137.3 319.7,137.8 318.1,138.3 316.6,138.7 315.0,139.1 313.4,139.6 311.9,140.1 310.4,140.7 308.9,141.3 307.4,141.9 305.8,142.5 304.3,143.1 302.8,143.7 301.3,144.2 299.8,144.8 298.3,145.5 296.8,146.3 295.4,147.1 293.9,147.9 292.4,148.6 291.0,149.3 289.4,149.8 287.9,150.3 286.3,150.7 284.7,151.1 283.2,151.6 281.7,152.3 280.2,152.9 278.7,153.7 277.3,154.5 275.9,155.3 274.4,156.0 272.9,156.7 271.5,157.4 270.0,158.0 268.5,158.6 267.0,159.3 265.5,159.9 264.0,160.5 262.5,161.1 260.9,161.6 259.4,162.1 257.8,162.5 256.2,163.0 254.7,163.5 253.2,164.1 251.8,164.9 250.4,165.7 249.0,166.6 247.7,167.4 246.3,168.2 244.9,168.9 243.4,169.6 242.0,170.3 240.6,171.0 239.3,171.9 238.0,172.9 236.9,174.0 235.7,175.2 234.6,176.3 233.5,177.5 232.4,178.6 231.2,179.6 230.0,180.6 228.8,181.5 227.5,182.4 226.3,183.3 225.1,184.3 223.8,185.2 222.6,186.1 221.3,186.9 220.0,187.7 218.7,188.6 217.4,189.5 216.2,190.5 215.1,191.7 214.1,192.8 213.1,194.1 212.1,195.3 211.1,196.5 210.0,197.6 208.9,198.7 207.7,199.6 206.4,200.6 205.2,201.6 204.0,202.7 203.0,203.8 201.9,205.0 200.9,206.2 199.9,207.4 198.9,208.6 197.8,209.7 196.7,210.8 195.6,211.9 194.5,213.1 193.5,214.3 192.5,215.5 191.6,216.8 190.7,218.0 189.7,219.3 188.8,220.5 187.9,221.8 187.0,223.1 186.2,224.4 185.4,225.8 184.8,227.2 184.1,228.6 183.5,230.1 182.8,231.5 182.0,232.8 181.1,234.1 180.2,235.4 179.2,236.6 178.1,237.8 177.2,239.1 176.2,240.4 175.4,241.7 174.6,243.1 173.7,244.5 172.9,245.8 172.1,247.2 171.2,248.6 170.3,249.9 169.5,251.3 168.7,252.7 168.0,254.1 167.3,255.6 166.6,257.0 165.9,258.5 165.2,259.9 164.5,261.4 163.8,262.9 163.1,264.3 162.5,265.8 161.9,267.4 161.4,268.9 160.9,270.5 160.4,272.0 159.9,273.5 159.3,275.0 158.6,276.5 157.8,278.0 156.9,279.4 156.2,280.9 155.5,282.3 154.8,283.9 154.2,285.4 153.7,286.9 153.2,288.5 152.7,290.0 152.1,291.6 151.5,293.1 150.9,294.7 150.4,296.2 149.8,297.7 149.3,299.3 148.7,300.8 148.1,302.4 147.5,303.9 146.8,305.4 146.1,306.9 145.4,308.4 144.7,309.9 144.1,311.5 143.5,313.0 143.0,314.6 142.5,316.1 142.0,317.7 141.4,319.3 140.8,320.8 140.2,322.3 139.5,323.8 138.9,325.4 138.4,326.9 137.9,328.5 137.5,330.1 137.2,331.7 136.8,333.3 136.5,334.9 136.1,336.5 135.8,338.1 135.4,339.7 135.0,341.3 134.6,342.9 134.3,344.5 133.9,346.1 133.5,347.7 133.1,349.3 132.6,350.9 132.2,352.4 131.7,354.0 131.3,355.6 130.9,357.2 130.5,358.8 130.2,360.4 129.9,362.0 129.7,363.6 129.4,365.2 129.1,366.8 128.7,368.4 128.3,370.0 127.9,371.6 127.5,373.2 127.2,374.8 126.9,376.4 126.6,378.0 126.3,379.6 126.0,381.2 125.7,382.8 125.4,384.4 125.1,386.0 124.7,387.6 124.4,389.2 124.1,390.8 123.7,392.4 123.4,394.0 123.1,395.6 122.8,397.2 122.5,398.8 122.2,400.4 121.9,402.1 121.6,403.7 121.4,405.3 121.2,406.9 121.1,408.6 121.0,410.2 120.8,411.8 120.7,413.5 120.5,415.1 120.2,416.7 120.0,418.3 119.7,419.9 119.4,421.5 119.2,423.1 118.9,424.8 118.7,426.4 118.5,428.0 118.2,429.6 118.0,431.2 117.7,432.8 117.4,434.5 117.2,436.1 116.9,437.7 116.7,439.3 116.5,440.9 116.3,442.5 116.0,444.2 115.8,445.8 115.6,447.4 115.3,449.0 115.1,450.6 114.9,452.3 114.7,453.9 114.6,455.5 114.4,457.2 114.3,458.8 114.2,460.4 114.0,462.0 113.8,463.7 113.5,465.3 113.3,466.9 113.1,468.5 112.8,470.2 112.6,471.8 112.5,473.4 112.3,475.0 112.2,476.7 112.1,478.3 111.9,479.9 111.8,481.6 111.7,483.2 111.5,484.8 111.4,486.5 111.3,488.1 111.2,489.7 111.1,491.4 111.0,493.0 110.8,494.6 110.7,496.3 110.5,497.9 110.3,499.5 110.1,501.2 110.0,502.8 109.9,504.4 109.7,506.1 109.6,507.7 109.5,509.3 109.3,511.0 109.1,512.6 108.9,514.2 108.7,515.9 108.5,517.5 108.3,519.1 108.2,520.8 108.1,522.4 108.0,524.0 107.9,525.7 107.8,527.3 107.7,529.0 107.6,530.6 107.5,532.2 107.4,533.9 107.3,535.5 107.3,537.2 107.2,538.8 107.0,540.4 106.9,542.1 106.8,543.7 106.6,545.3 106.4,547.0 106.3,548.6 106.2,550.3 106.1,551.9 106.0,553.5 105.9,555.2 105.8,556.8 105.7,558.5 105.6,560.1 105.5,561.7 105.3,563.4 105.2,565.0 105.0,566.7 104.9,568.3 104.8,569.9 104.7,571.6 104.6,573.2 104.5,574.9 104.4,576.5 104.2,578.1 104.1,579.8 104.0,581.4 103.8,583.0 103.7,584.7 103.6,586.3 103.4,588.0 103.3,589.6 103.1,591.2 102.9,592.9 102.8,594.5 102.6,596.1 102.5,597.8 102.4,599.4 102.3,601.1 102.3,602.7 102.2,604.4 102.1,606.0 102.1,607.6 102.0,609.3 101.9,610.9 101.7,612.6 101.6,614.2 101.5,615.9 101.4,617.5 101.3,619.1 101.2,620.8 101.1,622.4 101.0,624.1 100.9,625.7 100.8,627.3 100.6,629.0 100.5,630.6 100.4,632.3 100.3,633.9 100.2,635.5 100.1,637.2 100.0,638.8 99.8,640.5 99.7,642.1 99.6,643.7 99.4,645.4 99.3,647.0 99.3,648.7 99.2,650.3 99.1,651.9 99.1,653.6 99.0,655.2 98.9,656.9 98.8,658.5 98.6,660.1 98.5,661.8 98.4,663.4 98.3,665.1 98.2,666.7 98.1,668.3 98.0,670.0 97.9,671.6 97.8,673.2 97.7,674.9 97.6,676.5 97.6,678.2 97.5,679.8 97.5,681.4 97.4,683.1 97.4,684.7 97.3,686.4 97.2,688.0 97.1,689.6 97.0,691.3 96.9,692.9 96.9,694.6 96.8,696.2 96.7,697.8 96.7,699.5 96.6,701.1 96.5,702.7 96.4,704.4 96.3,706.0 96.2,707.7 96.1,709.3 96.0,710.9 95.9,712.6 95.8,714.2 95.7,715.8 95.6,717.5 95.5,719.1 95.5,720.7 95.4,722.4 95.3,724.0 95.2,725.6 95.2,727.3 95.1,728.9 95.1,730.5 95.0,732.2 95.0,733.8 94.9,735.4 94.8,737.1 94.7,738.7 94.7,740.3 94.6,742.0 94.5,743.6 94.4,745.2 94.4,746.9 94.3,748.5 94.3,750.1 94.2,751.8 94.2,753.4 94.1,755.0 94.0,756.7 94.0,758.3 93.9,759.9" stroke="#f00" stroke-width="0.8" stroke-dasharray="0.75 2.25" stroke-linecap="round"/>
<path d="M743.3,83.8 741.7,84.0 740.1,84.3 738.5,84.6 736.9,84.9 735.3,85.1 733.6,85.4 732.0,85.6 730.4,85.7 728.8,85.9 727.2,86.0 725.6,86.2 723.9,86.5 722.3,86.8 720.7,87.1 719.1,87.5 717.5,87.7 715.9,87.9 714.3,88.1 712.7,88.2 711.0,88.5 709.4,88.9 707.8,89.4 706.3,89.9 704.7,90.4 703.1,90.7 701.4,90.9 699.8,90.9 698.1,90.9 696.5,90.9 694.9,91.0 693.3,91.3 691.7,91.8 690.1,92.3 688.5,92.8 686.9,93.1 685.2,93.3 683.6,93.4 681.9,93.5 680.3,93.6 678.7,93.7 677.0,94.0 675.4,94.4 673.8,94.8 672.2,95.1 670.6,95.3 668.9,95.3 667.3,95.3 665.6,95.3 664.0,95.3 662.3,95.5 660.7,95.9 659.1,96.3 657.5,96.8 655.9,97.1 654.2,97.2 652.6,97.2 650.9,97.0 649.2,96.9 647.6,96.9 646.0,97.1 644.3,97.4 642.7,97.9 641.1,98.5 639.5,98.9 637.9,99.3 636.3,99.4 634.6,99.5 633.0,99.5 631.3,99.6 629.7,99.9 628.1,100.3 626.4,100.7 624.8,101.2 623.2,101.5 621.6,101.6 619.9,101.5 618.2,101.4 616.6,101.4 614.9,101.5 613.3,101.8 611.7,102.3 610.1,102.9 608.5,103.4 606.8,103.7 605.2,103.8 603.5,103.7 601.8,103.6 600.2,103.5 598.5,103.6 596.9,103.8 595.3,104.3 593.7,104.9 592.0,105.4 590.4,105.8 588.8,106.0 587.1,106.0 585.5,105.9 583.8,105.9 582.2,106.0 580.5,106.3 578.9,106.7 577.3,107.1 575.6,107.5 574.0,107.6 572.4,107.6 570.7,107.5 569.0,107.4 567.4,107.4 565.7,107.6 564.1,108.0 562.5,108.5 560.9,109.1 559.3,109.5 557.6,109.7 556.0,109.6 554.3,109.4 552.6,109.1 551.0,109.0 549.3,109.0 547.7,109.3 546.1,109.7 544.5,110.2 542.9,110.5 541.2,110.6 539.6,110.5 537.9,110.3 536.2,110.1 534.6,109.9 532.9,110.0 531.3,110.2 529.7,110.6 528.1,110.9 526.4,111.1 524.8,111.1 523.1,110.9 521.5,110.7 519.8,110.6 518.2,110.6 516.6,111.0 515.0,111.5 513.4,112.0 511.8,112.5 510.1,112.8 508.5,112.8 506.8,112.5 505.2,112.1 503.5,111.8 501.8,111.6 500.2,111.7 498.6,112.0 497.0,112.4 495.4,112.8 493.7,113.1 492.1,113.1 490.4,112.9 488.8,112.7 487.1,112.5 485.5,112.5 483.9,112.7 482.3,113.1 480.7,113.6 479.0,113.9 477.4,114.0 475.8,113.9 474.1,113.7 472.4,113.4 470.8,113.2 469.1,113.3 467.5,113.7 466.0,114.2 464.4,114.7 462.8,115.1 461.1,115.2 459.5,115.0 457.8,114.6 456.1,114.1 454.4,113.8 452.8,113.7 451.1,113.9 449.5,114.3 448.0,114.8 446.4,115.2 444.7,115.4 443.1,115.4 441.4,115.2 439.8,115.1 438.1,115.1 436.5,115.3 434.9,115.7 433.3,116.2 431.8,116.7 430.1,117.0 428.5,117.0 426.8,116.8 425.1,116.5 423.5,116.3 421.8,116.2 420.2,116.5 418.6,117.0 417.1,117.6 415.5,118.2 413.9,118.6 412.3,118.6 410.6,118.4 408.9,118.0 407.2,117.7 405.5,117.6 403.9,117.8 402.3,118.4 400.8,119.1 399.2,119.7 397.6,120.2 396.0,120.5 394.4,120.5 392.7,120.4 391.0,120.3 389.4,120.4 387.8,120.8 386.2,121.4 384.7,122.0 383.1,122.6 381.5,122.9 379.9,122.9 378.2,122.8 376.5,122.7 374.8,122.7 373.2,123.0 371.7,123.7 370.2,124.6 368.8,125.6 367.3,126.5 365.7,127.1 364.1,127.3 362.4,127.4 360.8,127.3 359.1,127.4 357.5,127.7 356.0,128.4 354.5,129.2 353.0,130.2 351.5,131.0 350.0,131.5 348.4,131.8 346.7,131.8 345.1,131.9 343.4,132.0 341.8,132.4 340.3,133.0 338.8,133.8 337.3,134.6 335.8,135.2 334.2,135.5 332.5,135.6 330.9,135.6 329.2,135.7 327.6,136.0 326.1,136.7 324.7,137.7 323.3,138.9 321.9,140.0 320.5,140.9 319.0,141.4 317.4,141.7 315.7,141.7 314.0,141.8 312.4,142.0 310.9,142.6 309.5,143.4 308.1,144.4 306.7,145.4 305.2,146.2 303.7,146.7 302.2,147.1 300.5,147.3 298.9,147.6 297.4,148.2 296.0,149.0 294.6,150.0 293.3,151.1 291.9,152.1 290.5,152.8 288.9,153.2 287.3,153.4 285.6,153.6 284.0,153.9 282.5,154.5 281.1,155.3 279.8,156.4 278.5,157.5 277.1,158.4 275.6,159.1 274.0,159.4 272.3,159.4 270.5,159.4 268.8,159.4 267.2,159.7 265.7,160.4 264.3,161.2 263.0,162.2 261.7,163.2 260.2,163.9 258.7,164.4 257.1,164.7 255.5,165.1 253.9,165.6 252.5,166.4 251.3,167.5 250.2,168.8 249.0,170.0 247.8,171.0 246.4,171.8 244.9,172.3 243.3,172.6 241.7,173.0 240.3,173.6 239.0,174.5 237.9,175.7 236.9,177.1 235.9,178.4 234.8,179.5 233.5,180.3 232.1,180.9 230.5,181.3 228.8,181.6 227.3,182.2 226.0,183.0 224.9,184.1 224.0,185.4 223.0,186.7 222.0,187.8 220.8,188.8 219.4,189.6 218.0,190.3 216.6,191.0 215.3,191.9 214.3,193.0 213.4,194.3 212.5,195.7 211.5,197.0 210.4,198.0 209.0,198.8 207.5,199.5 205.9,200.1 204.4,200.9 203.2,201.9 202.3,203.2 201.6,204.7 201.0,206.2 200.3,207.7 199.5,209.0 198.3,210.1 197.0,211.1 195.7,212.0 194.4,213.0 193.3,214.1 192.5,215.5 191.9,217.0 191.4,218.5 190.8,220.0 190.0,221.3 189.0,222.5 187.9,223.6 186.7,224.7 185.6,225.8 184.6,227.1 183.8,228.5 183.2,229.9 182.6,231.3 181.8,232.7 180.8,233.9 179.6,235.0 178.3,236.1 177.0,237.2 175.9,238.4 175.1,239.8 174.5,241.3 174.0,242.8 173.6,244.4 173.0,245.9 172.3,247.3 171.2,248.6 170.1,249.8 168.9,251.0 167.9,252.3 167.1,253.7 166.5,255.2 166.0,256.8 165.5,258.3 164.9,259.8 164.2,261.3 163.3,262.6 162.3,264.0 161.4,265.4 160.6,266.8 160.0,268.3 159.6,269.9 159.2,271.5 158.8,273.1 158.3,274.7 157.5,276.1 156.6,277.5 155.7,279.0 154.9,280.4 154.3,281.9 153.8,283.5 153.6,285.2 153.4,286.8 153.2,288.5 152.8,290.1 152.2,291.6 151.3,293.1 150.4,294.5 149.6,295.9 148.8,297.4 148.3,299.0 147.9,300.6 147.6,302.2 147.2,303.8 146.7,305.4 146.1,306.9 145.4,308.4 144.7,309.9 144.1,311.5 143.7,313.1 143.4,314.7 143.2,316.3 143.0,318.0 142.7,319.6 142.3,321.2 141.7,322.7 141.0,324.2 140.3,325.7 139.7,327.3 139.3,328.9 139.1,330.5 139.0,332.2 138.8,333.8 138.6,335.5 138.2,337.0 137.7,338.6 137.0,340.1 136.4,341.6 135.8,343.2 135.3,344.8 135.0,346.4 134.8,348.0 134.7,349.6 134.4,351.2 134.0,352.8 133.5,354.4 133.0,356.0 132.5,357.5 132.1,359.1 131.8,360.7 131.7,362.3 131.5,364.0 131.3,365.6 131.0,367.2 130.6,368.8 130.0,370.3 129.4,371.9 128.8,373.4 128.3,375.0 128.1,376.6 127.9,378.2 127.8,379.9 127.7,381.5 127.5,383.1 127.1,384.7 126.7,386.3 126.2,387.9 125.7,389.5 125.3,391.0 125.1,392.7 125.0,394.3 124.9,395.9 124.8,397.6 124.6,399.2 124.3,400.8 123.9,402.4 123.5,404.0 123.1,405.6 122.9,407.2 122.7,408.8 122.6,410.4 122.5,412.1 122.3,413.7 122.0,415.3 121.6,416.9 121.1,418.5 120.6,420.1 120.2,421.6 120.0,423.3 119.8,424.9 119.8,426.5 119.7,428.2 119.6,429.8 119.4,431.4 119.1,433.0 118.8,434.6 118.4,436.2 118.0,437.8 117.8,439.4 117.6,441.1 117.5,442.7 117.4,444.3 117.3,446.0 117.0,447.6 116.7,449.2 116.4,450.8 116.1,452.4 115.8,454.0 115.6,455.6 115.5,457.3 115.5,458.9 115.4,460.6 115.2,462.2 115.0,463.8 114.7,465.4 114.3,467.0 114.0,468.6 113.8,470.3 113.6,471.9 113.6,473.5 113.6,475.2 113.6,476.8 113.5,478.5 113.3,480.1 113.1,481.7 112.8,483.3 112.5,484.9 112.2,486.6 112.0,488.2 111.9,489.8 111.8,491.5 111.7,493.1 111.6,494.7 111.3,496.3 111.0,498.0 110.7,499.6 110.5,501.2 110.3,502.8 110.2,504.5 110.1,506.1 110.1,507.7 110.0,509.4 109.8,511.0 109.6,512.6 109.3,514.3 109.0,515.9 108.8,517.5 108.6,519.1 108.5,520.8 108.5,522.4 108.5,524.1 108.4,525.7 108.3,527.4 108.1,529.0 107.8,530.6 107.6,532.2 107.3,533.9 107.1,535.5 107.0,537.1 107.0,538.8 106.9,540.4 106.8,542.1 106.7,543.7 106.5,545.3 106.2,547.0 106.0,548.6 105.9,550.2 105.8,551.9 105.7,553.5 105.7,555.2 105.7,556.8 105.6,558.4 105.4,560.1 105.2,561.7 104.9,563.3 104.7,565.0 104.5,566.6 104.3,568.2 104.3,569.9 104.2,571.5 104.2,573.2 104.1,574.8 104.0,576.5 103.8,578.1 103.6,579.7 103.3,581.4 103.2,583.0 103.1,584.6 103.0,586.3 103.0,587.9 102.9,589.6 102.9,591.2 102.7,592.9 102.6,594.5 102.4,596.1 102.3,597.8 102.2,599.4 102.1,601.1 102.1,602.7 102.1,604.4 102.0,606.0 101.9,607.6 101.8,609.3 101.6,610.9 101.3,612.5 101.2,614.2 101.0,615.8 101.0,617.5 100.9,619.1 100.9,620.8 100.9,622.4 100.8,624.0 100.7,625.7 100.6,627.3 100.4,629.0 100.2,630.6 100.1,632.2 100.1,633.9 100.0,635.5 100.0,637.2 100.0,638.8 99.9,640.5 99.7,642.1 99.6,643.7 99.4,645.4 99.3,647.0 99.2,648.6 99.2,650.3 99.2,651.9 99.1,653.6 99.1,655.2 99.0,656.9 98.8,658.5 98.6,660.1 98.5,661.8 98.3,663.4 98.3,665.0 98.2,666.7 98.3,668.3 98.3,670.0 98.2,671.6 98.2,673.3 98.1,674.9 97.9,676.5 97.8,678.2 97.6,679.8 97.6,681.5 97.5,683.1 97.5,684.7 97.4,686.4 97.3,688.0 97.2,689.6 97.1,691.3 96.9,692.9 96.8,694.6 96.7,696.2 96.6,697.8 96.6,699.5 96.6,701.1 96.5,702.7 96.5,704.4 96.3,706.0 96.2,707.7 96.0,709.3 95.9,710.9 95.8,712.6 95.8,714.2 95.7,715.8 95.7,717.5 95.7,719.1 95.7,720.7 95.6,722.4 95.5,724.0 95.3,725.6 95.2,727.3 95.1,728.9 95.1,730.5 95.0,732.2 95.0,733.8 94.9,735.4 94.9,737.1 94.8,738.7 94.7,740.3 94.6,742.0 94.5,743.6 94.4,745.2 94.4,746.9 94.4,748.5 94.4,750.1 94.4,751.8 94.3,753.4 94.2,755.0 94.1,756.7 93.9,758.3 93.8,759.9" stroke="#f00" stroke-width="0.8" stroke-dasharray="0.75 2.25" stroke-linecap="round"/>
<path d="M93.60,759.90 93.66,758.27 93.73,756.64 93.79,755.01 93.86,753.38 93.93,751.75 93.99,750.12 94.06,748.49 94.13,746.86 94.19,745.22 94.26,743.59 94.33,741.96 94.40,740.33 94.47,738.70 94.53,737.06 94.60,735.43 94.67,733.80 94.74,732.16 94.81,730.53 94.88,728.89 94.95,727.26 95.02,725.63 95.10,723.99 95.17,722.36 95.24,720.72 95.31,719.09 95.39,717.45 95.46,715.81 95.53,714.18 95.61,712.54 95.68,710.91 95.75,709.27 95.83,707.63 95.91,706.00 95.98,704.36 96.06,702.72 96.13,701.09 96.21,699.45 96.29,697.81 96.37,696.17 96.44,694.54 96.52,692.90 96.60,691.26 96.68,689.62 96.76,687.98 96.84,686.34 96.92,684.71 97.00,683.07 97.08,681.43 97.16,679.79 97.25,678.15 97.33,676.51 97.41,674.87 97.49,673.23 97.58,671.59 97.66,669.95 97.75,668.31 97.83,666.67 97.92,665.03 98.00,663.39 98.09,661.75 98.18,660.11 98.26,658.47 98.35,656.83 98.44,655.19 98.53,653.55 98.62,651.91 98.71,650.27 98.80,648.63 98.89,646.99 98.98,645.34 99.07,643.70 99.16,642.06 99.26,640.42 99.35,638.78 99.44,637.14 99.54,635.50 99.63,633.86 99.73,632.21 99.82,630.57 99.92,628.93 100.02,627.29 100.11,625.65 100.21,624.01 100.31,622.37 100.41,620.73 100.51,619.08 100.61,617.44 100.71,615.80 100.81,614.16 100.91,612.52 101.01,610.88 101.11,609.24 101.22,607.59 101.32,605.95 101.42,604.31 101.53,602.67 101.63,601.03 101.74,599.39 101.85,597.75 101.95,596.10 102.06,594.46 102.17,592.82 102.28,591.18 102.39,589.54 102.50,587.90 102.61,586.26 102.72,584.62 102.83,582.98 102.94,581.34 103.06,579.70 103.17,578.06 103.28,576.41 103.40,574.77 103.51,573.13 103.63,571.49 103.75,569.85 103.86,568.21 103.98,566.57 104.10,564.93 104.22,563.29 104.34,561.65 104.46,560.01 104.58,558.38 104.70,556.74 104.82,555.10 104.94,553.46 105.07,551.82 105.19,550.18 105.32,548.54 105.44,546.90 105.57,545.26 105.70,543.63 105.82,541.99 105.95,540.35 106.08,538.71 106.21,537.07 106.34,535.44 106.47,533.80 106.60,532.16 106.73,530.52 106.87,528.89 107.00,527.25 107.13,525.61 107.27,523.98 107.41,522.34 107.54,520.71 107.68,519.07 107.82,517.43 107.96,515.80 108.10,514.16 108.24,512.53 108.38,510.89 108.52,509.26 108.67,507.62 108.81,505.99 108.96,504.36 109.11,502.72 109.26,501.09 109.40,499.45 109.56,497.82 109.71,496.19 109.86,494.56 110.01,492.92 110.17,491.29 110.33,489.66 110.49,488.03 110.64,486.40 110.81,484.77 110.97,483.13 111.13,481.50 111.30,479.87 111.46,478.24 111.63,476.61 111.80,474.98 111.97,473.35 112.14,471.72 112.32,470.10 112.49,468.47 112.67,466.84 112.85,465.21 113.03,463.58 113.21,461.96 113.40,460.33 113.59,458.70 113.77,457.08 113.96,455.45 114.15,453.82 114.35,452.20 114.54,450.57 114.74,448.95 114.94,447.32 115.14,445.70 115.34,444.08 115.55,442.45 115.76,440.83 115.97,439.21 116.18,437.58 116.39,435.96 116.61,434.34 116.82,432.72 117.04,431.10 117.27,429.48 117.49,427.86 117.72,426.24 117.95,424.62 118.18,423.00 118.41,421.38 118.65,419.76 118.89,418.14 119.13,416.52 119.37,414.91 119.62,413.29 119.86,411.67 120.11,410.06 120.37,408.44 120.62,406.83 120.88,405.21 121.14,403.60 121.41,401.98 121.67,400.37 121.94,398.75 122.21,397.14 122.49,395.53 122.77,393.92 123.05,392.31 123.33,390.69 123.62,389.08 123.90,387.47 124.20,385.86 124.49,384.25 124.79,382.65 125.09,381.04 125.39,379.43 125.70,377.82 126.01,376.21 126.32,374.61 126.64,373.00 126.96,371.40 127.28,369.79 127.60,368.19 127.93,366.58 128.26,364.98 128.60,363.37 128.94,361.77 129.28,360.17 129.62,358.57 129.97,356.97 130.32,355.37 130.68,353.76 131.03,352.17 131.40,350.57 131.76,348.97 132.13,347.37 132.50,345.77 132.88,344.17 133.26,342.58 133.64,340.98 134.03,339.39 134.42,337.79 134.81,336.20 135.21,334.60 135.61,333.01 136.02,331.42 136.43,329.82 136.84,328.23 137.25,326.64 137.68,325.05 138.10,323.46 138.53,321.87 138.96,320.28 139.40,318.69 139.84,317.11 140.28,315.52 140.73,313.93 141.18,312.35 141.64,310.76 142.10,309.18 142.56,307.59 143.03,306.01 143.50,304.43 143.98,302.84 144.46,301.26 144.95,299.68 145.44,298.10 145.93,296.52 146.43,294.95 146.94,293.37 147.45,291.80 147.96,290.22 148.48,288.65 149.01,287.08 149.54,285.51 150.08,283.95 150.62,282.39 151.17,280.83 151.72,279.27 152.28,277.71 152.84,276.16 153.42,274.61 153.99,273.06 154.58,271.52 155.17,269.98 155.76,268.44 156.37,266.90 156.98,265.37 157.60,263.84 158.22,262.32 158.85,260.80 159.49,259.28 160.14,257.77 160.79,256.26 161.45,254.76 162.12,253.26 162.79,251.77 163.48,250.28 164.17,248.79 164.87,247.31 165.58,245.83 166.29,244.36 167.02,242.90 167.75,241.44 168.49,239.99 169.24,238.54 170.00,237.09 170.77,235.66 171.55,234.23 172.33,232.80 173.13,231.38 173.94,229.97 174.75,228.56 175.58,227.16 176.42,225.77 177.27,224.38 178.13,223.00 179.01,221.63 179.89,220.27 180.79,218.91 181.70,217.56 182.63,216.22 183.56,214.88 184.51,213.55 185.48,212.23 186.46,210.92 187.45,209.62 188.46,208.32 189.48,207.04 190.51,205.76 191.55,204.49 192.61,203.23 193.68,201.98 194.76,200.75 195.85,199.52 196.96,198.30 198.08,197.09 199.21,195.90 200.35,194.71 201.50,193.54 202.66,192.38 203.84,191.23 205.03,190.09 206.22,188.97 207.43,187.85 208.65,186.75 209.88,185.67 211.11,184.59 212.36,183.53 213.62,182.49 214.89,181.46 216.17,180.44 217.45,179.43 218.75,178.45 220.05,177.47 221.37,176.51 222.69,175.57 224.02,174.64 225.36,173.72 226.71,172.82 228.07,171.93 229.43,171.06 230.81,170.19 232.19,169.34 233.57,168.50 234.97,167.67 236.37,166.85 237.78,166.04 239.20,165.25 240.62,164.46 242.05,163.68 243.49,162.91 244.93,162.15 246.38,161.40 247.84,160.66 249.30,159.92 250.77,159.19 252.24,158.47 253.72,157.76 255.20,157.05 256.69,156.35 258.18,155.65 259.68,154.97 261.19,154.29 262.70,153.61 264.21,152.95 265.73,152.29 267.25,151.64 268.77,150.99 270.30,150.36 271.83,149.73 273.37,149.11 274.91,148.49 276.45,147.88 278.00,147.28 279.55,146.69 281.10,146.11 282.65,145.53 284.21,144.96 285.77,144.40 287.33,143.85 288.89,143.30 290.46,142.77 292.03,142.24 293.59,141.71 295.16,141.20 296.74,140.70 298.31,140.20 299.88,139.71 301.46,139.23 303.03,138.76 304.61,138.29 306.18,137.84 307.76,137.39 309.34,136.94 310.92,136.51 312.50,136.08 314.08,135.65 315.66,135.23 317.24,134.82 318.82,134.41 320.41,134.01 321.99,133.61 323.58,133.22 325.16,132.83 326.75,132.44 328.34,132.06 329.92,131.67 331.51,131.30 333.10,130.92 334.69,130.55 336.28,130.18 337.87,129.81 339.47,129.44 341.06,129.07 342.65,128.70 344.25,128.34 345.84,127.98 347.44,127.61 349.03,127.26 350.63,126.90 352.23,126.54 353.83,126.19 355.43,125.84 357.02,125.49 358.62,125.14 360.23,124.79 361.83,124.45 363.43,124.11 365.03,123.77 366.63,123.43 368.24,123.10 369.84,122.77 371.45,122.44 373.05,122.12 374.66,121.79 376.27,121.48 377.87,121.16 379.48,120.85 381.09,120.54 382.70,120.23 384.31,119.93 385.92,119.63 387.53,119.33 389.14,119.04 390.75,118.75 392.36,118.46 393.98,118.18 395.59,117.90 397.20,117.62 398.82,117.35 400.43,117.08 402.05,116.81 403.66,116.55 405.28,116.29 406.90,116.03 408.51,115.78 410.13,115.52 411.75,115.28 413.37,115.03 414.99,114.79 416.61,114.55 418.23,114.31 419.85,114.08 421.47,113.85 423.09,113.62 424.71,113.39 426.33,113.17 427.96,112.95 429.58,112.73 431.20,112.52 432.83,112.31 434.45,112.10 436.07,111.89 437.70,111.69 439.33,111.48 440.95,111.29 442.58,111.09 444.20,110.89 445.83,110.70 447.46,110.51 449.09,110.32 450.71,110.14 452.34,109.96 453.97,109.78 455.60,109.60 457.23,109.42 458.86,109.25 460.49,109.07 462.12,108.90 463.75,108.74 465.38,108.57 467.01,108.40 468.65,108.24 470.28,108.08 471.91,107.92 473.54,107.77 475.18,107.61 476.81,107.46 478.44,107.31 480.08,107.16 481.71,107.01 483.34,106.86 484.98,106.72 486.61,106.58 488.25,106.44 489.88,106.30 491.52,106.16 493.16,106.02 494.79,105.89 496.43,105.75 498.06,105.62 499.70,105.49 501.34,105.36 502.97,105.23 504.61,105.10 506.25,104.98 507.89,104.85 509.53,104.73 511.16,104.61 512.80,104.49 514.44,104.37 516.08,104.25 517.72,104.13 519.36,104.01 521.00,103.89 522.63,103.78 524.27,103.66 525.91,103.55 527.55,103.44 529.19,103.33 530.83,103.21 532.47,103.10 534.11,102.99 535.75,102.88 537.39,102.77 539.03,102.66 540.67,102.55 542.31,102.44 543.95,102.33 545.60,102.22 547.24,102.12 548.88,102.01 550.52,101.90 552.16,101.79 553.80,101.68 555.44,101.57 557.08,101.46 558.72,101.35 560.37,101.24 562.01,101.13 563.65,101.02 565.29,100.91 566.93,100.80 568.57,100.69 570.21,100.57 571.85,100.46 573.50,100.34 575.14,100.23 576.78,100.11 578.42,99.99 580.06,99.88 581.70,99.76 583.34,99.64 584.99,99.52 586.63,99.39 588.27,99.27 589.91,99.14 591.55,99.02 593.19,98.89 594.83,98.76 596.47,98.63 598.11,98.50 599.75,98.36 601.40,98.23 603.04,98.09 604.68,97.95 606.32,97.81 607.96,97.67 609.60,97.53 611.24,97.38 612.88,97.24 614.52,97.09 616.16,96.94 617.80,96.79 619.44,96.64 621.08,96.48 622.71,96.33 624.35,96.18 625.99,96.02 627.63,95.86 629.27,95.70 630.91,95.54 632.55,95.38 634.18,95.22 635.82,95.06 637.46,94.89 639.10,94.73 640.74,94.56 642.37,94.40 644.01,94.23 645.65,94.06 647.28,93.89 648.92,93.72 650.55,93.55 652.19,93.38 653.83,93.21 655.46,93.04 657.10,92.87 658.73,92.69 660.37,92.52 662.00,92.34 663.63,92.17 665.27,91.99 666.90,91.82 668.53,91.64 670.17,91.47 671.80,91.29 673.43,91.11 675.06,90.94 676.70,90.76 678.33,90.58 679.96,90.41 681.59,90.23 683.22,90.05 684.85,89.88 686.48,89.70 688.11,89.52 689.74,89.34 691.37,89.17 693.00,88.99 694.62,88.81 696.25,88.64 697.88,88.46 699.51,88.29 701.13,88.11 702.76,87.93 704.39,87.76 706.01,87.59 707.64,87.41 709.26,87.24 710.89,87.07 712.51,86.89 714.13,86.72" stroke="#f00" stroke-width="2.5" stroke-opacity="0.42"/>
<path d="M93.60,759.90 93.66,758.27 93.73,756.64 93.79,755.01 93.86,753.38 93.93,751.75 93.99,750.12 94.06,748.49 94.13,746.86 94.19,745.22 94.26,743.59 94.33,741.96 94.40,740.33 94.47,738.70 94.53,737.06 94.60,735.43 94.67,733.80 94.74,732.16 94.81,730.53 94.88,728.89 94.95,727.26 95.02,725.63 95.10,723.99 95.17,722.36 95.24,720.72 95.31,719.09 95.39,717.45 95.46,715.81 95.53,714.18 95.61,712.54 95.68,710.91 95.75,709.27 95.83,707.63 95.91,706.00 95.98,704.36 96.06,702.72 96.13,701.09 96.21,699.45 96.29,697.81 96.37,696.17 96.44,694.54 96.52,692.90 96.60,691.26 96.68,689.62 96.76,687.98 96.84,686.34 96.92,684.71 97.00,683.07 97.08,681.43 97.16,679.79 97.25,678.15 97.33,676.51 97.41,674.87 97.49,673.23 97.58,671.59 97.66,669.95 97.75,668.31 97.83,666.67 97.92,665.03 98.00,663.39 98.09,661.75 98.18,660.11 98.26,658.47 98.35,656.83 98.44,655.19 98.53,653.55 98.62,651.91 98.71,650.27 98.80,648.63 98.89,646.99 98.98,645.34 99.07,643.70 99.16,642.06 99.26,640.42 99.35,638.78 99.44,637.14 99.54,635.50 99.63,633.86 99.73,632.21 99.82,630.57 99.92,628.93 100.02,627.29 100.11,625.65 100.21,624.01 100.31,622.37 100.41,620.73 100.51,619.08 100.61,617.44 100.71,615.80 100.81,614.16 100.91,612.52 101.01,610.88 101.11,609.24 101.22,607.59 101.32,605.95 101.42,604.31 101.53,602.67 101.63,601.03 101.74,599.39 101.85,597.75 101.95,596.10 102.06,594.46 102.17,592.82 102.28,591.18 102.39,589.54 102.50,587.90 102.61,586.26 102.72,584.62 102.83,582.98 102.94,581.34 103.06,579.70 103.17,578.06 103.28,576.41 103.40,574.77 103.51,573.13 103.63,571.49 103.75,569.85 103.86,568.21 103.98,566.57 104.10,564.93 104.22,563.29 104.34,561.65 104.46,560.01 104.58,558.38 104.70,556.74 104.82,555.10 104.94,553.46 105.07,551.82 105.19,550.18 105.32,548.54 105.44,546.90 105.57,545.26 105.70,543.63 105.82,541.99 105.95,540.35 106.08,538.71 106.21,537.07 106.34,535.44 106.47,533.80 106.60,532.16 106.73,530.52 106.87,528.89 107.00,527.25 107.13,525.61 107.27,523.98 107.41,522.34 107.54,520.71 107.68,519.07 107.82,517.43 107.96,515.80 108.10,514.16 108.24,512.53 108.38,510.89 108.52,509.26 108.67,507.62 108.81,505.99 108.96,504.36 109.11,502.72 109.26,501.09 109.40,499.45 109.56,497.82 109.71,496.19 109.86,494.56 110.01,492.92 110.17,491.29 110.33,489.66 110.49,488.03 110.64,486.40 110.81,484.77 110.97,483.13 111.13,481.50 111.30,479.87 111.46,478.24 111.63,476.61 111.80,474.98 111.97,473.35 112.14,471.72 112.32,470.10 112.49,468.47 112.67,466.84 112.85,465.21 113.03,463.58 113.21,461.96 113.40,460.33 113.59,458.70 113.77,457.08 113.96,455.45 114.15,453.82 114.35,452.20 114.54,450.57 114.74,448.95 114.94,447.32 115.14,445.70 115.34,444.08 115.55,442.45 115.76,440.83 115.97,439.21 116.18,437.58 116.39,435.96 116.61,434.34 116.82,432.72 117.04,431.10 117.27,429.48 117.49,427.86 117.72,426.24 117.95,424.62 118.18,423.00 118.41,421.38 118.65,419.76 118.89,418.14 119.13,416.52 119.37,414.91 119.62,413.29 119.86,411.67 120.11,410.06 120.37,408.44 120.62,406.83 120.88,405.21 121.14,403.60 121.41,401.98 121.67,400.37 121.94,398.75 122.21,397.14 122.49,395.53 122.77,393.92 123.05,392.31 123.33,390.69 123.62,389.08 123.90,387.47 124.20,385.86 124.49,384.25 124.79,382.65 125.09,381.04 125.39,379.43 125.70,377.82 126.01,376.21 126.32,374.61 126.64,373.00 126.96,371.40 127.28,369.79 127.60,368.19 127.93,366.58 128.26,364.98 128.60,363.37 128.94,361.77 129.28,360.17 129.62,358.57 129.97,356.97 130.32,355.37 130.68,353.76 131.03,352.17 131.40,350.57 131.76,348.97 132.13,347.37 132.50,345.77 132.88,344.17 133.26,342.58 133.64,340.98 134.03,339.39 134.42,337.79 134.81,336.20 135.21,334.60 135.61,333.01 136.02,331.42 136.43,329.82 136.84,328.23 137.25,326.64 137.68,325.05 138.10,323.46 138.53,321.87 138.96,320.28 139.40,318.69 139.84,317.11 140.28,315.52 140.73,313.93 141.18,312.35 141.64,310.76 142.10,309.18 142.56,307.59 143.03,306.01 143.50,304.43 143.98,302.84 144.46,301.26 144.95,299.68 145.44,298.10 145.93,296.52 146.43,294.95 146.94,293.37 147.45,291.80 147.96,290.22 148.48,288.65 149.01,287.08 149.54,285.51 150.08,283.95 150.62,282.39 151.17,280.83 151.72,279.27 152.28,277.71 152.84,276.16 153.42,274.61 153.99,273.06 154.58,271.52 155.17,269.98 155.76,268.44 156.37,266.90 156.98,265.37 157.60,263.84 158.22,262.32 158.85,260.80 159.49,259.28 160.14,257.77 160.79,256.26 161.45,254.76 162.12,253.26 162.79,251.77 163.48,250.28 164.17,248.79 164.87,247.31 165.58,245.83 166.29,244.36 167.02,242.90 167.75,241.44 168.49,239.99 169.24,238.54 170.00,237.09 170.77,235.66 171.55,234.23 172.33,232.80 173.13,231.38 173.94,229.97 174.75,228.56 175.58,227.16 176.42,225.77 177.27,224.38 178.13,223.00 179.01,221.63 179.89,220.27 180.79,218.91 181.70,217.56 182.63,216.22 183.56,214.88 184.51,213.55 185.48,212.23 186.46,210.92 187.45,209.62 188.46,208.32 189.48,207.04 190.51,205.76 191.55,204.49 192.61,203.23 193.68,201.98 194.76,200.75 195.85,199.52 196.96,198.30 198.08,197.09 199.21,195.90 200.35,194.71 201.50,193.54 202.66,192.38 203.84,191.23 205.03,190.09 206.22,188.97 207.43,187.85 208.65,186.75 209.88,185.67 211.11,184.59 212.36,183.53 213.62,182.49 214.89,181.46 216.17,180.44 217.45,179.43 218.75,178.45 220.05,177.47 221.37,176.51 222.69,175.57 224.02,174.64 225.36,173.72 226.71,172.82 228.07,171.93 229.43,171.06 230.81,170.19 232.19,169.34 233.57,168.50 234.97,167.67 236.37,166.85 237.78,166.04 239.20,165.25 240.62,164.46 242.05,163.68 243.49,162.91 244.93,162.15 246.38,161.40 247.84,160.66 249.30,159.92 250.77,159.19 252.24,158.47 253.72,157.76 255.20,157.05 256.69,156.35 258.18,155.65 259.68,154.97 261.19,154.29 262.70,153.61 264.21,152.95 265.73,152.29 267.25,151.64 268.77,150.99 270.30,150.36 271.83,149.73 273.37,149.11 274.91,148.49 276.45,147.88 278.00,147.28 279.55,146.69 281.10,146.11 282.65,145.53 284.21,144.96 285.77,144.40 287.33,143.85 288.89,143.30 290.46,142.77 292.03,142.24 293.59,141.71 295.16,141.20 296.74,140.70 298.31,140.20 299.88,139.71 301.46,139.23 303.03,138.76 304.61,138.29 306.18,137.84 307.76,137.39 309.34,136.94 310.92,136.51 312.50,136.08 314.08,135.65 315.66,135.23 317.24,134.82 318.82,134.41 320.41,134.01 321.99,133.61 323.58,133.22 325.16,132.83 326.75,132.44 328.34,132.06 329.92,131.67 331.51,131.30 333.10,130.92 334.69,130.55 336.28,130.18 337.87,129.81 339.47,129.44 341.06,129.07 342.65,128.70 344.25,128.34 345.84,127.98 347.44,127.61 349.03,127.26 350.63,126.90 352.23,126.54 353.83,126.19 355.43,125.84 357.02,125.49 358.62,125.14 360.23,124.79 361.83,124.45 363.43,124.11 365.03,123.77 366.63,123.43 368.24,123.10 369.84,122.77 371.45,122.44 373.05,122.12 374.66,121.79 376.27,121.48 377.87,121.16 379.48,120.85 381.09,120.54 382.70,120.23 384.31,119.93 385.92,119.63 387.53,119.33 389.14,119.04 390.75,118.75 392.36,118.46 393.98,118.18 395.59,117.90 397.20,117.62 398.82,117.35 400.43,117.08 402.05,116.81 403.66,116.55 405.28,116.29 406.90,116.03 408.51,115.78 410.13,115.52 411.75,115.28 413.37,115.03 414.99,114.79 416.61,114.55 418.23,114.31 419.85,114.08 421.47,113.85 423.09,113.62 424.71,113.39 426.33,113.17 427.96,112.95 429.58,112.73 431.20,112.52 432.83,112.31 434.45,112.10 436.07,111.89 437.70,111.69 439.33,111.48 440.95,111.29 442.58,111.09 444.20,110.89 445.83,110.70 447.46,110.51 449.09,110.32 450.71,110.14 452.34,109.96 453.97,109.78 455.60,109.60 457.23,109.42 458.86,109.25 460.49,109.07 462.12,108.90 463.75,108.74 465.38,108.57 467.01,108.40 468.65,108.24 470.28,108.08 471.91,107.92 473.54,107.77 475.18,107.61 476.81,107.46 478.44,107.31 480.08,107.16 481.71,107.01 483.34,106.86 484.98,106.72 486.61,106.58 488.25,106.44 489.88,106.30 491.52,106.16 493.16,106.02 494.79,105.89 496.43,105.75 498.06,105.62 499.70,105.49 501.34,105.36 502.97,105.23 504.61,105.10 506.25,104.98 507.89,104.85 509.53,104.73 511.16,104.61 512.80,104.49 514.44,104.37 516.08,104.25 517.72,104.13 519.36,104.01 521.00,103.89 522.63,103.78 524.27,103.66 525.91,103.55 527.55,103.44 529.19,103.33 530.83,103.21 532.47,103.10 534.11,102.99 535.75,102.88 537.39,102.77 539.03,102.66 540.67,102.55 542.31,102.44 543.95,102.33 545.60,102.22 547.24,102.12 548.88,102.01 550.52,101.90 552.16,101.79 553.80,101.68 555.44,101.57 557.08,101.46 558.72,101.35 560.37,101.24 562.01,101.13 563.65,101.02 565.29,100.91 566.93,100.80 568.57,100.69 570.21,100.57 571.85,100.46 573.50,100.34 575.14,100.23 576.78,100.11 578.42,99.99 580.06,99.88 581.70,99.76 583.34,99.64 584.99,99.52 586.63,99.39 588.27,99.27 589.91,99.14 591.55,99.02 593.19,98.89 594.83,98.76 596.47,98.63 598.11,98.50 599.75,98.36 601.40,98.23 603.04,98.09 604.68,97.95 606.32,97.81 607.96,97.67 609.60,97.53 611.24,97.38 612.88,97.24 614.52,97.09 616.16,96.94 617.80,96.79 619.44,96.64 621.08,96.48 622.71,96.33 624.35,96.18 625.99,96.02 627.63,95.86 629.27,95.70 630.91,95.54 632.55,95.38 634.18,95.22 635.82,95.06 637.46,94.89 639.10,94.73 640.74,94.56 642.37,94.40 644.01,94.23 645.65,94.06 647.28,93.89 648.92,93.72 650.55,93.55 652.19,93.38 653.83,93.21 655.46,93.04 657.10,92.87 658.73,92.69 660.37,92.52 662.00,92.34 663.63,92.17 665.27,91.99 666.90,91.82 668.53,91.64 670.17,91.47 671.80,91.29 673.43,91.11 675.06,90.94 676.70,90.76 678.33,90.58 679.96,90.41 681.59,90.23 683.22,90.05 684.85,89.88 686.48,89.70 688.11,89.52 689.74,89.34 691.37,89.17 693.00,88.99 694.62,88.81 696.25,88.64 697.88,88.46 699.51,88.29 701.13,88.11 702.76,87.93 704.39,87.76 706.01,87.59 707.64,87.41 709.26,87.24 710.89,87.07 712.51,86.89 714.13,86.72 715.76,86.55 717.38,86.38 719.00,86.21 720.62,86.04 722.24,85.87 723.87,85.70 725.49,85.54 727.11,85.37 728.73,85.21 730.35,85.04 731.96,84.88 733.58,84.72 735.20,84.55 736.82,84.39 738.43,84.23 740.05,84.08 741.67,83.92 743.28,83.76" stroke="#f00" stroke-width="1.55" stroke-linecap="round"/>
</g>
<rect x="59.04" y="59.04" width="710.72" height="667.52" fill="none" stroke="#000" stroke-width="0.75"/>
<g stroke="#000" stroke-width="0.75" fill="none" stroke-linecap="round">
<path d="M85.36,726.56 L743.44,726.56"/>
<path d="M85.36,726.56 l0,7.2"/>
<path d="M216.98,726.56 l0,7.2"/>
<path d="M348.59,726.56 l0,7.2"/>
<path d="M480.21,726.56 l0,7.2"/>
<path d="M611.82,726.56 l0,7.2"/>
<path d="M743.44,726.56 l0,7.2"/>
<path d="M59.04,701.84 L59.04,83.76"/>
<path d="M59.04,701.84 l-7.2,0"/>
<path d="M59.04,578.22 l-7.2,0"/>
<path d="M59.04,454.61 l-7.2,0"/>
<path d="M59.04,330.99 l-7.2,0"/>
<path d="M59.04,207.38 l-7.2,0"/>
<path d="M59.04,83.76 l-7.2,0"/>
</g>
<g font-size="14.4" fill="#000" text-anchor="middle" style="filter:opacity(1)">
<text x="85.86" y="752.2">0.0</text>
<text x="217.48" y="752.2">0.2</text>
<text x="349.09" y="752.2">0.4</text>
<text x="480.71" y="752.2">0.6</text>
<text x="612.32" y="752.2">0.8</text>
<text x="743.94" y="752.2">1.0</text>
<text transform="translate(42.2,701.54) rotate(-90)">0.5</text>
<text transform="translate(42.2,577.92) rotate(-90)">0.6</text>
<text transform="translate(42.2,454.31) rotate(-90)">0.7</text>
<text transform="translate(42.2,330.69) rotate(-90)">0.8</text>
<text transform="translate(42.2,207.08) rotate(-90)">0.9</text>
<text transform="translate(42.2,83.46) rotate(-90)">1.0</text>
<text x="414.40" y="781.3" letter-spacing="-0.04">Coding Probability Cutoff</text>
<text transform="translate(12.9,392.20) rotate(-90)" letter-spacing="0.12">Performance</text>
<text x="414.50" y="34.5" font-size="14.4" font-weight="bold" letter-spacing="0.1">Two-Graph ROC curves</text>
<text x="85.86" y="125.71" font-size="16.8" letter-spacing="0.9">0.971</text>
<text x="386.90" y="707.94" font-size="16.8" letter-spacing="0.9">0.457</text>
</g>
<g stroke="#000" stroke-width="1.125" stroke-dasharray="4.5 4.5" stroke-linecap="round" clip-path="url(#c)">
<path d="M59.04,120.25 L769.76,120.25"/>
<path d="M386.3,726.56 L386.3,59.04"/>
</g>
<rect x="629" y="371" width="140.76" height="43.2" fill="#fff" stroke="#000" stroke-width="0.75"/>
<path d="M639.4,385.4 L662,385.4" stroke="#00f" stroke-width="1.5"/>
<path d="M639.4,399.7 L662,399.7" stroke="#f00" stroke-width="1.5"/>
<g font-size="12" letter-spacing="0.1" style="filter:opacity(1)">
<text x="672.4" y="389.6">mRNA sensitivity</text>
<text x="672.4" y="404">mRNA specificity</text>
</g>
</svg>
</body></html>
